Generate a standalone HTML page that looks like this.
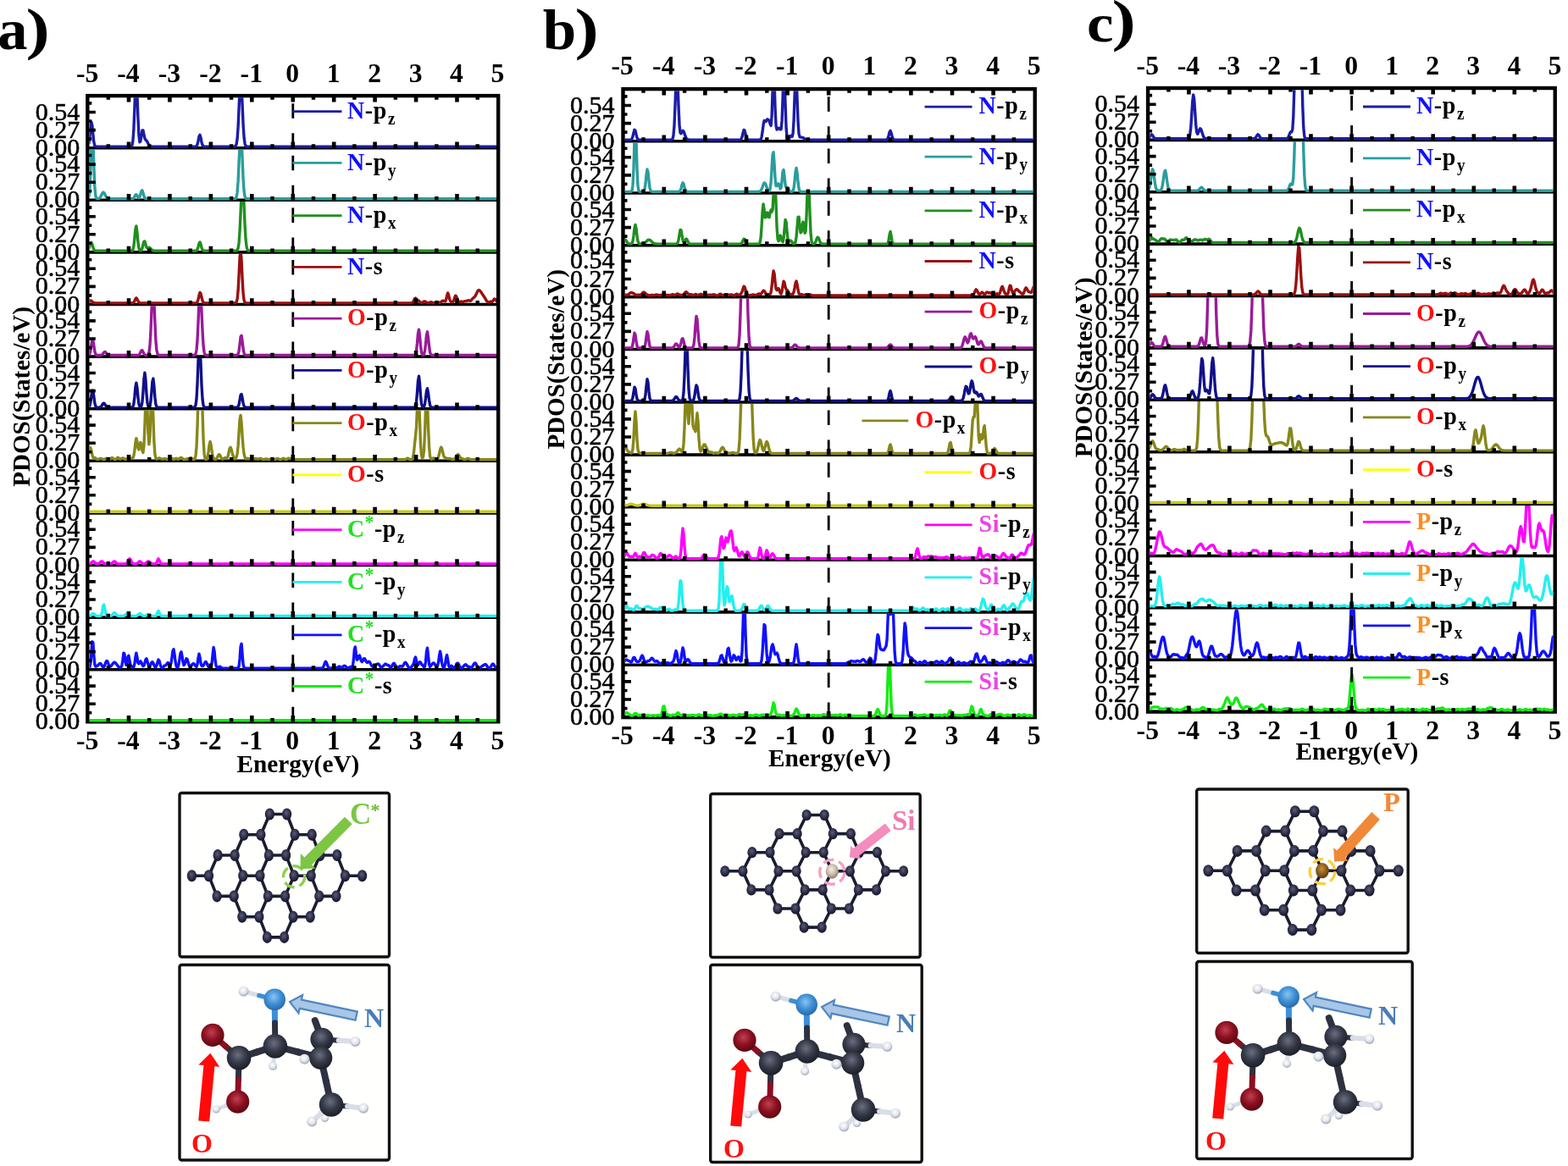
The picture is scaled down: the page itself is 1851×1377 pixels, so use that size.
<!DOCTYPE html><html><head><meta charset="utf-8"><style>html,body{margin:0;padding:0;background:#fff;}svg{display:block}</style></head><body>
<svg width="1851" height="1377" viewBox="0 0 1851 1377" font-family='"Liberation Serif", "Times New Roman", serif' font-weight="bold">
<rect width="1851" height="1377" fill="#fff"/>
<defs>
<clipPath id="cla0"><rect x="105.5" y="115.3" width="480.5" height="61.4"/></clipPath>
<clipPath id="cla1"><rect x="105.5" y="176.5" width="480.5" height="61.8"/></clipPath>
<clipPath id="cla2"><rect x="105.5" y="238.1" width="480.5" height="61.8"/></clipPath>
<clipPath id="cla3"><rect x="105.5" y="299.7" width="480.5" height="61.8"/></clipPath>
<clipPath id="cla4"><rect x="105.5" y="361.3" width="480.5" height="61.8"/></clipPath>
<clipPath id="cla5"><rect x="105.5" y="422.9" width="480.5" height="61.8"/></clipPath>
<clipPath id="cla6"><rect x="105.5" y="484.5" width="480.5" height="61.8"/></clipPath>
<clipPath id="cla7"><rect x="105.5" y="546.1" width="480.5" height="61.8"/></clipPath>
<clipPath id="cla8"><rect x="105.5" y="607.7" width="480.5" height="61.8"/></clipPath>
<clipPath id="cla9"><rect x="105.5" y="669.3" width="480.5" height="61.8"/></clipPath>
<clipPath id="cla10"><rect x="105.5" y="730.9" width="480.5" height="61.8"/></clipPath>
<clipPath id="cla11"><rect x="105.5" y="792.5" width="480.5" height="61.8"/></clipPath>
<clipPath id="clb0"><rect x="737.7" y="107.3" width="481.8" height="61.4"/></clipPath>
<clipPath id="clb1"><rect x="737.7" y="168.5" width="481.8" height="61.5"/></clipPath>
<clipPath id="clb2"><rect x="737.7" y="229.8" width="481.8" height="61.9"/></clipPath>
<clipPath id="clb3"><rect x="737.7" y="291.5" width="481.8" height="61.1"/></clipPath>
<clipPath id="clb4"><rect x="737.7" y="352.4" width="481.8" height="62.1"/></clipPath>
<clipPath id="clb5"><rect x="737.7" y="414.3" width="481.8" height="62.7"/></clipPath>
<clipPath id="clb6"><rect x="737.7" y="476.8" width="481.8" height="62.3"/></clipPath>
<clipPath id="clb7"><rect x="737.7" y="538.9" width="481.8" height="61.9"/></clipPath>
<clipPath id="clb8"><rect x="737.7" y="600.6" width="481.8" height="62.7"/></clipPath>
<clipPath id="clb9"><rect x="737.7" y="663.1" width="481.8" height="61.8"/></clipPath>
<clipPath id="clb10"><rect x="737.7" y="724.7" width="481.8" height="62.5"/></clipPath>
<clipPath id="clb11"><rect x="737.7" y="787.0" width="481.8" height="62.1"/></clipPath>
<clipPath id="clc0"><rect x="1357.3" y="106.2" width="476.2" height="61.2"/></clipPath>
<clipPath id="clc1"><rect x="1357.3" y="167.2" width="476.2" height="61.6"/></clipPath>
<clipPath id="clc2"><rect x="1357.3" y="228.6" width="476.2" height="61.6"/></clipPath>
<clipPath id="clc3"><rect x="1357.3" y="289.9" width="476.2" height="61.6"/></clipPath>
<clipPath id="clc4"><rect x="1357.3" y="351.3" width="476.2" height="61.6"/></clipPath>
<clipPath id="clc5"><rect x="1357.3" y="412.7" width="476.2" height="61.6"/></clipPath>
<clipPath id="clc6"><rect x="1357.3" y="474.1" width="476.2" height="61.6"/></clipPath>
<clipPath id="clc7"><rect x="1357.3" y="535.5" width="476.2" height="61.6"/></clipPath>
<clipPath id="clc8"><rect x="1357.3" y="596.9" width="476.2" height="61.6"/></clipPath>
<clipPath id="clc9"><rect x="1357.3" y="658.2" width="476.2" height="61.6"/></clipPath>
<clipPath id="clc10"><rect x="1357.3" y="719.6" width="476.2" height="61.6"/></clipPath>
<clipPath id="clc11"><rect x="1357.3" y="781.0" width="476.2" height="61.6"/></clipPath>
</defs>
<path d="M103.3,174.7H588.2 M103.3,236.3H588.2 M103.3,297.9H588.2 M103.3,359.5H588.2 M103.3,421.1H588.2 M103.3,482.7H588.2 M103.3,544.3H588.2 M103.3,605.9H588.2 M103.3,667.5H588.2 M103.3,729.1H588.2 M103.3,790.7H588.2" stroke="#000" stroke-width="3.6" fill="none"/>
<rect x="103.3" y="113.1" width="484.9" height="739.2" fill="none" stroke="#000" stroke-width="4.4"/>
<path d="M104.8,169.8L105.8,162.8L106.8,151.7L107.8,144.3L108.8,147.9L109.8,158.7L110.8,167.7L111.8,171.8L112.8,172.9L113.8,173.1L153.9,173.1L154.9,172.9L155.9,171.6L156.9,166.5L157.9,152.5L158.9,127.4L159.9,101.4L160.9,93.7L161.9,110.9L162.9,138.7L163.9,159.3L164.9,167.7L165.9,166.7L166.9,160.2L167.9,154.0L168.9,153.9L169.9,158.9L170.9,163.4L171.9,165.2L172.9,166.0L173.9,167.5L174.9,169.5L175.9,171.2L176.9,172.3L177.9,172.8L178.9,173.0L179.9,173.1L230.0,173.1L231.0,173.0L232.0,172.5L233.0,170.7L234.0,166.4L235.0,161.1L236.0,159.2L237.0,162.5L238.0,167.9L239.1,171.4L240.1,172.7L241.1,173.1L276.1,173.1L277.1,173.0L278.1,172.5L279.1,170.3L280.1,164.0L281.1,149.8L282.1,127.4L283.1,104.2L284.1,93.1L285.1,101.8L286.1,124.2L287.1,147.3L288.1,162.6L289.1,169.8L290.1,172.3L291.1,173.0L292.1,173.1L586.7,173.1" fill="none" stroke="#1c1ca6" stroke-width="3.4" stroke-linejoin="round" clip-path="url(#cla0)"/>
<path d="M104.8,232.9L105.8,225.7L106.8,206.1L107.8,175.7L108.8,155.3L109.8,165.1L110.8,195.0L111.8,219.9L112.8,231.1L113.8,234.1L114.8,234.6L115.8,234.6L116.8,234.3L117.8,233.6L118.8,232.2L119.8,230.2L120.8,228.2L121.8,227.1L122.8,227.7L123.8,229.5L124.8,231.6L125.8,233.2L126.8,234.1L127.8,234.5L128.8,234.7L155.9,234.7L156.9,234.5L157.9,233.8L158.9,232.2L159.9,230.3L160.9,229.7L161.9,231.0L162.9,232.8L163.9,233.6L164.9,232.4L165.9,229.2L166.9,225.6L167.9,224.9L168.9,227.8L169.9,231.5L170.9,233.8L171.9,234.5L172.9,234.7L276.1,234.7L277.1,234.6L278.1,234.3L279.1,232.7L280.1,227.2L281.1,213.9L282.1,191.3L283.1,166.7L284.1,154.7L285.1,164.1L286.1,188.0L287.1,211.5L288.1,226.0L289.1,232.3L290.1,234.2L291.1,234.6L292.1,234.7L586.7,234.7" fill="none" stroke="#2a9d9d" stroke-width="3.4" stroke-linejoin="round" clip-path="url(#cla1)"/>
<path d="M104.8,293.7L105.8,290.6L106.8,287.3L107.8,286.4L108.8,288.5L109.8,292.0L110.8,294.6L111.8,295.8L112.8,296.2L113.8,296.3L154.9,296.3L155.9,296.1L156.9,294.9L157.9,290.7L158.9,281.4L159.9,270.4L160.9,266.9L161.9,274.5L162.9,285.8L163.9,293.0L164.9,295.6L165.9,296.1L166.9,295.4L167.9,293.2L168.9,289.0L169.9,285.1L170.9,285.0L171.9,288.5L172.9,291.9L173.9,293.0L174.9,292.6L175.9,292.3L176.9,292.7L177.9,293.7L178.9,294.8L179.9,295.6L180.9,296.0L181.9,296.2L182.9,296.3L230.0,296.3L231.0,296.2L232.0,295.9L233.0,294.5L234.0,291.4L235.0,287.5L236.0,286.0L237.0,288.5L238.0,292.5L239.1,295.1L240.1,296.0L241.1,296.3L278.1,296.3L279.1,296.1L280.1,295.5L281.1,293.1L282.1,286.4L283.1,272.3L284.1,250.7L285.1,228.3L286.1,216.5L287.1,222.8L288.1,243.1L289.1,266.0L290.1,282.8L291.1,291.5L292.1,295.0L293.2,296.0L294.2,296.3L586.7,296.3" fill="none" stroke="#1f8f1f" stroke-width="3.4" stroke-linejoin="round" clip-path="url(#cla2)"/>
<path d="M104.8,356.6L105.8,355.6L106.8,354.9L107.8,355.2L108.8,356.2L109.8,357.1L110.8,357.7L111.8,357.8L112.8,357.9L155.9,357.9L156.9,357.7L157.9,357.0L158.9,355.3L159.9,353.0L160.9,351.9L161.9,353.1L162.9,355.4L163.9,357.0L164.9,357.7L165.9,357.9L231.0,357.9L232.0,357.6L233.0,356.6L234.0,353.6L235.0,348.8L236.0,345.4L237.0,346.6L238.0,351.3L239.1,355.4L240.1,357.3L241.1,357.8L242.1,357.9L277.1,357.9L278.1,357.7L279.1,356.9L280.1,353.3L281.1,343.0L282.1,324.0L283.1,303.5L284.1,296.1L285.1,308.3L286.1,329.8L287.1,346.6L288.1,354.7L289.1,357.3L290.1,357.8L291.1,357.9L484.5,357.9L485.5,357.8L486.5,357.6L487.5,356.7L488.5,354.8L489.5,352.7L490.5,352.1L491.5,353.4L492.5,354.8L493.5,354.9L494.5,355.2L495.5,356.6L496.5,357.5L497.5,357.6L498.5,357.2L499.5,356.6L500.5,356.0L501.5,355.9L502.5,356.4L503.5,357.0L504.5,357.5L505.5,357.8L506.6,357.6L507.6,357.1L508.6,356.7L509.6,356.9L510.6,357.5L511.6,357.8L512.6,357.8L513.6,357.6L514.6,357.2L515.6,356.9L516.6,356.8L517.6,357.0L518.6,357.3L519.6,357.2L520.6,356.7L521.6,355.9L522.6,355.2L523.6,355.2L524.6,355.7L525.6,355.9L526.6,353.9L527.6,349.3L528.6,346.0L529.6,348.3L530.6,352.9L531.6,355.5L532.6,356.3L533.6,356.7L534.6,356.5L535.6,354.8L536.6,351.7L537.6,349.2L538.6,349.7L539.6,352.6L540.6,355.5L541.6,356.8L542.6,356.7L543.6,356.1L544.6,356.0L545.6,356.4L546.6,356.5L547.6,356.1L548.6,355.6L549.6,355.6L550.6,355.6L551.6,355.2L552.6,354.6L553.6,354.8L554.6,355.4L555.6,355.2L556.6,354.2L557.6,353.0L558.6,352.0L559.6,351.2L560.7,350.1L561.7,348.5L562.7,346.3L563.7,344.1L564.7,342.8L565.7,342.7L566.7,343.5L567.7,344.8L568.7,346.2L569.7,347.8L570.7,349.2L571.7,350.7L572.7,352.4L573.7,354.3L574.7,355.7L575.7,356.5L576.7,356.9L577.7,356.8L578.7,356.3L579.7,356.3L580.7,356.4L581.7,355.7L582.7,354.1L583.7,353.0L584.7,353.3L585.7,354.9L586.7,356.5" fill="none" stroke="#9a1010" stroke-width="3.4" stroke-linejoin="round" clip-path="url(#cla3)"/>
<path d="M104.8,419.3L105.8,418.1L106.8,414.6L107.8,408.0L108.8,401.9L109.8,402.0L110.8,408.1L111.8,414.7L112.8,418.2L113.8,419.3L114.8,419.5L117.8,419.5L118.8,419.4L119.8,419.2L120.8,418.6L121.8,417.5L122.8,416.1L123.8,415.5L124.8,416.2L125.8,417.6L126.8,418.7L127.8,419.3L128.8,419.5L161.9,419.5L162.9,419.4L163.9,419.1L164.9,418.1L165.9,416.0L166.9,413.9L167.9,413.7L168.9,415.6L169.9,417.8L170.9,419.0L171.9,419.4L172.9,419.5L173.9,419.4L174.9,418.8L175.9,416.4L176.9,409.0L177.9,392.7L178.9,368.2L179.9,345.8L180.9,340.2L181.9,355.4L182.9,380.6L183.9,401.8L184.9,413.5L186.0,417.9L187.0,419.2L188.0,419.5L229.0,419.5L230.0,419.2L231.0,418.0L232.0,413.5L233.0,402.0L234.0,380.9L235.0,355.7L236.0,340.2L237.0,345.6L238.0,367.8L239.1,392.4L240.1,408.8L241.1,416.3L242.1,418.8L243.1,419.4L244.1,419.5L279.1,419.5L280.1,419.3L281.1,418.2L282.1,414.3L283.1,406.4L284.1,397.8L285.1,396.3L286.1,403.3L287.1,412.1L288.1,417.3L289.1,419.1L290.1,419.4L291.1,419.5L488.5,419.5L489.5,419.3L490.5,418.3L491.5,414.3L492.5,405.2L493.5,393.7L494.5,389.2L495.5,396.4L496.5,408.0L497.5,415.8L498.5,418.7L499.5,419.2L500.5,418.3L501.5,414.6L502.5,406.2L503.5,395.7L504.5,391.8L505.5,398.5L506.6,409.1L507.6,416.2L508.6,418.8L509.6,419.4L510.6,419.5L586.7,419.5" fill="none" stroke="#9a1a9a" stroke-width="3.4" stroke-linejoin="round" clip-path="url(#cla4)"/>
<path d="M104.8,480.8L105.8,479.6L106.8,475.6L107.8,468.1L108.8,461.2L109.8,461.2L110.8,468.2L111.8,475.7L112.8,479.6L113.8,480.8L114.8,481.1L116.8,481.1L117.8,481.0L118.8,480.6L119.8,479.6L120.8,478.0L121.8,476.5L122.8,476.2L123.8,477.4L124.8,479.2L125.8,480.4L126.8,480.9L127.8,481.1L154.9,481.1L155.9,481.0L156.9,480.2L157.9,476.9L158.9,468.7L159.9,457.6L160.9,452.1L161.9,457.7L162.9,468.8L163.9,476.9L164.9,480.1L165.9,480.8L166.9,479.7L167.9,475.0L168.9,463.4L169.9,447.7L170.9,440.1L171.9,448.3L172.9,464.1L173.9,475.3L174.9,479.8L175.9,480.6L176.9,479.4L177.9,474.4L178.9,463.4L179.9,450.7L180.9,447.1L181.9,456.4L182.9,469.4L183.9,477.5L184.9,480.4L186.0,481.0L187.0,481.1L228.0,481.1L229.0,481.0L230.0,480.6L231.0,478.6L232.0,471.0L233.0,453.0L234.0,425.7L235.0,403.9L236.0,405.1L237.0,428.2L238.0,455.1L239.1,472.1L240.1,478.9L241.1,480.7L242.1,481.1L279.1,481.1L280.1,480.9L281.1,480.2L282.1,477.6L283.1,472.3L284.1,466.5L285.1,465.5L286.1,470.2L287.1,476.1L288.1,479.6L289.1,480.8L290.1,481.1L488.5,481.1L489.5,480.9L490.5,479.6L491.5,474.8L492.5,463.7L493.5,449.7L494.5,444.2L495.5,452.9L496.5,467.1L497.5,476.6L498.5,480.1L499.5,480.8L500.5,480.2L501.5,477.2L502.5,470.3L503.5,461.9L504.5,458.7L505.5,464.1L506.6,472.7L507.6,478.4L508.6,480.5L509.6,481.0L510.6,481.1L586.7,481.1" fill="none" stroke="#10108a" stroke-width="3.4" stroke-linejoin="round" clip-path="url(#cla5)"/>
<path d="M104.8,535.0L105.8,530.3L106.8,528.7L107.8,531.8L108.8,536.7L109.8,540.2L110.8,541.0L111.8,540.7L112.8,541.0L113.8,541.9L114.8,542.4L115.8,542.4L116.8,542.1L117.8,541.7L118.8,541.5L119.8,541.7L120.8,542.1L121.8,542.4L122.8,542.5L123.8,542.2L124.8,541.6L125.8,541.3L126.8,541.8L127.8,542.4L128.8,542.6L129.8,542.3L130.8,541.6L131.9,540.6L132.9,540.6L133.9,541.6L134.9,542.3L135.9,542.6L136.9,542.3L137.9,541.3L138.9,540.3L139.9,540.7L140.9,541.8L141.9,542.1L142.9,541.7L143.9,541.1L144.9,541.0L145.9,541.3L146.9,541.9L147.9,542.3L148.9,542.3L149.9,541.9L150.9,541.2L151.9,540.7L152.9,540.8L153.9,541.4L154.9,541.6L155.9,541.2L156.9,540.5L157.9,538.3L158.9,532.1L159.9,522.9L160.9,517.6L161.9,521.4L162.9,529.0L163.9,531.1L164.9,526.3L165.9,522.4L166.9,525.4L167.9,532.0L168.9,534.6L169.9,526.6L170.9,503.6L171.9,474.1L172.9,462.7L173.9,481.3L174.9,510.4L175.9,524.8L176.9,516.3L177.9,489.8L178.9,465.2L179.9,466.8L180.9,493.6L181.9,521.5L182.9,536.4L183.9,541.2L184.9,542.1L186.0,541.8L187.0,541.3L188.0,541.0L189.0,541.3L190.0,541.8L191.0,542.1L192.0,542.1L193.0,541.8L194.0,541.6L195.0,541.7L196.0,542.0L197.0,542.3L198.0,542.5L199.0,542.6L200.0,542.2L201.0,541.3L202.0,540.7L203.0,541.2L204.0,542.1L205.0,542.5L206.0,542.2L207.0,541.6L208.0,541.3L209.0,541.6L210.0,542.2L211.0,542.2L212.0,541.5L213.0,540.6L214.0,540.4L215.0,541.1L216.0,542.0L217.0,542.5L218.0,542.6L219.0,542.4L220.0,542.0L221.0,541.9L222.0,542.2L223.0,542.1L224.0,541.3L225.0,540.5L226.0,540.9L227.0,542.0L228.0,542.5L229.0,542.4L230.0,541.5L231.0,538.3L232.0,528.0L233.0,504.2L234.0,469.9L235.0,442.1L236.0,431.3L237.0,434.8L238.0,454.5L239.1,488.4L240.1,519.6L241.1,536.2L242.1,541.5L243.1,542.5L244.1,542.0L245.1,539.6L246.1,533.5L247.1,525.4L248.1,521.4L249.1,525.2L250.1,532.9L251.1,538.7L252.1,541.1L253.1,541.9L254.1,542.3L255.1,542.1L256.1,541.1L257.1,539.0L258.1,537.0L259.1,536.8L260.1,538.5L261.1,540.6L262.1,541.8L263.1,542.0L264.1,541.5L265.1,540.8L266.1,540.8L267.1,541.2L268.1,540.9L269.1,538.7L270.1,534.2L271.1,529.7L272.1,528.2L273.1,530.7L274.1,534.7L275.1,538.2L276.1,540.7L277.1,541.9L278.1,541.4L279.1,539.7L280.1,535.8L281.1,526.4L282.1,510.6L283.1,495.1L284.1,490.4L285.1,499.7L286.1,515.4L287.1,528.4L288.1,536.2L289.1,540.2L290.1,541.8L291.1,541.7L292.1,541.3L293.2,541.6L294.2,541.9L295.2,541.7L296.2,541.2L297.2,540.9L298.2,541.0L299.2,541.4L300.2,541.7L301.2,541.7L302.2,541.7L303.2,541.9L304.2,542.1L305.2,542.0L306.2,541.7L307.2,541.5L308.2,541.7L309.2,542.1L310.2,542.4L311.2,542.6L312.2,542.5L313.2,542.2L314.2,541.9L315.2,542.1L316.2,542.4L317.2,542.6L318.2,542.4L319.2,542.2L320.2,542.2L321.2,542.3L322.2,542.5L323.2,542.6L324.2,542.6L325.2,542.4L326.2,541.9L327.2,541.5L328.2,541.6L329.2,542.0L330.2,542.5L331.2,542.6L332.2,542.4L333.2,541.8L334.2,541.3L335.2,541.5L336.2,542.2L337.2,542.6L338.2,542.4L339.2,541.9L340.2,541.3L341.2,541.3L342.2,541.6L343.2,541.6L344.2,541.4L345.2,541.5L346.3,541.8L347.3,542.2L348.3,542.5L349.3,542.6L350.3,542.7L477.5,542.7L478.5,542.6L479.5,542.1L480.5,541.3L481.5,541.1L482.5,541.8L483.5,542.5L484.5,542.7L485.5,542.7L486.5,542.3L487.5,540.4L488.5,534.4L489.5,524.3L490.5,515.2L491.5,504.7L492.5,483.2L493.5,462.5L494.5,467.6L495.5,496.6L496.5,524.2L497.5,537.6L498.5,541.0L499.5,539.7L500.5,532.2L501.5,512.3L502.5,482.2L503.5,462.9L504.5,473.9L505.5,503.7L506.6,527.9L507.6,538.7L508.6,541.8L509.6,542.2L510.6,541.6L511.6,540.9L512.6,541.3L513.6,542.2L514.6,542.5L515.6,542.4L516.6,541.5L517.6,539.4L518.6,535.7L519.6,531.0L520.6,528.2L521.6,529.4L522.6,533.7L523.6,537.9L524.6,539.9L525.6,540.6L526.6,540.9L527.6,541.4L528.6,541.7L529.6,541.7L530.6,541.5L531.6,541.6L532.6,542.0L533.6,542.3L534.6,542.5L535.6,542.4L536.6,541.9L537.6,540.7L538.6,539.0L539.6,537.3L540.6,536.5L541.6,537.4L542.6,539.3L543.6,540.8L544.6,541.2L545.6,541.5L546.6,542.0L547.6,542.4L548.6,542.6L549.6,542.4L550.6,542.0L551.6,541.5L552.6,541.4L553.6,541.8L554.6,542.3L555.6,542.6L556.6,542.7L586.7,542.7" fill="none" stroke="#87871a" stroke-width="3.4" stroke-linejoin="round" clip-path="url(#cla6)"/>
<path d="M104.8,604.3L586.7,604.3" fill="none" stroke="#c8c818" stroke-width="3.4" stroke-linejoin="round" clip-path="url(#cla7)"/>
<path d="M104.8,665.9L105.8,665.8L106.8,665.4L107.8,664.6L108.8,663.6L109.8,662.9L110.8,663.2L111.8,664.2L112.8,665.1L113.8,665.7L114.8,665.8L115.8,665.7L116.8,665.4L117.8,664.6L118.8,663.5L119.8,662.9L120.8,663.2L121.8,664.2L122.8,665.2L123.8,665.7L124.8,665.8L125.8,665.9L129.8,665.9L130.8,665.7L131.9,665.4L132.9,664.5L133.9,663.5L134.9,662.9L135.9,663.3L136.9,664.3L137.9,665.2L138.9,665.7L139.9,665.9L146.9,665.9L147.9,665.8L148.9,665.6L149.9,664.8L150.9,663.1L151.9,661.1L152.9,659.9L153.9,660.7L154.9,662.7L155.9,664.5L156.9,665.5L157.9,665.8L158.9,665.9L159.9,665.9L160.9,665.7L161.9,665.3L162.9,664.5L163.9,663.5L164.9,662.9L165.9,663.3L166.9,664.3L167.9,665.2L168.9,665.7L169.9,665.8L170.9,665.7L171.9,665.3L172.9,664.5L173.9,663.4L174.9,662.9L175.9,663.3L176.9,664.3L177.9,665.2L178.9,665.7L179.9,665.9L182.9,665.9L183.9,665.6L184.9,664.3L186.0,661.6L187.0,659.9L188.0,661.4L189.0,664.1L190.0,665.5L191.0,665.9L586.7,665.9" fill="none" stroke="#ff00ff" stroke-width="3.4" stroke-linejoin="round" clip-path="url(#cla8)"/>
<path d="M104.8,727.5L105.8,727.4L106.8,727.0L107.8,726.2L108.8,725.2L109.8,724.5L110.8,724.8L111.8,725.8L112.8,726.7L113.8,727.3L114.8,727.4L115.8,727.5L117.8,727.5L118.8,727.3L119.8,725.9L120.8,721.6L121.8,715.3L122.8,714.0L123.8,719.4L124.8,724.9L125.8,727.0L126.8,727.5L129.8,727.5L130.8,727.3L131.9,726.8L132.9,725.7L133.9,724.3L134.9,723.5L135.9,724.0L136.9,725.3L137.9,726.5L138.9,727.2L139.9,727.4L140.9,727.5L144.9,727.5L145.9,727.3L146.9,726.9L147.9,726.1L148.9,725.1L149.9,724.5L150.9,724.9L151.9,725.9L152.9,726.8L153.9,727.3L154.9,727.5L159.9,727.5L160.9,727.3L161.9,726.9L162.9,726.1L163.9,725.1L164.9,724.5L165.9,724.9L166.9,725.9L167.9,726.8L168.9,727.3L169.9,727.4L170.9,727.4L171.9,727.1L172.9,726.5L173.9,725.9L174.9,725.5L175.9,725.8L176.9,726.5L177.9,727.1L178.9,727.4L179.9,727.5L182.9,727.5L183.9,727.2L184.9,725.9L186.0,723.2L187.0,721.5L188.0,723.0L189.0,725.7L190.0,727.1L191.0,727.5L586.7,727.5" fill="none" stroke="#22f0f0" stroke-width="3.4" stroke-linejoin="round" clip-path="url(#cla9)"/>
<path d="M104.8,788.8L105.8,787.9L106.8,783.9L107.8,772.3L108.8,757.8L109.8,758.6L110.8,773.8L111.8,784.5L112.8,787.0L113.8,786.8L114.8,786.4L115.8,785.7L116.8,784.5L117.8,783.5L118.8,783.6L119.8,785.0L120.8,786.8L121.8,788.0L122.8,787.4L123.8,785.2L124.8,782.4L125.8,780.6L126.8,780.9L127.8,783.5L128.8,786.2L129.8,787.3L130.8,786.8L131.9,785.6L132.9,784.1L133.9,782.9L134.9,782.2L135.9,782.5L136.9,783.6L137.9,784.9L138.9,786.2L139.9,787.3L140.9,788.0L141.9,788.1L142.9,787.8L143.9,786.0L144.9,779.5L145.9,771.1L146.9,772.0L147.9,780.7L148.9,785.3L149.9,782.5L150.9,775.9L151.9,774.2L152.9,779.8L153.9,784.8L154.9,786.5L155.9,787.5L156.9,788.1L157.9,787.6L158.9,784.0L159.9,776.2L160.9,771.2L161.9,776.1L162.9,782.7L163.9,783.8L164.9,781.8L165.9,780.9L166.9,782.3L167.9,784.9L168.9,786.6L169.9,786.0L170.9,782.9L171.9,779.1L172.9,777.8L173.9,780.6L174.9,784.7L175.9,786.9L176.9,786.6L177.9,784.7L178.9,782.4L179.9,781.7L180.9,783.1L181.9,785.6L182.9,787.5L183.9,787.8L184.9,785.8L186.0,781.9L187.0,779.1L188.0,780.3L189.0,784.2L190.0,787.2L191.0,788.6L192.0,788.5L193.0,787.4L194.0,786.1L195.0,785.9L196.0,785.4L197.0,783.8L198.0,782.7L199.0,783.1L200.0,784.6L201.0,785.3L202.0,782.9L203.0,776.2L204.0,768.5L205.0,766.8L206.0,772.7L207.0,780.9L208.0,786.3L209.0,788.3L210.0,787.8L211.0,784.6L212.0,778.3L213.0,771.6L214.0,769.9L215.0,775.0L216.0,781.9L217.0,785.5L218.0,784.5L219.0,780.9L220.0,777.8L221.0,778.5L222.0,782.0L223.0,785.3L224.0,786.8L225.0,786.9L226.0,786.0L227.0,784.6L228.0,783.7L229.0,784.0L230.0,785.3L231.0,786.8L232.0,787.4L233.0,784.5L234.0,777.0L235.0,772.1L236.0,776.4L237.0,783.1L238.0,786.1L239.1,786.6L240.1,785.9L241.1,784.1L242.1,782.1L243.1,781.6L244.1,783.2L245.1,785.7L246.1,787.5L247.1,788.0L248.1,787.6L249.1,786.8L250.1,783.1L251.1,773.1L252.1,764.5L253.1,769.4L254.1,780.4L255.1,786.3L256.1,788.2L257.1,788.6L258.1,788.0L259.1,787.1L260.1,787.4L261.1,788.4L262.1,789.0L263.1,789.1L280.1,789.1L281.1,788.8L282.1,786.7L283.1,777.9L284.1,763.4L285.1,760.3L286.1,773.2L287.1,784.8L288.1,788.5L289.1,789.1L379.3,789.1L380.3,788.9L381.3,788.2L382.3,786.2L383.3,783.2L384.3,781.2L385.3,782.2L386.3,785.2L387.3,787.6L388.3,788.8L389.3,789.0L390.3,789.1L391.3,789.0L392.3,788.7L393.3,788.2L394.3,787.9L395.3,787.9L396.3,788.3L397.3,788.6L398.3,788.4L399.4,787.6L400.4,787.0L401.4,787.4L402.4,788.1L403.4,788.3L404.4,787.7L405.4,786.8L406.4,786.3L407.4,786.5L408.4,787.3L409.4,788.2L410.4,788.7L411.4,788.8L412.4,788.4L413.4,787.7L414.4,787.4L415.4,787.8L416.4,786.5L417.4,779.1L418.4,766.9L419.4,763.9L420.4,772.8L421.4,779.3L422.4,778.3L423.4,774.9L424.4,774.1L425.4,777.0L426.4,780.6L427.4,781.6L428.4,780.0L429.4,777.9L430.4,777.7L431.4,779.4L432.4,781.5L433.4,782.4L434.4,781.9L435.4,781.3L436.4,781.9L437.4,783.7L438.4,785.7L439.4,786.9L440.4,787.3L441.4,787.1L442.4,786.5L443.4,785.6L444.4,784.7L445.4,784.1L446.4,784.0L447.4,784.7L448.4,786.3L449.4,787.7L450.4,787.9L451.4,787.3L452.4,786.5L453.5,785.4L454.5,784.3L455.5,784.2L456.5,785.0L457.5,785.5L458.5,785.5L459.5,786.4L460.5,787.7L461.5,788.0L462.5,786.9L463.5,784.9L464.5,783.4L465.5,783.5L466.5,785.3L467.5,787.2L468.5,788.2L469.5,788.3L470.5,787.8L471.5,787.1L472.5,786.7L473.5,786.9L474.5,787.2L475.5,786.7L476.5,785.1L477.5,783.1L478.5,782.2L479.5,783.0L480.5,784.9L481.5,786.8L482.5,788.2L483.5,788.7L484.5,788.6L485.5,787.8L486.5,786.5L487.5,785.4L488.5,783.0L489.5,778.2L490.5,776.0L491.5,780.0L492.5,784.7L493.5,785.3L494.5,783.1L495.5,781.7L496.5,782.3L497.5,784.1L498.5,785.4L499.5,786.4L500.5,787.5L501.5,787.1L502.5,781.2L503.5,769.8L504.5,765.2L505.5,774.3L506.6,784.4L507.6,787.4L508.6,786.4L509.6,784.8L510.6,783.7L511.6,782.9L512.6,783.3L513.6,785.0L514.6,786.5L515.6,786.8L516.6,785.8L517.6,782.2L518.6,774.3L519.6,769.2L520.6,774.4L521.6,782.6L522.6,787.0L523.6,788.3L524.6,787.6L525.6,783.9L526.6,776.9L527.6,773.6L528.6,779.1L529.6,785.8L530.6,788.1L531.6,787.5L532.6,786.3L533.6,786.7L534.6,788.1L535.6,788.7L536.6,788.4L537.6,787.2L538.6,785.2L539.6,783.4L540.6,783.1L541.6,784.8L542.6,787.1L543.6,788.4L544.6,788.8L545.6,788.5L546.6,787.6L547.6,786.4L548.6,785.2L549.6,784.7L550.6,785.4L551.6,786.7L552.6,787.4L553.6,787.3L554.6,787.6L555.6,788.3L556.6,788.4L557.6,787.4L558.6,785.6L559.6,783.8L560.7,782.9L561.7,783.7L562.7,785.5L563.7,787.3L564.7,788.5L565.7,788.9L566.7,788.7L567.7,787.9L568.7,786.9L569.7,786.3L570.7,785.8L571.7,785.0L572.7,784.5L573.7,784.9L574.7,786.2L575.7,787.7L576.7,788.6L577.7,788.8L578.7,788.3L579.7,786.9L580.7,785.1L581.7,784.0L582.7,784.5L583.7,786.2L584.7,787.8L585.7,788.7L586.7,789.0" fill="none" stroke="#1010ff" stroke-width="3.4" stroke-linejoin="round" clip-path="url(#cla10)"/>
<path d="M104.8,850.7L586.7,850.7" fill="none" stroke="#10ee10" stroke-width="3.4" stroke-linejoin="round" clip-path="url(#cla11)"/>
<line x1="345.8" y1="174.7" x2="345.8" y2="113.1" stroke="#000" stroke-width="2.8" stroke-dasharray="17.5 17.5"/>
<line x1="345.8" y1="236.3" x2="345.8" y2="174.7" stroke="#000" stroke-width="2.8" stroke-dasharray="17.5 17.5"/>
<line x1="345.8" y1="297.9" x2="345.8" y2="236.3" stroke="#000" stroke-width="2.8" stroke-dasharray="17.5 17.5"/>
<line x1="345.8" y1="359.5" x2="345.8" y2="297.9" stroke="#000" stroke-width="2.8" stroke-dasharray="17.5 17.5"/>
<line x1="345.8" y1="421.1" x2="345.8" y2="359.5" stroke="#000" stroke-width="2.8" stroke-dasharray="17.5 17.5"/>
<line x1="345.8" y1="482.7" x2="345.8" y2="421.1" stroke="#000" stroke-width="2.8" stroke-dasharray="17.5 17.5"/>
<line x1="345.8" y1="544.3" x2="345.8" y2="482.7" stroke="#000" stroke-width="2.8" stroke-dasharray="17.5 17.5"/>
<line x1="345.8" y1="605.9" x2="345.8" y2="544.3" stroke="#000" stroke-width="2.8" stroke-dasharray="17.5 17.5"/>
<line x1="345.8" y1="667.5" x2="345.8" y2="605.9" stroke="#000" stroke-width="2.8" stroke-dasharray="17.5 17.5"/>
<line x1="345.8" y1="729.1" x2="345.8" y2="667.5" stroke="#000" stroke-width="2.8" stroke-dasharray="17.5 17.5"/>
<line x1="345.8" y1="790.7" x2="345.8" y2="729.1" stroke="#000" stroke-width="2.8" stroke-dasharray="17.5 17.5"/>
<line x1="345.8" y1="852.3" x2="345.8" y2="790.7" stroke="#000" stroke-width="2.8" stroke-dasharray="17.5 17.5"/>
<path d="M152.0,174.7v-7.2 M200.4,174.7v-7.2 M248.9,174.7v-7.2 M297.3,174.7v-7.2 M345.8,174.7v-7.2 M394.2,174.7v-7.2 M442.6,174.7v-7.2 M491.1,174.7v-7.2 M539.5,174.7v-7.2 M152.0,236.3v-7.2 M200.4,236.3v-7.2 M248.9,236.3v-7.2 M297.3,236.3v-7.2 M345.8,236.3v-7.2 M394.2,236.3v-7.2 M442.6,236.3v-7.2 M491.1,236.3v-7.2 M539.5,236.3v-7.2 M152.0,297.9v-7.2 M200.4,297.9v-7.2 M248.9,297.9v-7.2 M297.3,297.9v-7.2 M345.8,297.9v-7.2 M394.2,297.9v-7.2 M442.6,297.9v-7.2 M491.1,297.9v-7.2 M539.5,297.9v-7.2 M152.0,359.5v-7.2 M200.4,359.5v-7.2 M248.9,359.5v-7.2 M297.3,359.5v-7.2 M345.8,359.5v-7.2 M394.2,359.5v-7.2 M442.6,359.5v-7.2 M491.1,359.5v-7.2 M539.5,359.5v-7.2 M152.0,421.1v-7.2 M200.4,421.1v-7.2 M248.9,421.1v-7.2 M297.3,421.1v-7.2 M345.8,421.1v-7.2 M394.2,421.1v-7.2 M442.6,421.1v-7.2 M491.1,421.1v-7.2 M539.5,421.1v-7.2 M152.0,482.7v-7.2 M200.4,482.7v-7.2 M248.9,482.7v-7.2 M297.3,482.7v-7.2 M345.8,482.7v-7.2 M394.2,482.7v-7.2 M442.6,482.7v-7.2 M491.1,482.7v-7.2 M539.5,482.7v-7.2 M152.0,544.3v-7.2 M200.4,544.3v-7.2 M248.9,544.3v-7.2 M297.3,544.3v-7.2 M345.8,544.3v-7.2 M394.2,544.3v-7.2 M442.6,544.3v-7.2 M491.1,544.3v-7.2 M539.5,544.3v-7.2 M152.0,605.9v-7.2 M200.4,605.9v-7.2 M248.9,605.9v-7.2 M297.3,605.9v-7.2 M345.8,605.9v-7.2 M394.2,605.9v-7.2 M442.6,605.9v-7.2 M491.1,605.9v-7.2 M539.5,605.9v-7.2 M152.0,667.5v-7.2 M200.4,667.5v-7.2 M248.9,667.5v-7.2 M297.3,667.5v-7.2 M345.8,667.5v-7.2 M394.2,667.5v-7.2 M442.6,667.5v-7.2 M491.1,667.5v-7.2 M539.5,667.5v-7.2 M152.0,729.1v-7.2 M200.4,729.1v-7.2 M248.9,729.1v-7.2 M297.3,729.1v-7.2 M345.8,729.1v-7.2 M394.2,729.1v-7.2 M442.6,729.1v-7.2 M491.1,729.1v-7.2 M539.5,729.1v-7.2 M152.0,790.7v-7.2 M200.4,790.7v-7.2 M248.9,790.7v-7.2 M297.3,790.7v-7.2 M345.8,790.7v-7.2 M394.2,790.7v-7.2 M442.6,790.7v-7.2 M491.1,790.7v-7.2 M539.5,790.7v-7.2 M152.0,852.3v-7.2 M200.4,852.3v-7.2 M248.9,852.3v-7.2 M297.3,852.3v-7.2 M345.8,852.3v-7.2 M394.2,852.3v-7.2 M442.6,852.3v-7.2 M491.1,852.3v-7.2 M539.5,852.3v-7.2 M152.0,113.1v7.5 M200.4,113.1v7.5 M248.9,113.1v7.5 M297.3,113.1v7.5 M345.8,113.1v7.5 M394.2,113.1v7.5 M442.6,113.1v7.5 M491.1,113.1v7.5 M539.5,113.1v7.5" stroke="#000" stroke-width="4.6" fill="none"/>
<path d="M127.8,174.7v-4.4 M176.2,174.7v-4.4 M224.7,174.7v-4.4 M273.1,174.7v-4.4 M321.5,174.7v-4.4 M370.0,174.7v-4.4 M418.4,174.7v-4.4 M466.9,174.7v-4.4 M515.3,174.7v-4.4 M563.7,174.7v-4.4 M127.8,236.3v-4.4 M176.2,236.3v-4.4 M224.7,236.3v-4.4 M273.1,236.3v-4.4 M321.5,236.3v-4.4 M370.0,236.3v-4.4 M418.4,236.3v-4.4 M466.9,236.3v-4.4 M515.3,236.3v-4.4 M563.7,236.3v-4.4 M127.8,297.9v-4.4 M176.2,297.9v-4.4 M224.7,297.9v-4.4 M273.1,297.9v-4.4 M321.5,297.9v-4.4 M370.0,297.9v-4.4 M418.4,297.9v-4.4 M466.9,297.9v-4.4 M515.3,297.9v-4.4 M563.7,297.9v-4.4 M127.8,359.5v-4.4 M176.2,359.5v-4.4 M224.7,359.5v-4.4 M273.1,359.5v-4.4 M321.5,359.5v-4.4 M370.0,359.5v-4.4 M418.4,359.5v-4.4 M466.9,359.5v-4.4 M515.3,359.5v-4.4 M563.7,359.5v-4.4 M127.8,421.1v-4.4 M176.2,421.1v-4.4 M224.7,421.1v-4.4 M273.1,421.1v-4.4 M321.5,421.1v-4.4 M370.0,421.1v-4.4 M418.4,421.1v-4.4 M466.9,421.1v-4.4 M515.3,421.1v-4.4 M563.7,421.1v-4.4 M127.8,482.7v-4.4 M176.2,482.7v-4.4 M224.7,482.7v-4.4 M273.1,482.7v-4.4 M321.5,482.7v-4.4 M370.0,482.7v-4.4 M418.4,482.7v-4.4 M466.9,482.7v-4.4 M515.3,482.7v-4.4 M563.7,482.7v-4.4 M127.8,544.3v-4.4 M176.2,544.3v-4.4 M224.7,544.3v-4.4 M273.1,544.3v-4.4 M321.5,544.3v-4.4 M370.0,544.3v-4.4 M418.4,544.3v-4.4 M466.9,544.3v-4.4 M515.3,544.3v-4.4 M563.7,544.3v-4.4 M127.8,605.9v-4.4 M176.2,605.9v-4.4 M224.7,605.9v-4.4 M273.1,605.9v-4.4 M321.5,605.9v-4.4 M370.0,605.9v-4.4 M418.4,605.9v-4.4 M466.9,605.9v-4.4 M515.3,605.9v-4.4 M563.7,605.9v-4.4 M127.8,667.5v-4.4 M176.2,667.5v-4.4 M224.7,667.5v-4.4 M273.1,667.5v-4.4 M321.5,667.5v-4.4 M370.0,667.5v-4.4 M418.4,667.5v-4.4 M466.9,667.5v-4.4 M515.3,667.5v-4.4 M563.7,667.5v-4.4 M127.8,729.1v-4.4 M176.2,729.1v-4.4 M224.7,729.1v-4.4 M273.1,729.1v-4.4 M321.5,729.1v-4.4 M370.0,729.1v-4.4 M418.4,729.1v-4.4 M466.9,729.1v-4.4 M515.3,729.1v-4.4 M563.7,729.1v-4.4 M127.8,790.7v-4.4 M176.2,790.7v-4.4 M224.7,790.7v-4.4 M273.1,790.7v-4.4 M321.5,790.7v-4.4 M370.0,790.7v-4.4 M418.4,790.7v-4.4 M466.9,790.7v-4.4 M515.3,790.7v-4.4 M563.7,790.7v-4.4 M127.8,852.3v-4.4 M176.2,852.3v-4.4 M224.7,852.3v-4.4 M273.1,852.3v-4.4 M321.5,852.3v-4.4 M370.0,852.3v-4.4 M418.4,852.3v-4.4 M466.9,852.3v-4.4 M515.3,852.3v-4.4 M563.7,852.3v-4.4 M127.8,113.1v4.6 M176.2,113.1v4.6 M224.7,113.1v4.6 M273.1,113.1v4.6 M321.5,113.1v4.6 M370.0,113.1v4.6 M418.4,113.1v4.6 M466.9,113.1v4.6 M515.3,113.1v4.6 M563.7,113.1v4.6" stroke="#000" stroke-width="4.4" fill="none"/>
<path d="M103.3,164.1h5.0 M103.3,153.6h9.5 M103.3,143.0h5.0 M103.3,132.5h9.5 M103.3,121.9h5.0 M103.3,225.7h5.0 M103.3,215.2h9.5 M103.3,204.6h5.0 M103.3,194.1h9.5 M103.3,183.5h5.0 M103.3,287.3h5.0 M103.3,276.8h9.5 M103.3,266.2h5.0 M103.3,255.7h9.5 M103.3,245.1h5.0 M103.3,348.9h5.0 M103.3,338.4h9.5 M103.3,327.9h5.0 M103.3,317.3h9.5 M103.3,306.8h5.0 M103.3,410.6h5.0 M103.3,400.0h9.5 M103.3,389.5h5.0 M103.3,378.9h9.5 M103.3,368.4h5.0 M103.3,472.1h5.0 M103.3,461.6h9.5 M103.3,451.0h5.0 M103.3,440.5h9.5 M103.3,429.9h5.0 M103.3,533.8h5.0 M103.3,523.2h9.5 M103.3,512.6h5.0 M103.3,502.1h9.5 M103.3,491.5h5.0 M103.3,595.4h5.0 M103.3,584.8h9.5 M103.3,574.2h5.0 M103.3,563.7h9.5 M103.3,553.1h5.0 M103.3,657.0h5.0 M103.3,646.4h9.5 M103.3,635.9h5.0 M103.3,625.3h9.5 M103.3,614.8h5.0 M103.3,718.6h5.0 M103.3,708.0h9.5 M103.3,697.5h5.0 M103.3,686.9h9.5 M103.3,676.4h5.0 M103.3,780.1h5.0 M103.3,769.6h9.5 M103.3,759.0h5.0 M103.3,748.5h9.5 M103.3,737.9h5.0 M103.3,841.8h5.0 M103.3,831.2h9.5 M103.3,820.6h5.0 M103.3,810.1h9.5 M103.3,799.5h5.0" stroke="#000" stroke-width="3.6" fill="none"/>
<line x1="345.5" y1="131.7" x2="403.5" y2="131.7" stroke="#1c1ca6" stroke-width="2.8"/>
<text font-size="28" letter-spacing="0.6" transform="translate(410.0 140.0) scale(1 1.08)"><tspan fill="#1010ff">N</tspan><tspan fill="#000">-p</tspan><tspan font-size="19" dy="6.5" dx="1" fill="#000">z</tspan></text>
<line x1="345.5" y1="192.4" x2="403.5" y2="192.4" stroke="#2a9d9d" stroke-width="2.8"/>
<text font-size="28" letter-spacing="0.6" transform="translate(410.0 200.7) scale(1 1.08)"><tspan fill="#1010ff">N</tspan><tspan fill="#000">-p</tspan><tspan font-size="19" dy="6.5" dx="1" fill="#000">y</tspan></text>
<line x1="345.5" y1="254.7" x2="403.5" y2="254.7" stroke="#1f8f1f" stroke-width="2.8"/>
<text font-size="28" letter-spacing="0.6" transform="translate(410.0 263.0) scale(1 1.08)"><tspan fill="#1010ff">N</tspan><tspan fill="#000">-p</tspan><tspan font-size="19" dy="6.5" dx="1" fill="#000">x</tspan></text>
<line x1="345.5" y1="315.4" x2="403.5" y2="315.4" stroke="#9a1010" stroke-width="2.8"/>
<text font-size="28" letter-spacing="0.6" transform="translate(410.0 323.7) scale(1 1.08)"><tspan fill="#1010ff">N</tspan><tspan fill="#000">-s</tspan></text>
<line x1="345.5" y1="376.1" x2="403.5" y2="376.1" stroke="#9a1a9a" stroke-width="2.8"/>
<text font-size="28" letter-spacing="0.6" transform="translate(410.0 384.4) scale(1 1.08)"><tspan fill="#ff1010">O</tspan><tspan fill="#000">-p</tspan><tspan font-size="19" dy="6.5" dx="1" fill="#000">z</tspan></text>
<line x1="345.5" y1="437.3" x2="403.5" y2="437.3" stroke="#10108a" stroke-width="2.8"/>
<text font-size="28" letter-spacing="0.6" transform="translate(410.0 445.6) scale(1 1.08)"><tspan fill="#ff1010">O</tspan><tspan fill="#000">-p</tspan><tspan font-size="19" dy="6.5" dx="1" fill="#000">y</tspan></text>
<line x1="345.5" y1="499.7" x2="403.5" y2="499.7" stroke="#87871a" stroke-width="2.8"/>
<text font-size="28" letter-spacing="0.6" transform="translate(410.0 508.0) scale(1 1.08)"><tspan fill="#ff1010">O</tspan><tspan fill="#000">-p</tspan><tspan font-size="19" dy="6.5" dx="1" fill="#000">x</tspan></text>
<line x1="345.5" y1="560.9" x2="403.5" y2="560.9" stroke="#ffff00" stroke-width="2.8"/>
<text font-size="28" letter-spacing="0.6" transform="translate(410.0 569.2) scale(1 1.08)"><tspan fill="#ff1010">O</tspan><tspan fill="#000">-s</tspan></text>
<line x1="345.5" y1="625.6" x2="403.5" y2="625.6" stroke="#ff00ff" stroke-width="2.8"/>
<text font-size="28" letter-spacing="0.6" transform="translate(410.0 633.9) scale(1 1.08)"><tspan fill="#22e022">C</tspan><tspan fill="#22e022" font-size="21" dy="-9">*</tspan><tspan dy="9" fill="#000">-p</tspan><tspan font-size="19" dy="6.5" dx="1" fill="#000">z</tspan></text>
<line x1="345.5" y1="687.4" x2="403.5" y2="687.4" stroke="#22f0f0" stroke-width="2.8"/>
<text font-size="28" letter-spacing="0.6" transform="translate(410.0 695.7) scale(1 1.08)"><tspan fill="#22e022">C</tspan><tspan fill="#22e022" font-size="21" dy="-9">*</tspan><tspan dy="9" fill="#000">-p</tspan><tspan font-size="19" dy="6.5" dx="1" fill="#000">y</tspan></text>
<line x1="345.5" y1="749.8" x2="403.5" y2="749.8" stroke="#1010ff" stroke-width="2.8"/>
<text font-size="28" letter-spacing="0.6" transform="translate(410.0 758.1) scale(1 1.08)"><tspan fill="#22e022">C</tspan><tspan fill="#22e022" font-size="21" dy="-9">*</tspan><tspan dy="9" fill="#000">-p</tspan><tspan font-size="19" dy="6.5" dx="1" fill="#000">x</tspan></text>
<line x1="345.5" y1="810.5" x2="403.5" y2="810.5" stroke="#10ee10" stroke-width="2.8"/>
<text font-size="28" letter-spacing="0.6" transform="translate(410.0 818.8) scale(1 1.08)"><tspan fill="#22e022">C</tspan><tspan fill="#22e022" font-size="21" dy="-9">*</tspan><tspan dy="9" fill="#000">-s</tspan></text>
<text font-size="32" text-anchor="middle" transform="translate(103.1 97.4) scale(0.99 1)">-5</text>
<text font-size="32" text-anchor="middle" transform="translate(103.1 884.6) scale(0.99 1)">-5</text>
<text font-size="32" text-anchor="middle" transform="translate(151.5 97.4) scale(0.99 1)">-4</text>
<text font-size="32" text-anchor="middle" transform="translate(151.5 884.6) scale(0.99 1)">-4</text>
<text font-size="32" text-anchor="middle" transform="translate(199.9 97.4) scale(0.99 1)">-3</text>
<text font-size="32" text-anchor="middle" transform="translate(199.9 884.6) scale(0.99 1)">-3</text>
<text font-size="32" text-anchor="middle" transform="translate(248.4 97.4) scale(0.99 1)">-2</text>
<text font-size="32" text-anchor="middle" transform="translate(248.4 884.6) scale(0.99 1)">-2</text>
<text font-size="32" text-anchor="middle" transform="translate(296.8 97.4) scale(0.99 1)">-1</text>
<text font-size="32" text-anchor="middle" transform="translate(296.8 884.6) scale(0.99 1)">-1</text>
<text font-size="32" text-anchor="middle" transform="translate(345.2 97.4) scale(0.99 1)">0</text>
<text font-size="32" text-anchor="middle" transform="translate(345.2 884.6) scale(0.99 1)">0</text>
<text font-size="32" text-anchor="middle" transform="translate(393.7 97.4) scale(0.99 1)">1</text>
<text font-size="32" text-anchor="middle" transform="translate(393.7 884.6) scale(0.99 1)">1</text>
<text font-size="32" text-anchor="middle" transform="translate(442.1 97.4) scale(0.99 1)">2</text>
<text font-size="32" text-anchor="middle" transform="translate(442.1 884.6) scale(0.99 1)">2</text>
<text font-size="32" text-anchor="middle" transform="translate(490.6 97.4) scale(0.99 1)">3</text>
<text font-size="32" text-anchor="middle" transform="translate(490.6 884.6) scale(0.99 1)">3</text>
<text font-size="32" text-anchor="middle" transform="translate(539.0 97.4) scale(0.99 1)">4</text>
<text font-size="32" text-anchor="middle" transform="translate(539.0 884.6) scale(0.99 1)">4</text>
<text font-size="32" text-anchor="middle" transform="translate(587.5 97.4) scale(0.99 1)">5</text>
<text font-size="32" text-anchor="middle" transform="translate(587.5 884.6) scale(0.99 1)">5</text>
<text x="94.3" y="183.7" font-size="30" font-weight="normal" stroke="#000" stroke-width="0.55" text-anchor="end">0.00</text>
<text x="94.3" y="162.6" font-size="30" font-weight="normal" stroke="#000" stroke-width="0.55" text-anchor="end">0.27</text>
<text x="94.3" y="141.5" font-size="30" font-weight="normal" stroke="#000" stroke-width="0.55" text-anchor="end">0.54</text>
<text x="94.3" y="245.3" font-size="30" font-weight="normal" stroke="#000" stroke-width="0.55" text-anchor="end">0.00</text>
<text x="94.3" y="224.2" font-size="30" font-weight="normal" stroke="#000" stroke-width="0.55" text-anchor="end">0.27</text>
<text x="94.3" y="203.1" font-size="30" font-weight="normal" stroke="#000" stroke-width="0.55" text-anchor="end">0.54</text>
<text x="94.3" y="306.9" font-size="30" font-weight="normal" stroke="#000" stroke-width="0.55" text-anchor="end">0.00</text>
<text x="94.3" y="285.8" font-size="30" font-weight="normal" stroke="#000" stroke-width="0.55" text-anchor="end">0.27</text>
<text x="94.3" y="264.7" font-size="30" font-weight="normal" stroke="#000" stroke-width="0.55" text-anchor="end">0.54</text>
<text x="94.3" y="368.5" font-size="30" font-weight="normal" stroke="#000" stroke-width="0.55" text-anchor="end">0.00</text>
<text x="94.3" y="347.4" font-size="30" font-weight="normal" stroke="#000" stroke-width="0.55" text-anchor="end">0.27</text>
<text x="94.3" y="326.3" font-size="30" font-weight="normal" stroke="#000" stroke-width="0.55" text-anchor="end">0.54</text>
<text x="94.3" y="430.1" font-size="30" font-weight="normal" stroke="#000" stroke-width="0.55" text-anchor="end">0.00</text>
<text x="94.3" y="409.0" font-size="30" font-weight="normal" stroke="#000" stroke-width="0.55" text-anchor="end">0.27</text>
<text x="94.3" y="387.9" font-size="30" font-weight="normal" stroke="#000" stroke-width="0.55" text-anchor="end">0.54</text>
<text x="94.3" y="491.7" font-size="30" font-weight="normal" stroke="#000" stroke-width="0.55" text-anchor="end">0.00</text>
<text x="94.3" y="470.6" font-size="30" font-weight="normal" stroke="#000" stroke-width="0.55" text-anchor="end">0.27</text>
<text x="94.3" y="449.5" font-size="30" font-weight="normal" stroke="#000" stroke-width="0.55" text-anchor="end">0.54</text>
<text x="94.3" y="553.3" font-size="30" font-weight="normal" stroke="#000" stroke-width="0.55" text-anchor="end">0.00</text>
<text x="94.3" y="532.2" font-size="30" font-weight="normal" stroke="#000" stroke-width="0.55" text-anchor="end">0.27</text>
<text x="94.3" y="511.1" font-size="30" font-weight="normal" stroke="#000" stroke-width="0.55" text-anchor="end">0.54</text>
<text x="94.3" y="614.9" font-size="30" font-weight="normal" stroke="#000" stroke-width="0.55" text-anchor="end">0.00</text>
<text x="94.3" y="593.8" font-size="30" font-weight="normal" stroke="#000" stroke-width="0.55" text-anchor="end">0.27</text>
<text x="94.3" y="572.7" font-size="30" font-weight="normal" stroke="#000" stroke-width="0.55" text-anchor="end">0.54</text>
<text x="94.3" y="676.5" font-size="30" font-weight="normal" stroke="#000" stroke-width="0.55" text-anchor="end">0.00</text>
<text x="94.3" y="655.4" font-size="30" font-weight="normal" stroke="#000" stroke-width="0.55" text-anchor="end">0.27</text>
<text x="94.3" y="634.3" font-size="30" font-weight="normal" stroke="#000" stroke-width="0.55" text-anchor="end">0.54</text>
<text x="94.3" y="738.1" font-size="30" font-weight="normal" stroke="#000" stroke-width="0.55" text-anchor="end">0.00</text>
<text x="94.3" y="717.0" font-size="30" font-weight="normal" stroke="#000" stroke-width="0.55" text-anchor="end">0.27</text>
<text x="94.3" y="695.9" font-size="30" font-weight="normal" stroke="#000" stroke-width="0.55" text-anchor="end">0.54</text>
<text x="94.3" y="799.7" font-size="30" font-weight="normal" stroke="#000" stroke-width="0.55" text-anchor="end">0.00</text>
<text x="94.3" y="778.6" font-size="30" font-weight="normal" stroke="#000" stroke-width="0.55" text-anchor="end">0.27</text>
<text x="94.3" y="757.5" font-size="30" font-weight="normal" stroke="#000" stroke-width="0.55" text-anchor="end">0.54</text>
<text x="94.3" y="861.3" font-size="30" font-weight="normal" stroke="#000" stroke-width="0.55" text-anchor="end">0.00</text>
<text x="94.3" y="840.2" font-size="30" font-weight="normal" stroke="#000" stroke-width="0.55" text-anchor="end">0.27</text>
<text x="94.3" y="819.1" font-size="30" font-weight="normal" stroke="#000" stroke-width="0.55" text-anchor="end">0.54</text>
<text x="351.9" y="912.1" font-size="29.3" text-anchor="middle">Energy(eV)</text>
<path d="M735.5,166.7H1221.7 M735.5,228.0H1221.7 M735.5,289.7H1221.7 M735.5,350.6H1221.7 M735.5,412.5H1221.7 M735.5,475.0H1221.7 M735.5,537.1H1221.7 M735.5,598.8H1221.7 M735.5,661.3H1221.7 M735.5,722.9H1221.7 M735.5,785.2H1221.7" stroke="#000" stroke-width="3.6" fill="none"/>
<rect x="735.5" y="105.1" width="486.2" height="742.0" fill="none" stroke="#000" stroke-width="4.4"/>
<path d="M737.0,165.1L744.0,165.1L745.0,164.9L746.0,163.9L747.0,161.2L748.0,156.7L749.0,153.3L750.0,154.3L751.0,158.7L752.0,162.6L753.0,164.5L754.0,165.0L755.0,165.1L792.0,165.1L793.0,164.9L794.0,164.0L795.0,159.9L796.0,147.8L797.0,124.4L798.0,97.2L799.0,85.1L800.0,98.3L801.0,125.2L802.0,147.2L803.0,156.8L804.0,157.7L805.0,155.8L806.0,154.4L807.0,155.2L808.0,157.7L809.0,160.7L810.0,163.0L811.0,164.3L812.0,164.9L813.0,165.0L814.0,165.1L873.1,165.1L874.1,164.9L875.1,164.0L876.1,161.4L877.1,156.9L878.1,153.4L879.1,154.2L880.1,158.4L881.1,162.5L882.1,164.4L883.1,165.0L884.1,165.1L896.1,165.1L897.1,165.0L898.1,164.3L899.1,161.8L900.1,155.6L901.1,147.4L902.1,142.5L903.1,143.0L904.1,143.5L905.1,141.6L906.1,140.7L907.1,141.6L908.1,142.8L909.1,146.2L910.1,148.4L911.1,136.8L912.1,106.4L913.1,83.6L914.1,96.9L915.1,128.9L916.1,148.7L917.1,153.1L918.1,152.1L919.1,151.1L920.1,151.5L921.1,152.9L922.1,152.6L923.1,142.4L924.1,114.9L925.1,86.7L926.1,90.9L927.1,123.8L928.1,151.7L929.1,162.5L930.1,164.7L931.1,164.4L932.1,162.6L933.1,160.5L934.1,160.3L935.1,161.3L936.1,157.7L937.1,142.0L938.1,112.9L939.1,87.8L940.1,90.3L941.1,117.5L942.1,144.6L943.1,158.1L944.1,161.8L945.1,162.1L946.1,162.1L947.1,162.3L948.1,162.7L949.1,163.3L950.1,163.9L951.1,164.4L952.1,164.7L953.1,164.9L954.1,165.0L955.1,165.1L1045.1,165.1L1046.1,165.0L1047.1,164.7L1048.1,163.3L1049.1,160.0L1050.1,156.0L1051.1,154.4L1052.1,157.0L1053.1,161.0L1054.1,163.8L1055.1,164.8L1056.1,165.1L1220.2,165.1" fill="none" stroke="#1c1ca6" stroke-width="3.4" stroke-linejoin="round" clip-path="url(#clb0)"/>
<path d="M737.0,226.4L744.0,226.4L745.0,226.3L746.0,225.3L747.0,219.3L748.0,199.1L749.0,165.2L750.0,146.4L751.0,165.5L752.0,199.4L753.0,219.5L754.0,225.4L755.0,226.3L756.0,226.4L758.0,226.4L759.0,226.3L760.0,225.8L761.0,223.4L762.0,216.8L763.0,206.7L764.0,199.9L765.0,203.2L766.0,213.2L767.0,221.5L768.0,225.2L769.0,226.2L770.0,226.4L801.0,226.4L802.0,226.1L803.0,225.2L804.0,222.5L805.0,218.4L806.0,215.8L807.0,217.2L808.0,221.2L809.0,224.5L810.0,225.9L811.0,226.3L812.0,226.4L895.1,226.4L896.1,226.3L897.1,226.0L898.1,225.2L899.1,223.5L900.1,220.8L901.1,217.9L902.1,215.9L903.1,216.1L904.1,218.3L905.1,221.2L906.1,223.8L907.1,225.3L908.1,225.6L909.1,223.4L910.1,215.4L911.1,199.1L912.1,182.3L913.1,179.8L914.1,194.2L915.1,211.3L916.1,219.6L917.1,219.5L918.1,216.9L919.1,216.9L920.1,220.0L921.1,222.9L922.1,221.5L923.1,213.2L924.1,202.3L925.1,200.6L926.1,209.8L927.1,218.7L928.1,221.4L929.1,221.3L930.1,222.2L931.1,224.0L932.1,225.6L933.1,226.2L934.1,226.4L935.1,226.2L936.1,225.3L937.1,221.9L938.1,213.6L939.1,203.0L940.1,198.4L941.1,204.6L942.1,215.3L943.1,222.7L944.1,225.6L945.1,226.3L946.1,226.4L1220.2,226.4" fill="none" stroke="#2a9d9d" stroke-width="3.4" stroke-linejoin="round" clip-path="url(#clb1)"/>
<path d="M737.0,283.9L738.0,283.1L739.0,283.9L740.0,285.6L741.0,287.0L742.0,287.8L743.0,288.0L744.0,288.1L745.0,288.0L746.0,287.4L747.0,284.8L748.0,278.4L749.0,269.7L750.0,265.4L751.0,269.8L752.0,278.5L753.0,284.8L754.0,287.4L755.0,288.0L756.0,288.1L757.0,288.0L758.0,288.0L759.0,287.8L760.0,287.5L761.0,286.9L762.0,286.1L763.0,285.2L764.0,284.2L765.0,283.4L766.0,283.1L767.0,283.3L768.0,284.0L769.0,285.0L770.0,286.0L771.0,286.8L772.0,287.4L773.0,287.7L774.0,287.9L775.0,288.0L776.0,288.1L798.0,288.1L799.0,287.9L800.0,286.8L801.0,283.4L802.0,277.2L803.0,271.5L804.0,271.7L805.0,277.5L806.0,283.5L807.0,286.2L808.0,285.7L809.0,283.6L810.0,282.1L811.0,282.9L812.0,285.2L813.0,287.0L814.0,287.8L815.0,288.1L873.1,288.1L874.1,288.0L875.1,287.5L876.1,286.2L877.1,284.0L878.1,282.2L879.1,282.6L880.1,284.8L881.1,286.8L882.1,287.8L883.1,288.0L884.1,288.1L895.1,288.1L896.1,287.8L897.1,286.4L898.1,280.8L899.1,267.4L900.1,249.7L901.1,240.9L902.1,247.4L903.1,256.7L904.1,256.6L905.1,251.3L906.1,251.3L907.1,256.0L908.1,256.7L909.1,251.3L910.1,248.0L911.1,250.3L912.1,247.3L913.1,228.9L914.1,209.0L915.1,213.1L916.1,240.9L917.1,268.6L918.1,282.4L919.1,284.7L920.1,281.2L921.1,278.1L922.1,280.2L923.1,284.5L924.1,285.8L925.1,281.2L926.1,269.8L927.1,259.5L928.1,262.1L929.1,274.3L930.1,283.4L931.1,285.9L932.1,285.1L933.1,284.1L934.1,284.6L935.1,286.1L936.1,287.3L937.1,287.9L938.1,287.6L939.1,285.7L940.1,279.5L941.1,267.6L942.1,256.5L943.1,256.2L944.1,266.3L945.1,274.9L946.1,273.7L947.1,265.9L948.1,262.1L949.1,267.5L950.1,275.3L951.1,273.2L952.1,253.6L953.1,223.7L954.1,208.1L955.1,223.2L956.1,253.8L957.1,276.3L958.1,285.4L959.1,287.7L960.1,288.0L961.1,287.8L962.1,286.9L963.1,284.9L964.1,282.1L965.1,280.2L966.1,280.7L967.1,283.2L968.1,285.8L969.1,287.3L970.1,287.9L971.1,288.1L1046.1,288.1L1047.1,288.0L1048.1,287.3L1049.1,283.8L1050.1,276.9L1051.1,273.5L1052.1,278.7L1053.1,285.1L1054.1,287.6L1055.1,288.1L1220.2,288.1" fill="none" stroke="#1f8f1f" stroke-width="3.4" stroke-linejoin="round" clip-path="url(#clb2)"/>
<path d="M737.0,347.8L738.0,348.0L739.0,348.5L740.0,348.5L741.0,348.1L742.0,347.5L743.0,346.8L744.0,345.9L745.0,345.5L746.0,345.7L747.0,346.1L748.0,346.5L749.0,347.1L750.0,347.9L751.0,348.5L752.0,348.5L753.0,348.2L754.0,348.2L755.0,348.5L756.0,348.5L757.0,347.9L758.0,346.6L759.0,345.4L760.0,345.0L761.0,345.6L762.0,346.5L763.0,347.3L764.0,348.0L765.0,348.5L766.0,348.8L767.0,348.9L768.0,348.8L769.0,348.5L770.0,348.4L771.0,348.6L772.0,348.7L773.0,348.5L774.0,348.2L775.0,348.0L776.0,348.1L777.0,348.4L778.0,348.6L779.0,348.7L780.0,348.5L781.0,348.3L782.0,348.3L783.0,348.6L784.0,348.8L785.0,348.9L786.0,348.7L787.0,348.5L788.0,348.4L789.0,348.5L790.0,348.7L791.0,348.7L792.0,348.4L793.0,347.9L794.0,347.7L795.0,348.0L796.0,348.5L797.0,348.4L798.0,347.8L799.0,347.1L800.0,347.0L801.0,347.6L802.0,348.1L803.0,348.3L804.0,348.4L805.0,348.5L806.0,348.5L807.0,347.8L808.0,346.5L809.0,345.2L810.0,344.8L811.0,345.4L812.0,346.7L813.0,347.8L814.0,348.0L815.0,347.7L816.0,347.7L817.0,348.2L818.0,348.6L819.0,348.6L820.0,348.0L821.0,347.4L822.0,347.6L823.0,348.3L824.0,348.5L825.0,348.3L826.0,347.8L827.0,347.5L828.0,347.5L829.0,347.9L830.0,348.4L831.0,348.6L832.0,348.6L833.0,348.5L834.0,348.4L835.0,348.4L836.0,348.5L837.0,348.4L838.0,348.2L839.0,348.3L840.0,348.3L841.0,348.1L842.0,347.8L843.0,347.9L844.0,348.2L845.0,348.6L846.0,348.9L847.0,348.9L848.0,348.5L849.0,347.8L850.0,347.1L851.0,347.4L852.0,348.2L853.0,348.7L854.0,348.8L855.0,348.6L856.0,348.2L857.0,347.9L858.1,347.7L859.1,347.9L860.1,348.2L861.1,348.2L862.1,348.1L863.1,348.0L864.1,348.2L865.1,348.5L866.1,348.8L867.1,348.7L868.1,348.1L869.1,347.3L870.1,347.3L871.1,348.1L872.1,348.5L873.1,348.1L874.1,347.3L875.1,346.2L876.1,344.2L877.1,340.9L878.1,338.2L879.1,338.9L880.1,342.4L881.1,345.7L882.1,347.5L883.1,348.4L884.1,348.8L885.1,348.9L886.1,348.8L887.1,348.5L888.1,348.1L889.1,348.0L890.1,348.2L891.1,348.5L892.1,348.6L893.1,348.4L894.1,347.8L895.1,347.2L896.1,347.0L897.1,347.2L898.1,347.2L899.1,346.2L900.1,344.5L901.1,343.2L902.1,343.4L903.1,345.0L904.1,346.9L905.1,348.0L906.1,348.2L907.1,347.6L908.1,347.5L909.1,347.5L910.1,345.3L911.1,338.3L912.1,327.3L913.1,320.0L914.1,323.3L915.1,333.6L916.1,341.3L917.1,342.6L918.1,340.8L919.1,340.6L920.1,343.2L921.1,346.1L922.1,347.0L923.1,344.0L924.1,337.3L925.1,332.1L926.1,333.8L927.1,339.0L928.1,341.8L929.1,342.4L930.1,343.7L931.1,345.7L932.1,347.1L933.1,347.5L934.1,347.8L935.1,347.8L936.1,347.1L937.1,344.8L938.1,339.9L939.1,334.1L940.1,332.0L941.1,336.1L942.1,342.4L943.1,346.6L944.1,347.9L945.1,347.8L946.1,347.6L947.1,347.9L948.1,348.4L949.1,348.5L950.1,348.2L951.1,347.8L952.1,347.7L953.1,348.1L954.1,348.3L955.1,348.1L956.1,347.9L957.1,348.2L958.1,348.6L959.1,348.9L960.1,349.0L1147.2,349.0L1148.2,348.7L1149.2,347.9L1150.2,346.0L1151.2,343.5L1152.2,341.9L1153.2,342.6L1154.2,344.8L1155.2,346.8L1156.2,347.6L1157.2,347.0L1158.2,345.8L1159.2,345.1L1160.2,345.7L1161.2,347.0L1162.2,347.8L1163.2,347.1L1164.2,345.6L1165.2,344.9L1166.2,345.5L1167.2,346.0L1168.2,345.7L1169.2,345.7L1170.2,346.4L1171.2,347.5L1172.2,348.4L1173.2,348.8L1174.2,348.7L1175.2,348.0L1176.2,346.9L1177.2,346.8L1178.2,347.6L1179.2,347.8L1180.2,346.3L1181.2,343.2L1182.2,339.7L1183.2,338.3L1184.2,340.4L1185.2,343.8L1186.2,346.0L1187.2,347.1L1188.2,347.7L1189.2,347.7L1190.2,345.8L1191.2,341.2L1192.2,337.2L1193.2,337.7L1194.2,341.9L1195.2,345.3L1196.2,346.1L1197.2,345.0L1198.2,343.5L1199.2,342.2L1200.2,341.6L1201.2,342.0L1202.2,343.2L1203.2,344.2L1204.2,345.0L1205.2,345.8L1206.2,346.9L1207.2,347.4L1208.2,346.5L1209.2,344.1L1210.2,341.2L1211.2,339.8L1212.2,340.9L1213.2,343.1L1214.2,344.5L1215.2,344.8L1216.2,345.0L1217.2,345.3L1218.2,344.5L1219.2,341.6L1220.2,338.1" fill="none" stroke="#9a1010" stroke-width="3.4" stroke-linejoin="round" clip-path="url(#clb3)"/>
<path d="M737.0,410.9L744.0,410.9L745.0,410.8L746.0,409.9L747.0,406.6L748.0,399.5L749.0,393.3L750.0,395.2L751.0,402.7L752.0,408.4L753.0,410.5L754.0,410.9L759.0,410.9L760.0,410.7L761.0,409.7L762.0,405.6L763.0,397.6L764.0,391.6L765.0,394.6L766.0,402.9L767.0,408.6L768.0,410.5L769.0,410.9L793.0,410.9L794.0,410.7L795.0,410.0L796.0,408.7L797.0,407.0L798.0,405.9L799.0,406.5L800.0,408.1L801.0,409.5L802.0,409.9L803.0,408.3L804.0,404.6L805.0,400.5L806.0,399.7L807.0,403.0L808.0,407.3L809.0,409.8L810.0,410.7L811.0,410.9L816.0,410.9L817.0,410.8L818.0,410.1L819.0,407.0L820.0,398.2L821.0,383.9L822.0,373.5L823.0,377.0L824.0,390.9L825.0,403.2L826.0,409.0L827.0,410.6L828.0,410.9L869.1,410.9L870.1,410.8L871.1,410.2L872.1,406.9L873.1,394.7L874.1,367.9L875.1,333.4L876.1,309.3L877.1,300.1L878.1,296.2L879.1,294.9L880.1,298.2L881.1,311.0L882.1,339.8L883.1,374.8L884.1,398.5L885.1,408.1L886.1,410.5L887.1,410.9L933.1,410.9L934.1,410.8L935.1,410.4L936.1,409.6L937.1,408.2L938.1,407.1L939.1,407.1L940.1,408.2L941.1,409.5L942.1,410.4L943.1,410.8L944.1,410.9L1045.1,410.9L1046.1,410.8L1047.1,410.6L1048.1,409.9L1049.1,408.7L1050.1,407.4L1051.1,406.9L1052.1,407.7L1053.1,409.1L1054.1,410.2L1055.1,410.7L1056.1,410.9L1132.2,410.9L1133.2,410.8L1134.2,410.6L1135.2,409.6L1136.2,407.4L1137.2,403.7L1138.2,399.7L1139.2,397.9L1140.2,399.4L1141.2,402.7L1142.2,404.9L1143.2,403.7L1144.2,399.4L1145.2,395.0L1146.2,393.7L1147.2,396.1L1148.2,399.3L1149.2,400.0L1150.2,398.5L1151.2,397.6L1152.2,399.4L1153.2,403.1L1154.2,406.1L1155.2,406.8L1156.2,405.3L1157.2,403.4L1158.2,403.0L1159.2,404.6L1160.2,407.1L1161.2,409.2L1162.2,410.3L1163.2,410.8L1164.2,410.9L1220.2,410.9" fill="none" stroke="#9a1a9a" stroke-width="3.4" stroke-linejoin="round" clip-path="url(#clb4)"/>
<path d="M737.0,473.4L744.0,473.4L745.0,473.3L746.0,472.5L747.0,469.4L748.0,462.9L749.0,457.2L750.0,458.9L751.0,465.8L752.0,471.1L753.0,473.0L754.0,473.4L759.0,473.4L760.0,473.2L761.0,471.7L762.0,466.3L763.0,455.7L764.0,447.6L765.0,451.6L766.0,462.7L767.0,470.3L768.0,472.9L769.0,473.4L793.0,473.4L794.0,473.2L795.0,472.5L796.0,471.2L797.0,469.5L798.0,468.4L799.0,469.0L800.0,470.6L801.0,472.1L802.0,473.0L803.0,473.3L804.0,473.4L805.0,473.1L806.0,471.5L807.0,464.1L808.0,444.2L809.0,413.7L810.0,393.9L811.0,404.4L812.0,434.3L813.0,459.0L814.0,469.9L815.0,472.9L816.0,473.3L817.0,473.3L818.0,473.0L819.0,471.5L820.0,467.2L821.0,460.1L822.0,455.0L823.0,456.7L824.0,463.6L825.0,469.6L826.0,472.5L827.0,473.2L828.0,473.4L871.1,473.4L872.1,473.1L873.1,471.0L874.1,462.3L875.1,440.6L876.1,409.6L877.1,391.0L878.1,396.6L879.1,405.3L880.1,397.6L881.1,390.6L882.1,407.3L883.1,438.2L884.1,461.1L885.1,470.6L886.1,473.0L887.1,473.4L935.1,473.4L936.1,473.2L937.1,472.7L938.1,471.8L939.1,470.8L940.1,470.4L941.1,471.0L942.1,472.0L943.1,472.8L944.1,473.2L945.1,473.4L1046.1,473.4L1047.1,473.3L1048.1,472.4L1049.1,469.3L1050.1,463.9L1051.1,461.5L1052.1,465.3L1053.1,470.4L1054.1,472.8L1055.1,473.3L1056.1,473.4L1117.2,473.4L1118.2,473.3L1119.2,473.1L1120.2,472.4L1121.2,471.0L1122.2,469.3L1123.2,468.4L1124.2,469.1L1125.2,470.8L1126.2,472.3L1127.2,473.1L1128.2,473.3L1129.2,473.4L1133.2,473.4L1134.2,473.3L1135.2,473.1L1136.2,472.2L1137.2,469.9L1138.2,465.4L1139.2,459.9L1140.2,456.3L1141.2,456.9L1142.2,461.1L1143.2,464.8L1144.2,464.5L1145.2,459.6L1146.2,453.0L1147.2,449.8L1148.2,452.5L1149.2,458.6L1150.2,463.1L1151.2,463.9L1152.2,463.0L1153.2,463.6L1154.2,466.1L1155.2,468.0L1156.2,467.5L1157.2,465.8L1158.2,465.5L1159.2,467.4L1160.2,470.1L1161.2,472.1L1162.2,473.1L1163.2,473.3L1164.2,473.4L1220.2,473.4" fill="none" stroke="#10108a" stroke-width="3.4" stroke-linejoin="round" clip-path="url(#clb5)"/>
<path d="M737.0,527.3L738.0,526.7L739.0,528.4L740.0,531.0L741.0,532.7L742.0,533.4L743.0,533.9L744.0,534.6L745.0,535.0L746.0,534.4L747.0,530.5L748.0,518.0L749.0,497.3L750.0,485.9L751.0,497.8L752.0,518.8L753.0,530.9L754.0,534.2L755.0,534.7L756.0,535.1L757.0,535.4L758.0,535.5L787.0,535.5L788.0,535.4L789.0,535.1L790.0,534.8L791.0,534.4L792.0,534.4L793.0,534.6L794.0,535.0L795.0,535.2L796.0,535.2L797.0,534.9L798.0,534.3L799.0,533.5L800.0,532.2L801.0,530.8L802.0,530.1L803.0,530.9L804.0,532.4L805.0,533.3L806.0,531.9L807.0,524.7L808.0,505.4L809.0,475.4L810.0,455.5L811.0,464.9L812.0,490.2L813.0,500.4L814.0,483.7L815.0,459.4L816.0,457.3L817.0,480.8L818.0,502.6L819.0,506.0L820.0,507.3L821.0,509.7L822.0,498.5L823.0,487.8L824.0,497.5L825.0,517.4L826.0,529.8L827.0,533.1L828.0,532.2L829.0,529.7L830.0,526.9L831.0,525.0L832.0,525.0L833.0,526.6L834.0,529.0L835.0,531.1L836.0,532.7L837.0,533.9L838.0,534.2L839.0,533.9L840.0,534.0L841.0,534.7L842.0,535.2L843.0,535.1L844.0,534.8L845.0,534.7L846.0,535.0L847.0,535.2L848.0,535.1L849.0,534.4L850.0,533.2L851.0,531.1L852.0,529.0L853.0,528.2L854.0,529.3L855.0,531.4L856.0,532.9L857.0,533.7L858.1,534.2L859.1,534.7L860.1,535.1L861.1,535.3L862.1,535.2L863.1,534.9L864.1,534.6L865.1,534.5L866.1,534.7L867.1,535.0L868.1,535.3L869.1,535.4L870.1,535.4L871.1,534.8L872.1,531.5L873.1,519.4L874.1,493.3L875.1,461.5L876.1,444.0L877.1,442.7L878.1,442.0L879.1,444.4L880.1,458.3L881.1,467.0L882.1,457.2L883.1,446.8L884.1,449.8L885.1,451.8L886.1,447.9L887.1,458.4L888.1,487.7L889.1,515.8L890.1,530.2L891.1,534.5L892.1,535.0L893.1,534.1L894.1,531.6L895.1,527.2L896.1,522.2L897.1,519.5L898.1,521.1L899.1,525.7L900.1,530.2L901.1,532.4L902.1,531.5L903.1,528.1L904.1,523.8L905.1,521.5L906.1,522.9L907.1,527.0L908.1,531.2L909.1,533.9L910.1,535.0L911.1,535.4L912.1,535.5L1046.1,535.5L1047.1,535.4L1048.1,534.7L1049.1,531.9L1050.1,527.0L1051.1,524.9L1052.1,528.3L1053.1,532.9L1054.1,535.0L1055.1,535.4L1056.1,535.5L1117.2,535.5L1118.2,535.1L1119.2,533.5L1120.2,529.0L1121.2,523.5L1122.2,522.6L1123.2,527.4L1124.2,532.5L1125.2,534.9L1126.2,535.4L1127.2,535.5L1143.2,535.5L1144.2,535.3L1145.2,533.8L1146.2,527.4L1147.2,512.3L1148.2,496.2L1149.2,492.4L1150.2,492.3L1151.2,477.1L1152.2,457.3L1153.2,460.8L1154.2,488.2L1155.2,514.5L1156.2,522.6L1157.2,516.2L1158.2,513.2L1159.2,518.6L1160.2,517.0L1161.2,506.0L1162.2,502.7L1163.2,514.0L1164.2,527.3L1165.2,533.7L1166.2,535.3L1167.2,535.5L1168.2,535.5L1169.2,535.4L1170.2,535.0L1171.2,534.0L1172.2,532.1L1173.2,530.2L1174.2,529.5L1175.2,530.8L1176.2,532.9L1177.2,534.5L1178.2,535.2L1179.2,535.4L1180.2,535.5L1220.2,535.5" fill="none" stroke="#87871a" stroke-width="3.4" stroke-linejoin="round" clip-path="url(#clb6)"/>
<path d="M737.0,597.1L738.0,597.1L739.0,596.9L740.0,596.7L741.0,596.4L742.0,596.0L743.0,595.6L744.0,595.3L745.0,595.2L746.0,595.3L747.0,595.6L748.0,596.0L749.0,596.4L750.0,596.7L751.0,596.9L752.0,597.0L753.0,597.0L754.0,596.9L755.0,596.7L756.0,596.4L757.0,596.0L758.0,595.6L759.0,595.3L760.0,595.2L761.0,595.3L762.0,595.6L763.0,596.0L764.0,596.4L765.0,596.7L766.0,596.9L767.0,597.1L768.0,597.1L769.0,597.2L1220.2,597.2" fill="none" stroke="#c8c818" stroke-width="3.4" stroke-linejoin="round" clip-path="url(#clb7)"/>
<path d="M737.0,657.3L738.0,654.9L739.0,652.9L740.0,652.9L741.0,654.6L742.0,656.5L743.0,657.3L744.0,657.2L745.0,657.1L746.0,657.5L747.0,657.8L748.0,656.8L749.0,654.6L750.0,653.2L751.0,654.6L752.0,657.1L753.0,658.4L754.0,657.9L755.0,657.0L756.0,657.4L757.0,657.9L758.0,656.7L759.0,654.3L760.0,652.4L761.0,652.6L762.0,654.8L763.0,656.8L764.0,657.6L765.0,657.8L766.0,658.0L767.0,658.0L768.0,657.3L769.0,656.1L770.0,655.3L771.0,655.5L772.0,656.3L773.0,657.3L774.0,658.3L775.0,659.0L776.0,659.1L777.0,658.4L778.0,656.7L779.0,654.5L780.0,653.4L781.0,654.3L782.0,656.5L783.0,658.3L784.0,659.0L785.0,658.5L786.0,657.8L787.0,657.7L788.0,657.2L789.0,656.2L790.0,655.6L791.0,655.9L792.0,656.6L793.0,657.6L794.0,658.7L795.0,659.2L796.0,658.5L797.0,657.3L798.0,656.9L799.0,658.0L800.0,659.2L801.0,659.6L802.0,659.4L803.0,657.3L804.0,649.6L805.0,634.9L806.0,624.0L807.0,629.8L808.0,645.1L809.0,655.6L810.0,659.0L811.0,659.6L812.0,659.7L826.0,659.7L827.0,659.6L828.0,659.1L829.0,658.1L830.0,656.4L831.0,655.0L832.0,654.9L833.0,656.2L834.0,657.9L835.0,659.1L836.0,659.5L837.0,659.7L846.0,659.7L847.0,659.4L848.0,658.2L849.0,653.8L850.0,644.8L851.0,635.3L852.0,633.6L853.0,640.7L854.0,647.7L855.0,646.6L856.0,639.3L857.0,634.9L858.1,637.3L859.1,639.9L860.1,636.8L861.1,631.2L862.1,627.7L863.1,626.9L864.1,631.2L865.1,640.6L866.1,648.7L867.1,650.6L868.1,648.1L869.1,646.6L870.1,648.9L871.1,653.3L872.1,656.4L873.1,656.8L874.1,654.8L875.1,652.4L876.1,651.8L877.1,653.6L878.1,656.1L879.1,657.3L880.1,656.3L881.1,653.8L882.1,651.8L883.1,652.3L884.1,654.7L885.1,657.4L886.1,658.9L887.1,659.5L888.1,659.7L893.1,659.7L894.1,659.3L895.1,657.1L896.1,651.4L897.1,646.8L898.1,649.7L899.1,655.9L900.1,659.0L901.1,659.6L902.1,659.4L903.1,657.7L904.1,653.3L905.1,649.8L906.1,652.0L907.1,656.7L908.1,658.7L909.1,658.1L910.1,656.3L911.1,654.4L912.1,653.7L913.1,655.0L914.1,657.0L915.1,658.6L916.1,659.4L917.1,659.6L918.1,659.7L1078.1,659.7L1079.1,659.5L1080.1,658.4L1081.1,655.0L1082.1,649.9L1083.1,647.8L1084.1,651.3L1085.1,656.2L1086.1,658.9L1087.1,659.6L1088.1,659.5L1089.1,658.8L1090.1,657.7L1091.1,657.4L1092.1,658.2L1093.1,658.7L1094.1,657.9L1095.1,656.9L1096.1,656.9L1097.1,657.3L1098.1,657.2L1099.1,656.8L1100.2,656.9L1101.2,657.5L1102.2,657.8L1103.2,657.6L1104.2,657.4L1105.2,657.6L1106.2,658.2L1107.2,658.6L1108.2,658.6L1109.2,658.6L1110.2,658.8L1111.2,658.8L1112.2,658.6L1113.2,658.4L1114.2,658.4L1115.2,658.5L1116.2,658.1L1117.2,657.7L1118.2,657.9L1119.2,658.6L1120.2,659.3L1121.2,659.4L1122.2,659.0L1123.2,658.2L1124.2,657.5L1125.2,657.4L1126.2,658.1L1127.2,658.9L1128.2,659.3L1129.2,659.1L1130.2,658.4L1131.2,657.7L1132.2,657.4L1133.2,657.7L1134.2,658.5L1135.2,659.1L1136.2,659.4L1137.2,659.4L1138.2,659.0L1139.2,658.6L1140.2,658.8L1141.2,659.1L1142.2,659.1L1143.2,658.7L1144.2,658.6L1145.2,658.8L1146.2,659.2L1147.2,659.4L1148.2,659.0L1149.2,658.5L1150.2,658.5L1151.2,658.9L1152.2,659.4L1153.2,659.3L1154.2,657.5L1155.2,652.7L1156.2,647.3L1157.2,647.5L1158.2,652.8L1159.2,657.2L1160.2,658.4L1161.2,657.6L1162.2,656.4L1163.2,656.0L1164.2,655.5L1165.2,654.9L1166.2,654.7L1167.2,655.3L1168.2,656.7L1169.2,658.1L1170.2,658.8L1171.2,658.6L1172.2,657.9L1173.2,657.0L1174.2,656.3L1175.2,656.1L1176.2,656.7L1177.2,657.5L1178.2,658.2L1179.2,658.6L1180.2,658.7L1181.2,658.2L1182.2,656.7L1183.2,654.8L1184.2,653.5L1185.2,653.8L1186.2,655.2L1187.2,656.7L1188.2,657.8L1189.2,658.4L1190.2,658.9L1191.2,659.1L1192.2,658.6L1193.2,657.1L1194.2,655.3L1195.2,655.1L1196.2,656.5L1197.2,658.2L1198.2,659.1L1199.2,659.2L1200.2,658.6L1201.2,657.5L1202.2,656.6L1203.2,655.6L1204.2,654.3L1205.2,653.2L1206.2,653.2L1207.2,654.1L1208.2,655.0L1209.2,655.0L1210.2,653.7L1211.2,651.4L1212.2,648.3L1213.2,645.5L1214.2,643.7L1215.2,643.5L1216.2,643.9L1217.2,643.2L1218.2,640.4L1219.2,635.5L1220.2,629.9" fill="none" stroke="#ff00ff" stroke-width="3.4" stroke-linejoin="round" clip-path="url(#clb8)"/>
<path d="M737.0,719.6L738.0,717.6L739.0,715.9L740.0,716.0L741.0,717.4L742.0,718.7L743.0,719.2L744.0,718.9L745.0,718.8L746.0,719.2L747.0,719.9L748.0,720.3L749.0,719.6L750.0,717.5L751.0,715.5L752.0,715.5L753.0,717.0L754.0,718.2L755.0,718.4L756.0,718.4L757.0,718.9L758.0,719.6L759.0,719.7L760.0,719.0L761.0,717.9L762.0,717.0L763.0,716.5L764.0,716.2L765.0,716.2L766.0,716.6L767.0,717.0L768.0,717.3L769.0,718.0L770.0,719.1L771.0,719.6L772.0,719.4L773.0,719.1L774.0,719.1L775.0,719.6L776.0,720.0L777.0,719.7L778.0,718.7L779.0,717.6L780.0,717.3L781.0,717.8L782.0,718.4L783.0,718.6L784.0,718.9L785.0,719.7L786.0,720.6L787.0,720.8L788.0,720.1L789.0,719.2L790.0,719.2L791.0,720.3L792.0,721.0L793.0,721.2L794.0,721.1L795.0,720.7L796.0,720.2L797.0,719.9L798.0,720.1L799.0,720.3L800.0,719.0L801.0,712.6L802.0,699.0L803.0,685.8L804.0,686.3L805.0,699.9L806.0,713.2L807.0,719.4L808.0,721.0L809.0,721.3L846.0,721.3L847.0,721.1L848.0,719.1L849.0,709.4L850.0,683.1L851.0,650.0L852.0,643.9L853.0,672.3L854.0,702.8L855.0,714.8L856.0,711.8L857.0,701.3L858.1,692.6L859.1,694.3L860.1,703.8L861.1,710.7L862.1,709.5L863.1,704.6L864.1,703.7L865.1,709.1L866.1,715.8L867.1,719.7L868.1,721.0L869.1,721.3L872.1,721.3L873.1,721.2L874.1,721.0L875.1,720.1L876.1,718.2L877.1,715.4L878.1,713.5L879.1,713.9L880.1,716.3L881.1,718.9L882.1,720.5L883.1,721.1L884.1,721.3L893.1,721.3L894.1,721.1L895.1,720.5L896.1,719.1L897.1,717.1L898.1,715.5L899.1,715.6L900.1,717.4L901.1,719.3L902.1,720.4L903.1,720.4L904.1,719.1L905.1,717.1L906.1,715.5L907.1,715.6L908.1,717.4L909.1,719.4L910.1,720.6L911.1,721.1L912.1,721.3L1072.1,721.3L1073.1,721.2L1074.1,720.9L1075.1,720.0L1076.1,718.7L1077.1,717.5L1078.1,717.4L1079.1,718.5L1080.1,719.5L1081.1,719.6L1082.1,718.9L1083.1,719.1L1084.1,720.1L1085.1,720.8L1086.1,720.8L1087.1,720.1L1088.1,719.0L1089.1,718.1L1090.1,718.0L1091.1,718.9L1092.1,719.9L1093.1,720.4L1094.1,720.1L1095.1,719.7L1096.1,720.3L1097.1,721.0L1098.1,721.1L1099.1,720.8L1100.2,720.1L1101.2,720.1L1102.2,720.6L1103.2,720.3L1104.2,719.2L1105.2,718.8L1106.2,719.7L1107.2,720.8L1108.2,721.2L1109.2,721.1L1110.2,720.7L1111.2,719.9L1112.2,719.0L1113.2,718.8L1114.2,719.4L1115.2,720.2L1116.2,720.5L1117.2,719.9L1118.2,719.0L1119.2,718.8L1120.2,719.6L1121.2,720.5L1122.2,720.7L1123.2,720.1L1124.2,719.2L1125.2,718.8L1126.2,719.4L1127.2,720.3L1128.2,720.9L1129.2,720.9L1130.2,720.2L1131.2,719.2L1132.2,718.2L1133.2,718.1L1134.2,719.0L1135.2,720.1L1136.2,720.8L1137.2,721.1L1138.2,720.9L1139.2,720.4L1140.2,720.0L1141.2,720.1L1142.2,720.6L1143.2,720.9L1144.2,720.5L1145.2,719.5L1146.2,718.6L1147.2,719.0L1148.2,720.1L1149.2,720.5L1150.2,719.7L1151.2,718.9L1152.2,719.5L1153.2,720.6L1154.2,721.2L1155.2,721.2L1156.2,720.7L1157.2,719.0L1158.2,715.2L1159.2,710.4L1160.2,707.3L1161.2,708.0L1162.2,711.7L1163.2,715.4L1164.2,717.9L1165.2,719.4L1166.2,720.2L1167.2,719.9L1168.2,718.1L1169.2,715.5L1170.2,714.0L1171.2,715.2L1172.2,718.0L1173.2,720.1L1174.2,721.0L1175.2,721.1L1176.2,720.6L1177.2,719.7L1178.2,719.1L1179.2,719.5L1180.2,720.3L1181.2,720.4L1182.2,719.2L1183.2,717.2L1184.2,715.2L1185.2,714.7L1186.2,716.1L1187.2,718.4L1188.2,720.1L1189.2,720.5L1190.2,719.5L1191.2,717.9L1192.2,716.8L1193.2,716.0L1194.2,714.4L1195.2,713.0L1196.2,713.2L1197.2,714.7L1198.2,716.3L1199.2,717.7L1200.2,719.0L1201.2,719.8L1202.2,719.3L1203.2,717.2L1204.2,714.1L1205.2,711.4L1206.2,710.2L1207.2,710.3L1208.2,709.6L1209.2,706.9L1210.2,703.3L1211.2,700.6L1212.2,700.1L1213.2,701.8L1214.2,705.0L1215.2,708.0L1216.2,709.0L1217.2,706.6L1218.2,700.1L1219.2,690.9L1220.2,682.9" fill="none" stroke="#22f0f0" stroke-width="3.4" stroke-linejoin="round" clip-path="url(#clb9)"/>
<path d="M737.0,781.1L738.0,779.9L739.0,779.2L740.0,779.3L741.0,779.9L742.0,780.3L743.0,780.6L744.0,781.5L745.0,782.1L746.0,781.0L747.0,778.6L748.0,776.5L749.0,776.4L750.0,778.4L751.0,780.5L752.0,781.4L753.0,781.4L754.0,781.1L755.0,780.4L756.0,778.4L757.0,775.6L758.0,774.1L759.0,775.5L760.0,778.7L761.0,781.3L762.0,782.4L763.0,781.9L764.0,781.0L765.0,780.5L766.0,780.5L767.0,780.0L768.0,778.7L769.0,777.4L770.0,777.3L771.0,778.5L772.0,780.1L773.0,781.1L774.0,781.0L775.0,780.5L776.0,780.8L777.0,782.0L778.0,783.0L779.0,783.4L780.0,783.4L781.0,783.0L782.0,782.5L783.0,782.3L784.0,782.6L785.0,783.0L786.0,783.2L787.0,782.9L788.0,782.7L789.0,782.9L790.0,783.4L791.0,783.5L792.0,783.2L793.0,782.7L794.0,781.9L795.0,780.7L796.0,777.8L797.0,772.4L798.0,768.6L799.0,771.2L800.0,777.6L801.0,781.9L802.0,783.2L803.0,782.3L804.0,778.4L805.0,770.7L806.0,765.0L807.0,768.0L808.0,775.7L809.0,780.4L810.0,780.7L811.0,779.3L812.0,778.6L813.0,779.4L814.0,781.2L815.0,782.6L816.0,783.3L817.0,783.5L818.0,783.6L846.0,783.6L847.0,783.5L848.0,783.0L849.0,781.4L850.0,778.0L851.0,774.5L852.0,773.9L853.0,776.8L854.0,780.5L855.0,782.5L856.0,782.3L857.0,779.4L858.1,773.1L859.1,766.5L860.1,765.4L861.1,770.9L862.1,777.7L863.1,781.0L864.1,780.2L865.1,776.8L866.1,773.8L867.1,774.4L868.1,777.6L869.1,779.6L870.1,778.5L871.1,776.2L872.1,775.8L873.1,778.2L874.1,780.9L875.1,780.3L876.1,768.7L877.1,737.6L878.1,706.4L879.1,713.6L880.1,749.3L881.1,774.5L882.1,782.3L883.1,783.5L884.1,783.6L896.1,783.6L897.1,783.5L898.1,782.9L899.1,779.7L900.1,770.0L901.1,752.6L902.1,737.5L903.1,738.8L904.1,755.2L905.1,771.9L906.1,780.3L907.1,782.2L908.1,780.7L909.1,776.4L910.1,769.5L911.1,763.0L912.1,760.9L913.1,764.3L914.1,769.8L915.1,772.7L916.1,772.1L917.1,771.1L918.1,773.0L919.1,777.1L920.1,780.7L921.1,782.7L922.1,783.4L923.1,783.6L935.1,783.6L936.1,783.4L937.1,781.9L938.1,776.3L939.1,766.1L940.1,760.9L941.1,767.8L942.1,777.6L943.1,782.4L944.1,783.5L945.1,783.6L997.1,783.6L998.1,783.5L999.1,783.3L1000.1,782.9L1001.1,782.4L1002.1,782.0L1003.1,781.5L1004.1,780.8L1005.1,780.5L1006.1,780.9L1007.1,781.2L1008.1,781.0L1009.1,781.2L1010.1,781.4L1011.1,780.8L1012.1,780.4L1013.1,780.6L1014.1,781.1L1015.1,781.3L1016.1,781.0L1017.1,780.1L1018.1,779.0L1019.1,778.6L1020.1,779.3L1021.1,780.7L1022.1,782.0L1023.1,782.5L1024.1,782.2L1025.1,780.7L1026.1,778.6L1027.1,777.1L1028.1,777.8L1029.1,780.3L1030.1,782.4L1031.1,783.1L1032.1,782.5L1033.1,779.1L1034.1,770.5L1035.1,757.8L1036.1,749.4L1037.1,751.7L1038.1,759.9L1039.1,765.6L1040.1,767.1L1041.1,767.2L1042.1,767.6L1043.1,767.8L1044.1,766.7L1045.1,764.8L1046.1,762.9L1047.1,755.0L1048.1,731.7L1049.1,704.9L1050.1,705.5L1051.1,725.5L1052.1,724.8L1053.1,705.5L1054.1,709.2L1055.1,741.2L1056.1,769.5L1057.1,780.9L1058.1,783.3L1059.1,783.6L1063.1,783.6L1064.1,783.1L1065.1,780.4L1066.1,770.5L1067.1,751.2L1068.1,735.9L1069.1,740.4L1070.1,756.6L1071.1,768.2L1072.1,773.0L1073.1,775.1L1074.1,776.1L1075.1,776.6L1076.1,777.1L1077.1,778.2L1078.1,779.6L1079.1,780.4L1080.1,780.8L1081.1,781.8L1082.1,783.0L1083.1,783.4L1084.1,783.2L1085.1,782.3L1086.1,781.8L1087.1,782.5L1088.1,783.1L1089.1,782.9L1090.1,781.8L1091.1,780.8L1092.1,780.9L1093.1,782.1L1094.1,783.1L1095.1,783.4L1096.1,783.3L1097.1,782.9L1098.1,782.6L1099.1,782.5L1100.2,782.8L1101.2,783.1L1102.2,783.1L1103.2,782.5L1104.2,781.6L1105.2,780.9L1106.2,781.0L1107.2,781.8L1108.2,782.7L1109.2,783.0L1110.2,782.2L1111.2,781.0L1112.2,780.9L1113.2,782.2L1114.2,783.2L1115.2,783.4L1116.2,783.1L1117.2,782.5L1118.2,781.9L1119.2,781.0L1120.2,779.4L1121.2,777.6L1122.2,777.1L1123.2,778.3L1124.2,780.4L1125.2,782.2L1126.2,783.1L1127.2,783.5L1128.2,783.5L1129.2,783.3L1130.2,782.5L1131.2,781.6L1132.2,781.9L1133.2,782.9L1134.2,783.5L1135.2,783.5L1136.2,783.2L1137.2,782.7L1138.2,782.5L1139.2,782.9L1140.2,783.4L1141.2,783.6L1142.2,783.5L1143.2,783.2L1144.2,782.4L1145.2,781.4L1146.2,781.1L1147.2,781.6L1148.2,782.1L1149.2,781.6L1150.2,779.5L1151.2,775.7L1152.2,772.3L1153.2,772.0L1154.2,775.1L1155.2,779.0L1156.2,781.4L1157.2,781.8L1158.2,781.0L1159.2,780.1L1160.2,778.6L1161.2,776.1L1162.2,775.1L1163.2,776.9L1164.2,779.7L1165.2,781.9L1166.2,782.9L1167.2,783.0L1168.2,782.7L1169.2,782.8L1170.2,783.3L1171.2,783.5L1172.2,783.5L1173.2,783.3L1174.2,782.6L1175.2,781.8L1176.2,781.4L1177.2,781.9L1178.2,782.8L1179.2,783.3L1180.2,783.5L1181.2,783.4L1182.2,782.9L1183.2,782.4L1184.2,782.3L1185.2,782.7L1186.2,783.0L1187.2,782.6L1188.2,781.4L1189.2,780.1L1190.2,779.6L1191.2,780.4L1192.2,781.7L1193.2,782.6L1194.2,782.6L1195.2,781.9L1196.2,781.2L1197.2,781.1L1198.2,781.7L1199.2,782.6L1200.2,783.1L1201.2,783.0L1202.2,782.1L1203.2,780.7L1204.2,779.2L1205.2,778.9L1206.2,779.9L1207.2,781.0L1208.2,781.4L1209.2,781.2L1210.2,781.1L1211.2,781.7L1212.2,782.4L1213.2,782.6L1214.2,781.3L1215.2,777.9L1216.2,774.3L1217.2,773.9L1218.2,777.2L1219.2,780.9L1220.2,782.9" fill="none" stroke="#1010ff" stroke-width="3.4" stroke-linejoin="round" clip-path="url(#clb10)"/>
<path d="M737.0,844.4L738.0,842.9L739.0,841.7L740.0,841.6L741.0,842.2L742.0,843.1L743.0,843.8L744.0,844.5L745.0,844.9L746.0,845.1L747.0,844.9L748.0,844.0L749.0,842.9L750.0,842.3L751.0,842.7L752.0,843.8L753.0,844.7L754.0,844.8L755.0,844.4L756.0,844.3L757.0,844.7L758.0,844.9L759.0,844.2L760.0,843.6L761.0,844.1L762.0,844.9L763.0,845.1L764.0,844.9L765.0,844.8L766.0,845.0L767.0,845.3L768.0,845.4L769.0,845.2L770.0,844.9L771.0,844.8L772.0,845.0L773.0,845.2L774.0,845.2L775.0,844.9L776.0,844.6L777.0,844.6L778.0,844.9L779.0,845.2L780.0,844.9L781.0,843.2L782.0,838.8L783.0,834.1L784.0,833.9L785.0,838.4L786.0,842.6L787.0,844.0L788.0,843.8L789.0,843.9L790.0,844.7L791.0,845.2L792.0,845.2L793.0,844.7L794.0,844.3L795.0,844.2L796.0,844.6L797.0,844.7L798.0,844.1L799.0,842.7L800.0,841.7L801.0,842.0L802.0,843.5L803.0,844.6L804.0,844.9L805.0,844.6L806.0,844.1L807.0,844.0L808.0,844.3L809.0,844.8L810.0,845.2L811.0,845.2L812.0,844.8L813.0,844.6L814.0,844.8L815.0,845.0L816.0,844.7L817.0,844.4L818.0,844.4L819.0,844.7L820.0,845.0L821.0,845.3L822.0,845.2L823.0,844.8L824.0,844.2L825.0,843.9L826.0,844.1L827.0,844.6L828.0,845.0L829.0,845.2L830.0,845.0L831.0,844.6L832.0,844.1L833.0,843.9L834.0,844.1L835.0,844.5L836.0,844.7L837.0,844.7L838.0,844.7L839.0,844.8L840.0,845.2L841.0,845.4L842.0,845.4L843.0,845.2L844.0,845.0L845.0,844.8L846.0,844.8L847.0,844.7L848.0,844.3L849.0,843.7L850.0,843.2L851.0,843.1L852.0,843.6L853.0,844.5L854.0,845.2L855.0,845.4L856.0,845.4L857.0,845.2L858.1,844.8L859.1,844.5L860.1,844.5L861.1,844.8L862.1,845.0L863.1,844.9L864.1,844.6L865.1,844.3L866.1,844.3L867.1,844.6L868.1,845.0L869.1,845.2L870.1,845.0L871.1,844.4L872.1,843.7L873.1,843.5L874.1,843.9L875.1,844.4L876.1,844.4L877.1,844.0L878.1,843.7L879.1,843.9L880.1,844.6L881.1,845.2L882.1,845.4L883.1,845.4L884.1,845.3L885.1,844.9L886.1,844.7L887.1,845.0L888.1,845.3L889.1,845.2L890.1,844.8L891.1,844.4L892.1,844.1L893.1,844.2L894.1,844.6L895.1,845.0L896.1,845.2L897.1,845.1L898.1,844.7L899.1,844.3L900.1,844.1L901.1,844.2L902.1,844.5L903.1,844.5L904.1,844.1L905.1,843.8L906.1,843.9L907.1,844.4L908.1,844.5L909.1,844.0L910.1,842.9L911.1,840.2L912.1,834.4L913.1,829.9L914.1,832.1L915.1,838.3L916.1,842.7L917.1,844.5L918.1,844.7L919.1,844.3L920.1,844.1L921.1,844.6L922.1,845.0L923.1,845.1L924.1,844.9L925.1,844.8L926.1,844.9L927.1,845.0L928.1,844.9L929.1,844.7L930.1,844.8L931.1,845.2L932.1,845.4L933.1,845.5L934.1,845.4L935.1,845.1L936.1,844.5L937.1,843.5L938.1,841.4L939.1,838.6L940.1,837.0L941.1,838.2L942.1,840.9L943.1,843.3L944.1,844.7L945.1,845.2L946.1,845.3L947.1,845.0L948.1,844.8L949.1,844.8L950.1,845.0L951.1,845.2L952.1,845.0L953.1,844.6L954.1,844.5L955.1,844.8L956.1,845.2L957.1,845.4L958.1,845.2L959.1,844.7L960.1,844.4L961.1,844.7L962.1,845.1L963.1,845.3L964.1,845.2L965.1,844.7L966.1,844.6L967.1,845.0L968.1,845.3L969.1,845.2L970.1,844.7L971.1,844.1L972.1,843.7L973.1,843.8L974.1,844.2L975.1,844.5L976.1,844.4L977.1,844.1L978.1,844.0L979.1,844.3L980.1,844.5L981.1,844.6L982.1,844.6L983.1,844.6L984.1,844.6L985.1,844.5L986.1,844.4L987.1,844.5L988.1,844.8L989.1,845.0L990.1,844.6L991.1,844.0L992.1,843.8L993.1,844.4L994.1,845.1L995.1,845.3L996.1,845.0L997.1,844.5L998.1,844.2L999.1,844.4L1000.1,844.9L1001.1,845.3L1002.1,845.5L1031.1,845.5L1032.1,845.3L1033.1,844.4L1034.1,842.3L1035.1,839.3L1036.1,837.5L1037.1,838.8L1038.1,841.9L1039.1,844.2L1040.1,845.2L1041.1,845.5L1044.1,845.5L1045.1,845.1L1046.1,842.4L1047.1,830.2L1048.1,800.9L1049.1,770.2L1050.1,771.3L1051.1,803.0L1052.1,831.3L1053.1,842.7L1054.1,845.2L1055.1,845.5L1076.1,845.5L1077.1,845.3L1078.1,844.9L1079.1,844.3L1080.1,844.0L1081.1,844.4L1082.1,845.0L1083.1,845.2L1084.1,845.2L1085.1,844.9L1086.1,844.8L1087.1,844.8L1088.1,844.9L1089.1,844.7L1090.1,844.2L1091.1,843.9L1092.1,844.1L1093.1,844.7L1094.1,845.2L1095.1,845.4L1096.1,845.2L1097.1,844.6L1098.1,843.9L1099.1,844.2L1100.2,845.0L1101.2,845.3L1102.2,845.3L1103.2,845.0L1104.2,844.6L1105.2,844.5L1106.2,844.7L1107.2,844.8L1108.2,844.6L1109.2,844.3L1110.2,844.5L1111.2,845.0L1112.2,845.2L1113.2,844.8L1114.2,844.0L1115.2,843.8L1116.2,844.4L1117.2,845.0L1118.2,844.8L1119.2,843.6L1120.2,841.2L1121.2,839.1L1122.2,839.1L1123.2,841.2L1124.2,843.5L1125.2,844.6L1126.2,844.7L1127.2,844.4L1128.2,844.4L1129.2,844.7L1130.2,844.9L1131.2,844.8L1132.2,844.6L1133.2,844.7L1134.2,845.0L1135.2,845.2L1136.2,845.0L1137.2,844.5L1138.2,844.3L1139.2,844.5L1140.2,844.5L1141.2,843.9L1142.2,843.7L1143.2,844.1L1144.2,844.1L1145.2,841.9L1146.2,837.2L1147.2,834.0L1148.2,835.8L1149.2,840.5L1150.2,843.8L1151.2,845.0L1152.2,845.2L1153.2,845.0L1154.2,844.7L1155.2,843.9L1156.2,841.6L1157.2,838.4L1158.2,837.6L1159.2,840.2L1160.2,843.1L1161.2,844.4L1162.2,844.6L1163.2,844.8L1164.2,845.1L1165.2,845.4L1166.2,845.4L1167.2,845.3L1168.2,844.6L1169.2,843.7L1170.2,843.8L1171.2,844.8L1172.2,845.4L1173.2,845.5L1174.2,845.3L1175.2,845.0L1176.2,844.6L1177.2,844.3L1178.2,843.9L1179.2,843.6L1180.2,843.4L1181.2,843.4L1182.2,843.7L1183.2,844.4L1184.2,845.1L1185.2,845.4L1186.2,845.3L1187.2,845.0L1188.2,844.5L1189.2,844.2L1190.2,844.2L1191.2,844.6L1192.2,844.9L1193.2,845.0L1194.2,844.9L1195.2,844.7L1196.2,844.7L1197.2,844.9L1198.2,845.1L1199.2,845.3L1200.2,845.2L1201.2,844.7L1202.2,844.0L1203.2,843.8L1204.2,844.4L1205.2,845.0L1206.2,845.1L1207.2,844.6L1208.2,844.0L1209.2,843.8L1210.2,844.1L1211.2,844.7L1212.2,845.2L1213.2,845.3L1214.2,845.0L1215.2,844.6L1216.2,844.6L1217.2,845.0L1218.2,845.3L1219.2,845.5L1220.2,845.5" fill="none" stroke="#10ee10" stroke-width="3.4" stroke-linejoin="round" clip-path="url(#clb11)"/>
<line x1="978.2" y1="166.7" x2="978.2" y2="105.1" stroke="#000" stroke-width="2.8" stroke-dasharray="17.5 17.5"/>
<line x1="978.2" y1="228.0" x2="978.2" y2="166.7" stroke="#000" stroke-width="2.8" stroke-dasharray="17.5 17.5"/>
<line x1="978.2" y1="289.7" x2="978.2" y2="228.0" stroke="#000" stroke-width="2.8" stroke-dasharray="17.5 17.5"/>
<line x1="978.2" y1="350.6" x2="978.2" y2="289.7" stroke="#000" stroke-width="2.8" stroke-dasharray="17.5 17.5"/>
<line x1="978.2" y1="412.5" x2="978.2" y2="350.6" stroke="#000" stroke-width="2.8" stroke-dasharray="17.5 17.5"/>
<line x1="978.2" y1="475.0" x2="978.2" y2="412.5" stroke="#000" stroke-width="2.8" stroke-dasharray="17.5 17.5"/>
<line x1="978.2" y1="537.1" x2="978.2" y2="475.0" stroke="#000" stroke-width="2.8" stroke-dasharray="17.5 17.5"/>
<line x1="978.2" y1="598.8" x2="978.2" y2="537.1" stroke="#000" stroke-width="2.8" stroke-dasharray="17.5 17.5"/>
<line x1="978.2" y1="661.3" x2="978.2" y2="598.8" stroke="#000" stroke-width="2.8" stroke-dasharray="17.5 17.5"/>
<line x1="978.2" y1="722.9" x2="978.2" y2="661.3" stroke="#000" stroke-width="2.8" stroke-dasharray="17.5 17.5"/>
<line x1="978.2" y1="785.2" x2="978.2" y2="722.9" stroke="#000" stroke-width="2.8" stroke-dasharray="17.5 17.5"/>
<line x1="978.2" y1="847.1" x2="978.2" y2="785.2" stroke="#000" stroke-width="2.8" stroke-dasharray="17.5 17.5"/>
<path d="M783.8,166.7v-7.2 M832.4,166.7v-7.2 M881.0,166.7v-7.2 M929.6,166.7v-7.2 M978.2,166.7v-7.2 M1026.8,166.7v-7.2 M1075.4,166.7v-7.2 M1124.0,166.7v-7.2 M1172.6,166.7v-7.2 M783.8,228.0v-7.2 M832.4,228.0v-7.2 M881.0,228.0v-7.2 M929.6,228.0v-7.2 M978.2,228.0v-7.2 M1026.8,228.0v-7.2 M1075.4,228.0v-7.2 M1124.0,228.0v-7.2 M1172.6,228.0v-7.2 M783.8,289.7v-7.2 M832.4,289.7v-7.2 M881.0,289.7v-7.2 M929.6,289.7v-7.2 M978.2,289.7v-7.2 M1026.8,289.7v-7.2 M1075.4,289.7v-7.2 M1124.0,289.7v-7.2 M1172.6,289.7v-7.2 M783.8,350.6v-7.2 M832.4,350.6v-7.2 M881.0,350.6v-7.2 M929.6,350.6v-7.2 M978.2,350.6v-7.2 M1026.8,350.6v-7.2 M1075.4,350.6v-7.2 M1124.0,350.6v-7.2 M1172.6,350.6v-7.2 M783.8,412.5v-7.2 M832.4,412.5v-7.2 M881.0,412.5v-7.2 M929.6,412.5v-7.2 M978.2,412.5v-7.2 M1026.8,412.5v-7.2 M1075.4,412.5v-7.2 M1124.0,412.5v-7.2 M1172.6,412.5v-7.2 M783.8,475.0v-7.2 M832.4,475.0v-7.2 M881.0,475.0v-7.2 M929.6,475.0v-7.2 M978.2,475.0v-7.2 M1026.8,475.0v-7.2 M1075.4,475.0v-7.2 M1124.0,475.0v-7.2 M1172.6,475.0v-7.2 M783.8,537.1v-7.2 M832.4,537.1v-7.2 M881.0,537.1v-7.2 M929.6,537.1v-7.2 M978.2,537.1v-7.2 M1026.8,537.1v-7.2 M1075.4,537.1v-7.2 M1124.0,537.1v-7.2 M1172.6,537.1v-7.2 M783.8,598.8v-7.2 M832.4,598.8v-7.2 M881.0,598.8v-7.2 M929.6,598.8v-7.2 M978.2,598.8v-7.2 M1026.8,598.8v-7.2 M1075.4,598.8v-7.2 M1124.0,598.8v-7.2 M1172.6,598.8v-7.2 M783.8,661.3v-7.2 M832.4,661.3v-7.2 M881.0,661.3v-7.2 M929.6,661.3v-7.2 M978.2,661.3v-7.2 M1026.8,661.3v-7.2 M1075.4,661.3v-7.2 M1124.0,661.3v-7.2 M1172.6,661.3v-7.2 M783.8,722.9v-7.2 M832.4,722.9v-7.2 M881.0,722.9v-7.2 M929.6,722.9v-7.2 M978.2,722.9v-7.2 M1026.8,722.9v-7.2 M1075.4,722.9v-7.2 M1124.0,722.9v-7.2 M1172.6,722.9v-7.2 M783.8,785.2v-7.2 M832.4,785.2v-7.2 M881.0,785.2v-7.2 M929.6,785.2v-7.2 M978.2,785.2v-7.2 M1026.8,785.2v-7.2 M1075.4,785.2v-7.2 M1124.0,785.2v-7.2 M1172.6,785.2v-7.2 M783.8,847.1v-7.2 M832.4,847.1v-7.2 M881.0,847.1v-7.2 M929.6,847.1v-7.2 M978.2,847.1v-7.2 M1026.8,847.1v-7.2 M1075.4,847.1v-7.2 M1124.0,847.1v-7.2 M1172.6,847.1v-7.2 M783.8,105.1v7.5 M832.4,105.1v7.5 M881.0,105.1v7.5 M929.6,105.1v7.5 M978.2,105.1v7.5 M1026.8,105.1v7.5 M1075.4,105.1v7.5 M1124.0,105.1v7.5 M1172.6,105.1v7.5" stroke="#000" stroke-width="4.6" fill="none"/>
<path d="M759.5,166.7v-4.4 M808.1,166.7v-4.4 M856.7,166.7v-4.4 M905.3,166.7v-4.4 M953.9,166.7v-4.4 M1002.5,166.7v-4.4 M1051.1,166.7v-4.4 M1099.7,166.7v-4.4 M1148.3,166.7v-4.4 M1196.9,166.7v-4.4 M759.5,228.0v-4.4 M808.1,228.0v-4.4 M856.7,228.0v-4.4 M905.3,228.0v-4.4 M953.9,228.0v-4.4 M1002.5,228.0v-4.4 M1051.1,228.0v-4.4 M1099.7,228.0v-4.4 M1148.3,228.0v-4.4 M1196.9,228.0v-4.4 M759.5,289.7v-4.4 M808.1,289.7v-4.4 M856.7,289.7v-4.4 M905.3,289.7v-4.4 M953.9,289.7v-4.4 M1002.5,289.7v-4.4 M1051.1,289.7v-4.4 M1099.7,289.7v-4.4 M1148.3,289.7v-4.4 M1196.9,289.7v-4.4 M759.5,350.6v-4.4 M808.1,350.6v-4.4 M856.7,350.6v-4.4 M905.3,350.6v-4.4 M953.9,350.6v-4.4 M1002.5,350.6v-4.4 M1051.1,350.6v-4.4 M1099.7,350.6v-4.4 M1148.3,350.6v-4.4 M1196.9,350.6v-4.4 M759.5,412.5v-4.4 M808.1,412.5v-4.4 M856.7,412.5v-4.4 M905.3,412.5v-4.4 M953.9,412.5v-4.4 M1002.5,412.5v-4.4 M1051.1,412.5v-4.4 M1099.7,412.5v-4.4 M1148.3,412.5v-4.4 M1196.9,412.5v-4.4 M759.5,475.0v-4.4 M808.1,475.0v-4.4 M856.7,475.0v-4.4 M905.3,475.0v-4.4 M953.9,475.0v-4.4 M1002.5,475.0v-4.4 M1051.1,475.0v-4.4 M1099.7,475.0v-4.4 M1148.3,475.0v-4.4 M1196.9,475.0v-4.4 M759.5,537.1v-4.4 M808.1,537.1v-4.4 M856.7,537.1v-4.4 M905.3,537.1v-4.4 M953.9,537.1v-4.4 M1002.5,537.1v-4.4 M1051.1,537.1v-4.4 M1099.7,537.1v-4.4 M1148.3,537.1v-4.4 M1196.9,537.1v-4.4 M759.5,598.8v-4.4 M808.1,598.8v-4.4 M856.7,598.8v-4.4 M905.3,598.8v-4.4 M953.9,598.8v-4.4 M1002.5,598.8v-4.4 M1051.1,598.8v-4.4 M1099.7,598.8v-4.4 M1148.3,598.8v-4.4 M1196.9,598.8v-4.4 M759.5,661.3v-4.4 M808.1,661.3v-4.4 M856.7,661.3v-4.4 M905.3,661.3v-4.4 M953.9,661.3v-4.4 M1002.5,661.3v-4.4 M1051.1,661.3v-4.4 M1099.7,661.3v-4.4 M1148.3,661.3v-4.4 M1196.9,661.3v-4.4 M759.5,722.9v-4.4 M808.1,722.9v-4.4 M856.7,722.9v-4.4 M905.3,722.9v-4.4 M953.9,722.9v-4.4 M1002.5,722.9v-4.4 M1051.1,722.9v-4.4 M1099.7,722.9v-4.4 M1148.3,722.9v-4.4 M1196.9,722.9v-4.4 M759.5,785.2v-4.4 M808.1,785.2v-4.4 M856.7,785.2v-4.4 M905.3,785.2v-4.4 M953.9,785.2v-4.4 M1002.5,785.2v-4.4 M1051.1,785.2v-4.4 M1099.7,785.2v-4.4 M1148.3,785.2v-4.4 M1196.9,785.2v-4.4 M759.5,847.1v-4.4 M808.1,847.1v-4.4 M856.7,847.1v-4.4 M905.3,847.1v-4.4 M953.9,847.1v-4.4 M1002.5,847.1v-4.4 M1051.1,847.1v-4.4 M1099.7,847.1v-4.4 M1148.3,847.1v-4.4 M1196.9,847.1v-4.4 M759.5,105.1v4.6 M808.1,105.1v4.6 M856.7,105.1v4.6 M905.3,105.1v4.6 M953.9,105.1v4.6 M1002.5,105.1v4.6 M1051.1,105.1v4.6 M1099.7,105.1v4.6 M1148.3,105.1v4.6 M1196.9,105.1v4.6" stroke="#000" stroke-width="4.4" fill="none"/>
<path d="M735.5,156.1h5.0 M735.5,145.6h9.5 M735.5,135.0h5.0 M735.5,124.5h9.5 M735.5,113.9h5.0 M735.5,217.4h5.0 M735.5,206.9h9.5 M735.5,196.3h5.0 M735.5,185.8h9.5 M735.5,175.2h5.0 M735.5,279.1h5.0 M735.5,268.6h9.5 M735.5,258.1h5.0 M735.5,247.5h9.5 M735.5,236.9h5.0 M735.5,340.1h5.0 M735.5,329.5h9.5 M735.5,319.0h5.0 M735.5,308.4h9.5 M735.5,297.9h5.0 M735.5,401.9h5.0 M735.5,391.4h9.5 M735.5,380.9h5.0 M735.5,370.3h9.5 M735.5,359.8h5.0 M735.5,464.4h5.0 M735.5,453.9h9.5 M735.5,443.4h5.0 M735.5,432.8h9.5 M735.5,422.2h5.0 M735.5,526.6h5.0 M735.5,516.0h9.5 M735.5,505.5h5.0 M735.5,494.9h9.5 M735.5,484.4h5.0 M735.5,588.2h5.0 M735.5,577.7h9.5 M735.5,567.1h5.0 M735.5,556.6h9.5 M735.5,546.0h5.0 M735.5,650.8h5.0 M735.5,640.2h9.5 M735.5,629.6h5.0 M735.5,619.1h9.5 M735.5,608.5h5.0 M735.5,712.4h5.0 M735.5,701.8h9.5 M735.5,691.2h5.0 M735.5,680.7h9.5 M735.5,670.1h5.0 M735.5,774.7h5.0 M735.5,764.1h9.5 M735.5,753.6h5.0 M735.5,743.0h9.5 M735.5,732.5h5.0 M735.5,836.6h5.0 M735.5,826.0h9.5 M735.5,815.5h5.0 M735.5,804.9h9.5 M735.5,794.4h5.0" stroke="#000" stroke-width="3.6" fill="none"/>
<line x1="1091.6" y1="126.1" x2="1147.6" y2="126.1" stroke="#1c1ca6" stroke-width="2.8"/>
<text font-size="28" letter-spacing="0.6" transform="translate(1155.5 134.4) scale(1 1.08)"><tspan fill="#1010ff">N</tspan><tspan fill="#000">-p</tspan><tspan font-size="19" dy="6.5" dx="1" fill="#000">z</tspan></text>
<line x1="1091.6" y1="185.2" x2="1147.6" y2="185.2" stroke="#2a9d9d" stroke-width="2.8"/>
<text font-size="28" letter-spacing="0.6" transform="translate(1155.5 193.5) scale(1 1.08)"><tspan fill="#1010ff">N</tspan><tspan fill="#000">-p</tspan><tspan font-size="19" dy="6.5" dx="1" fill="#000">y</tspan></text>
<line x1="1091.6" y1="248.9" x2="1147.6" y2="248.9" stroke="#1f8f1f" stroke-width="2.8"/>
<text font-size="28" letter-spacing="0.6" transform="translate(1155.5 257.2) scale(1 1.08)"><tspan fill="#1010ff">N</tspan><tspan fill="#000">-p</tspan><tspan font-size="19" dy="6.5" dx="1" fill="#000">x</tspan></text>
<line x1="1091.6" y1="308.5" x2="1147.6" y2="308.5" stroke="#9a1010" stroke-width="2.8"/>
<text font-size="28" letter-spacing="0.6" transform="translate(1155.5 316.8) scale(1 1.08)"><tspan fill="#1010ff">N</tspan><tspan fill="#000">-s</tspan></text>
<line x1="1091.6" y1="368.1" x2="1147.6" y2="368.1" stroke="#9a1a9a" stroke-width="2.8"/>
<text font-size="28" letter-spacing="0.6" transform="translate(1155.5 376.4) scale(1 1.08)"><tspan fill="#ff1010">O</tspan><tspan fill="#000">-p</tspan><tspan font-size="19" dy="6.5" dx="1" fill="#000">z</tspan></text>
<line x1="1091.6" y1="433.0" x2="1147.6" y2="433.0" stroke="#10108a" stroke-width="2.8"/>
<text font-size="28" letter-spacing="0.6" transform="translate(1155.5 441.3) scale(1 1.08)"><tspan fill="#ff1010">O</tspan><tspan fill="#000">-p</tspan><tspan font-size="19" dy="6.5" dx="1" fill="#000">y</tspan></text>
<line x1="1017.5" y1="496.8" x2="1072.3" y2="496.8" stroke="#87871a" stroke-width="2.8"/>
<text font-size="28" letter-spacing="0.6" transform="translate(1080.4 505.1) scale(1 1.08)"><tspan fill="#ff1010">O</tspan><tspan fill="#000">-p</tspan><tspan font-size="19" dy="6.5" dx="1" fill="#000">x</tspan></text>
<line x1="1091.6" y1="557.7" x2="1147.6" y2="557.7" stroke="#ffff00" stroke-width="2.8"/>
<text font-size="28" letter-spacing="0.6" transform="translate(1155.5 566.0) scale(1 1.08)"><tspan fill="#ff1010">O</tspan><tspan fill="#000">-s</tspan></text>
<line x1="1091.6" y1="619.8" x2="1147.6" y2="619.8" stroke="#ff00ff" stroke-width="2.8"/>
<text font-size="28" letter-spacing="0.6" transform="translate(1155.5 628.1) scale(1 1.08)"><tspan fill="#f040e8">Si</tspan><tspan fill="#000">-p</tspan><tspan font-size="19" dy="6.5" dx="1" fill="#000">z</tspan></text>
<line x1="1091.6" y1="681.9" x2="1147.6" y2="681.9" stroke="#22f0f0" stroke-width="2.8"/>
<text font-size="28" letter-spacing="0.6" transform="translate(1155.5 690.2) scale(1 1.08)"><tspan fill="#f040e8">Si</tspan><tspan fill="#000">-p</tspan><tspan font-size="19" dy="6.5" dx="1" fill="#000">y</tspan></text>
<line x1="1091.6" y1="741.7" x2="1147.6" y2="741.7" stroke="#1010ff" stroke-width="2.8"/>
<text font-size="28" letter-spacing="0.6" transform="translate(1155.5 750.0) scale(1 1.08)"><tspan fill="#f040e8">Si</tspan><tspan fill="#000">-p</tspan><tspan font-size="19" dy="6.5" dx="1" fill="#000">x</tspan></text>
<line x1="1091.6" y1="805.2" x2="1147.6" y2="805.2" stroke="#10ee10" stroke-width="2.8"/>
<text font-size="28" letter-spacing="0.6" transform="translate(1155.5 813.5) scale(1 1.08)"><tspan fill="#f040e8">Si</tspan><tspan fill="#000">-s</tspan></text>
<text font-size="32" text-anchor="middle" transform="translate(734.7 87.9) scale(0.99 1)">-5</text>
<text font-size="32" text-anchor="middle" transform="translate(734.7 879.4) scale(0.99 1)">-5</text>
<text font-size="32" text-anchor="middle" transform="translate(783.3 87.9) scale(0.99 1)">-4</text>
<text font-size="32" text-anchor="middle" transform="translate(783.3 879.4) scale(0.99 1)">-4</text>
<text font-size="32" text-anchor="middle" transform="translate(831.9 87.9) scale(0.99 1)">-3</text>
<text font-size="32" text-anchor="middle" transform="translate(831.9 879.4) scale(0.99 1)">-3</text>
<text font-size="32" text-anchor="middle" transform="translate(880.5 87.9) scale(0.99 1)">-2</text>
<text font-size="32" text-anchor="middle" transform="translate(880.5 879.4) scale(0.99 1)">-2</text>
<text font-size="32" text-anchor="middle" transform="translate(929.1 87.9) scale(0.99 1)">-1</text>
<text font-size="32" text-anchor="middle" transform="translate(929.1 879.4) scale(0.99 1)">-1</text>
<text font-size="32" text-anchor="middle" transform="translate(977.7 87.9) scale(0.99 1)">0</text>
<text font-size="32" text-anchor="middle" transform="translate(977.7 879.4) scale(0.99 1)">0</text>
<text font-size="32" text-anchor="middle" transform="translate(1026.3 87.9) scale(0.99 1)">1</text>
<text font-size="32" text-anchor="middle" transform="translate(1026.3 879.4) scale(0.99 1)">1</text>
<text font-size="32" text-anchor="middle" transform="translate(1074.9 87.9) scale(0.99 1)">2</text>
<text font-size="32" text-anchor="middle" transform="translate(1074.9 879.4) scale(0.99 1)">2</text>
<text font-size="32" text-anchor="middle" transform="translate(1123.5 87.9) scale(0.99 1)">3</text>
<text font-size="32" text-anchor="middle" transform="translate(1123.5 879.4) scale(0.99 1)">3</text>
<text font-size="32" text-anchor="middle" transform="translate(1172.1 87.9) scale(0.99 1)">4</text>
<text font-size="32" text-anchor="middle" transform="translate(1172.1 879.4) scale(0.99 1)">4</text>
<text font-size="32" text-anchor="middle" transform="translate(1220.7 87.9) scale(0.99 1)">5</text>
<text font-size="32" text-anchor="middle" transform="translate(1220.7 879.4) scale(0.99 1)">5</text>
<text x="725.5" y="175.7" font-size="30" font-weight="normal" stroke="#000" stroke-width="0.55" text-anchor="end">0.00</text>
<text x="725.5" y="154.6" font-size="30" font-weight="normal" stroke="#000" stroke-width="0.55" text-anchor="end">0.27</text>
<text x="725.5" y="133.5" font-size="30" font-weight="normal" stroke="#000" stroke-width="0.55" text-anchor="end">0.54</text>
<text x="725.5" y="237.0" font-size="30" font-weight="normal" stroke="#000" stroke-width="0.55" text-anchor="end">0.00</text>
<text x="725.5" y="215.9" font-size="30" font-weight="normal" stroke="#000" stroke-width="0.55" text-anchor="end">0.27</text>
<text x="725.5" y="194.8" font-size="30" font-weight="normal" stroke="#000" stroke-width="0.55" text-anchor="end">0.54</text>
<text x="725.5" y="298.7" font-size="30" font-weight="normal" stroke="#000" stroke-width="0.55" text-anchor="end">0.00</text>
<text x="725.5" y="277.6" font-size="30" font-weight="normal" stroke="#000" stroke-width="0.55" text-anchor="end">0.27</text>
<text x="725.5" y="256.5" font-size="30" font-weight="normal" stroke="#000" stroke-width="0.55" text-anchor="end">0.54</text>
<text x="725.5" y="359.6" font-size="30" font-weight="normal" stroke="#000" stroke-width="0.55" text-anchor="end">0.00</text>
<text x="725.5" y="338.5" font-size="30" font-weight="normal" stroke="#000" stroke-width="0.55" text-anchor="end">0.27</text>
<text x="725.5" y="317.4" font-size="30" font-weight="normal" stroke="#000" stroke-width="0.55" text-anchor="end">0.54</text>
<text x="725.5" y="421.5" font-size="30" font-weight="normal" stroke="#000" stroke-width="0.55" text-anchor="end">0.00</text>
<text x="725.5" y="400.4" font-size="30" font-weight="normal" stroke="#000" stroke-width="0.55" text-anchor="end">0.27</text>
<text x="725.5" y="379.3" font-size="30" font-weight="normal" stroke="#000" stroke-width="0.55" text-anchor="end">0.54</text>
<text x="725.5" y="484.0" font-size="30" font-weight="normal" stroke="#000" stroke-width="0.55" text-anchor="end">0.00</text>
<text x="725.5" y="462.9" font-size="30" font-weight="normal" stroke="#000" stroke-width="0.55" text-anchor="end">0.27</text>
<text x="725.5" y="441.8" font-size="30" font-weight="normal" stroke="#000" stroke-width="0.55" text-anchor="end">0.54</text>
<text x="725.5" y="546.1" font-size="30" font-weight="normal" stroke="#000" stroke-width="0.55" text-anchor="end">0.00</text>
<text x="725.5" y="525.0" font-size="30" font-weight="normal" stroke="#000" stroke-width="0.55" text-anchor="end">0.27</text>
<text x="725.5" y="503.9" font-size="30" font-weight="normal" stroke="#000" stroke-width="0.55" text-anchor="end">0.54</text>
<text x="725.5" y="607.8" font-size="30" font-weight="normal" stroke="#000" stroke-width="0.55" text-anchor="end">0.00</text>
<text x="725.5" y="586.7" font-size="30" font-weight="normal" stroke="#000" stroke-width="0.55" text-anchor="end">0.27</text>
<text x="725.5" y="565.6" font-size="30" font-weight="normal" stroke="#000" stroke-width="0.55" text-anchor="end">0.54</text>
<text x="725.5" y="670.3" font-size="30" font-weight="normal" stroke="#000" stroke-width="0.55" text-anchor="end">0.00</text>
<text x="725.5" y="649.2" font-size="30" font-weight="normal" stroke="#000" stroke-width="0.55" text-anchor="end">0.27</text>
<text x="725.5" y="628.1" font-size="30" font-weight="normal" stroke="#000" stroke-width="0.55" text-anchor="end">0.54</text>
<text x="725.5" y="731.9" font-size="30" font-weight="normal" stroke="#000" stroke-width="0.55" text-anchor="end">0.00</text>
<text x="725.5" y="710.8" font-size="30" font-weight="normal" stroke="#000" stroke-width="0.55" text-anchor="end">0.27</text>
<text x="725.5" y="689.7" font-size="30" font-weight="normal" stroke="#000" stroke-width="0.55" text-anchor="end">0.54</text>
<text x="725.5" y="794.2" font-size="30" font-weight="normal" stroke="#000" stroke-width="0.55" text-anchor="end">0.00</text>
<text x="725.5" y="773.1" font-size="30" font-weight="normal" stroke="#000" stroke-width="0.55" text-anchor="end">0.27</text>
<text x="725.5" y="752.0" font-size="30" font-weight="normal" stroke="#000" stroke-width="0.55" text-anchor="end">0.54</text>
<text x="725.5" y="856.1" font-size="30" font-weight="normal" stroke="#000" stroke-width="0.55" text-anchor="end">0.00</text>
<text x="725.5" y="835.0" font-size="30" font-weight="normal" stroke="#000" stroke-width="0.55" text-anchor="end">0.27</text>
<text x="725.5" y="813.9" font-size="30" font-weight="normal" stroke="#000" stroke-width="0.55" text-anchor="end">0.54</text>
<text x="979.4" y="905.1" font-size="29.3" text-anchor="middle">Energy(eV)</text>
<path d="M1355.1,165.4H1835.7 M1355.1,226.8H1835.7 M1355.1,288.1H1835.7 M1355.1,349.5H1835.7 M1355.1,410.9H1835.7 M1355.1,472.3H1835.7 M1355.1,533.7H1835.7 M1355.1,595.1H1835.7 M1355.1,656.5H1835.7 M1355.1,717.8H1835.7 M1355.1,779.2H1835.7" stroke="#000" stroke-width="3.6" fill="none"/>
<rect x="1355.1" y="104.0" width="480.6" height="736.6" fill="none" stroke="#000" stroke-width="4.4"/>
<path d="M1356.6,162.5L1357.6,160.9L1358.6,159.3L1359.6,158.8L1360.6,159.9L1361.6,161.6L1362.6,162.9L1363.6,163.5L1364.6,163.7L1401.7,163.7L1402.7,163.5L1403.7,162.6L1404.7,159.3L1405.7,151.1L1406.7,136.7L1407.7,120.5L1408.7,111.9L1409.7,117.0L1410.7,132.0L1411.7,147.2L1412.7,156.0L1413.7,158.3L1414.7,156.5L1415.7,153.6L1416.7,151.8L1417.7,152.6L1418.7,155.3L1419.7,158.7L1420.7,161.3L1421.7,162.8L1422.7,163.5L1423.7,163.7L1424.7,163.8L1479.8,163.7L1480.8,163.6L1481.8,163.0L1482.8,161.7L1483.8,160.0L1484.8,158.8L1485.8,159.3L1486.8,160.9L1487.8,162.5L1488.8,163.4L1489.8,163.7L1490.8,163.8L1517.8,163.8L1518.8,163.7L1519.8,163.3L1520.8,162.1L1521.8,159.8L1522.8,157.0L1523.8,155.6L1524.8,155.8L1525.8,152.8L1526.8,137.7L1527.8,105.7L1528.8,68.5L1529.8,43.1L1530.8,31.7L1531.8,27.2L1532.8,25.4L1533.8,26.1L1534.8,32.6L1535.8,51.9L1536.8,87.1L1537.8,125.5L1538.8,150.7L1539.8,160.8L1540.8,163.3L1541.8,163.7L1834.2,163.8" fill="none" stroke="#1c1ca6" stroke-width="3.4" stroke-linejoin="round" clip-path="url(#clc0)"/>
<path d="M1356.6,222.9L1357.6,218.7L1358.6,211.6L1359.6,203.8L1360.6,199.8L1361.6,202.6L1362.6,210.1L1363.6,217.6L1364.6,222.3L1365.6,224.4L1366.6,225.0L1367.6,225.1L1368.6,225.1L1369.6,225.0L1370.6,224.3L1371.6,222.1L1372.6,217.2L1373.6,209.9L1374.6,203.2L1375.6,201.3L1376.6,205.8L1377.6,213.4L1378.6,219.8L1379.6,223.3L1380.6,224.7L1381.6,225.1L1382.6,225.2L1412.7,225.1L1413.7,225.1L1414.7,224.7L1415.7,223.8L1416.7,222.5L1417.7,221.4L1418.7,221.3L1419.7,222.4L1420.7,223.8L1421.7,224.7L1422.7,225.0L1423.7,225.1L1517.8,225.2L1518.8,225.1L1519.8,224.7L1520.8,223.5L1521.8,221.1L1522.8,218.4L1523.8,217.1L1524.8,218.0L1525.8,218.0L1526.8,209.8L1527.8,185.9L1528.8,150.4L1529.8,121.1L1530.8,107.5L1531.8,103.2L1532.8,102.5L1533.8,102.6L1534.8,102.8L1535.8,105.8L1536.8,116.2L1537.8,141.6L1538.8,177.7L1539.8,206.6L1540.8,220.4L1541.8,224.3L1542.8,225.1L1543.8,225.2L1834.2,225.2" fill="none" stroke="#2a9d9d" stroke-width="3.4" stroke-linejoin="round" clip-path="url(#clc1)"/>
<path d="M1356.6,284.8L1357.6,283.4L1358.6,281.4L1359.6,280.6L1360.6,281.5L1361.6,282.4L1362.6,282.6L1363.6,283.0L1364.6,283.9L1365.6,284.9L1366.6,285.2L1367.6,285.0L1368.6,284.3L1369.6,283.2L1370.6,282.0L1371.6,281.7L1372.6,282.0L1373.6,282.2L1374.6,282.0L1375.6,282.8L1376.6,284.3L1377.6,285.4L1378.6,285.3L1379.6,284.6L1380.6,283.6L1381.6,283.1L1382.6,283.2L1383.6,283.4L1384.6,283.4L1385.6,283.5L1386.6,283.5L1387.6,283.1L1388.6,283.0L1389.6,283.9L1390.6,285.2L1391.6,286.0L1392.6,286.0L1393.6,285.3L1394.6,284.1L1395.6,283.2L1396.7,283.1L1397.7,283.2L1398.7,282.5L1399.7,280.9L1400.7,280.8L1401.7,282.4L1402.7,283.8L1403.7,284.3L1404.7,284.4L1405.7,284.7L1406.7,284.9L1407.7,284.7L1408.7,284.0L1409.7,283.1L1410.7,282.8L1411.7,283.1L1412.7,283.4L1413.7,283.8L1414.7,283.9L1415.7,283.6L1416.7,283.1L1417.7,283.1L1418.7,283.6L1419.7,283.9L1420.7,283.3L1421.7,282.6L1422.7,282.4L1423.7,282.8L1424.7,283.2L1425.7,283.0L1426.7,282.3L1427.7,282.5L1428.7,283.8L1429.7,285.2L1430.7,286.0L1431.7,286.4L1432.7,286.5L1433.7,286.5L1525.8,286.5L1526.8,286.5L1527.8,286.3L1528.8,285.7L1529.8,284.0L1530.8,280.9L1531.8,276.3L1532.8,271.6L1533.8,269.2L1534.8,270.4L1535.8,274.5L1536.8,279.4L1537.8,283.1L1538.8,285.2L1539.8,286.1L1540.8,286.5L1541.8,286.5L1834.2,286.5" fill="none" stroke="#1f8f1f" stroke-width="3.4" stroke-linejoin="round" clip-path="url(#clc2)"/>
<path d="M1356.6,347.9L1479.8,347.9L1480.8,347.8L1481.8,347.3L1482.8,346.3L1483.8,344.9L1484.8,344.0L1485.8,344.3L1486.8,345.6L1487.8,346.9L1488.8,347.6L1489.8,347.9L1490.8,347.9L1525.8,347.9L1526.8,347.8L1527.8,347.0L1528.8,344.2L1529.8,336.6L1530.8,322.1L1531.8,303.8L1532.8,291.1L1533.8,293.1L1534.8,308.2L1535.8,326.3L1536.8,339.1L1537.8,345.2L1538.8,347.3L1539.8,347.8L1540.8,347.9L1696.0,347.9L1697.0,347.8L1698.0,347.4L1699.0,346.9L1700.0,346.4L1701.0,346.3L1702.0,346.7L1703.0,347.0L1704.0,347.0L1705.0,346.6L1706.0,346.3L1707.0,346.4L1708.0,347.0L1709.0,347.5L1710.0,347.7L1711.0,347.3L1712.0,346.3L1713.0,345.8L1714.0,346.5L1715.1,346.8L1716.1,346.3L1717.1,345.9L1718.1,346.0L1719.1,346.7L1720.1,347.3L1721.1,347.7L1722.1,347.8L1723.1,347.6L1724.1,347.1L1725.1,346.7L1726.1,347.0L1727.1,347.3L1728.1,347.1L1729.1,346.6L1730.1,346.5L1731.1,347.0L1732.1,347.5L1733.1,347.8L1734.1,347.7L1735.1,347.3L1736.1,346.8L1737.1,346.4L1738.1,346.7L1739.1,347.3L1740.1,347.6L1741.1,347.6L1742.1,347.2L1743.1,346.7L1744.1,346.3L1745.1,346.2L1746.1,346.6L1747.1,347.2L1748.1,347.5L1749.1,347.6L1750.1,347.4L1751.1,347.2L1752.1,347.2L1753.1,347.3L1754.1,347.4L1755.1,347.4L1756.1,347.1L1757.1,346.8L1758.1,346.8L1759.1,347.1L1760.1,347.4L1761.1,347.2L1762.1,346.4L1763.1,345.8L1764.1,346.2L1765.1,346.8L1766.1,346.6L1767.1,346.0L1768.1,345.8L1769.1,346.0L1770.1,346.3L1771.1,345.8L1772.1,344.1L1773.1,341.3L1774.1,338.5L1775.1,337.2L1776.1,338.2L1777.1,340.8L1778.1,343.1L1779.1,344.5L1780.1,345.6L1781.1,346.9L1782.1,347.6L1783.1,347.7L1784.1,347.4L1785.1,346.5L1786.1,344.9L1787.1,343.0L1788.1,341.6L1789.1,341.9L1790.1,343.6L1791.1,345.3L1792.1,346.3L1793.1,346.6L1794.1,346.8L1795.2,346.7L1796.2,346.1L1797.2,344.9L1798.2,343.4L1799.2,342.2L1800.2,342.2L1801.2,343.7L1802.2,345.6L1803.2,346.8L1804.2,346.6L1805.2,345.2L1806.2,343.3L1807.2,340.3L1808.2,335.8L1809.2,331.5L1810.2,330.1L1811.2,332.5L1812.2,337.0L1813.2,341.3L1814.2,344.0L1815.2,345.5L1816.2,346.2L1817.2,346.5L1818.2,345.7L1819.2,343.8L1820.2,342.1L1821.2,342.3L1822.2,344.0L1823.2,345.9L1824.2,346.7L1825.2,346.5L1826.2,346.0L1827.2,345.8L1828.2,345.7L1829.2,345.1L1830.2,343.8L1831.2,342.9L1832.2,343.3L1833.2,344.6L1834.2,345.9" fill="none" stroke="#9a1010" stroke-width="3.4" stroke-linejoin="round" clip-path="url(#clc3)"/>
<path d="M1356.6,408.0L1357.6,406.5L1358.6,404.8L1359.6,404.4L1360.6,405.4L1361.6,407.2L1362.6,408.5L1363.6,409.1L1364.6,409.3L1369.6,409.3L1370.6,409.1L1371.6,408.3L1372.6,406.2L1373.6,402.4L1374.6,398.5L1375.6,397.4L1376.6,400.1L1377.6,404.2L1378.6,407.3L1379.6,408.8L1380.6,409.2L1381.6,409.3L1411.7,409.3L1412.7,409.3L1413.7,409.0L1414.7,408.1L1415.7,405.8L1416.7,402.2L1417.7,399.1L1418.7,399.0L1419.7,402.0L1420.7,405.6L1421.7,407.8L1422.7,407.7L1423.7,403.0L1424.7,387.5L1425.7,353.3L1426.7,301.2L1427.7,246.1L1428.7,206.4L1429.7,187.5L1430.7,183.8L1431.7,192.5L1432.7,219.2L1433.7,266.4L1434.7,322.7L1435.7,369.0L1436.7,395.3L1437.7,405.8L1438.7,408.7L1439.7,409.2L1440.7,409.3L1472.7,409.3L1473.7,409.1L1474.7,408.2L1475.7,403.8L1476.8,390.9L1477.8,364.2L1478.8,327.2L1479.8,292.3L1480.8,268.9L1481.8,256.5L1482.8,252.6L1483.8,256.2L1484.8,263.6L1485.8,269.7L1486.8,273.7L1487.8,280.1L1488.8,295.6L1489.8,324.2L1490.8,359.3L1491.8,387.4L1492.8,402.4L1493.8,407.8L1494.8,409.1L1495.8,409.3L1527.8,409.3L1528.8,409.2L1529.8,408.9L1530.8,408.2L1531.8,407.2L1532.8,406.4L1533.8,406.5L1534.8,407.4L1535.8,408.4L1536.8,409.0L1537.8,409.2L1538.8,409.3L1730.1,409.3L1731.1,409.2L1732.1,409.2L1733.1,409.0L1734.1,408.7L1735.1,408.3L1736.1,407.6L1737.1,406.7L1738.1,405.3L1739.1,403.6L1740.1,401.6L1741.1,399.3L1742.1,396.9L1743.1,394.8L1744.1,393.1L1745.1,392.1L1746.1,392.0L1747.1,392.6L1748.1,394.0L1749.1,396.0L1750.1,398.3L1751.1,400.6L1752.1,402.8L1753.1,404.6L1754.1,406.1L1755.1,407.3L1756.1,408.1L1757.1,408.6L1758.1,408.9L1759.1,409.1L1760.1,409.2L1761.1,409.3L1762.1,409.3L1834.2,409.3" fill="none" stroke="#9a1a9a" stroke-width="3.4" stroke-linejoin="round" clip-path="url(#clc4)"/>
<path d="M1356.6,470.4L1357.6,469.8L1358.6,468.4L1359.6,466.6L1360.6,465.7L1361.6,466.4L1362.6,468.0L1363.6,469.5L1364.6,470.3L1365.6,470.6L1366.6,470.7L1369.6,470.7L1370.6,470.4L1371.6,469.4L1372.6,466.5L1373.6,461.4L1374.6,456.3L1375.6,454.8L1376.6,458.4L1377.6,463.9L1378.6,468.1L1379.6,470.0L1380.6,470.6L1381.6,470.7L1401.7,470.7L1402.7,470.5L1403.7,470.0L1404.7,468.5L1405.7,465.7L1406.7,462.7L1407.7,461.7L1408.7,463.6L1409.7,466.7L1410.7,469.1L1411.7,470.3L1412.7,470.6L1413.7,470.3L1414.7,468.8L1415.7,463.6L1416.7,451.9L1417.7,435.2L1418.7,423.5L1419.7,426.3L1420.7,440.8L1421.7,455.2L1422.7,461.8L1423.7,461.9L1424.7,460.6L1425.7,461.6L1426.7,464.2L1427.7,464.7L1428.7,458.8L1429.7,444.9L1430.7,429.0L1431.7,422.8L1432.7,431.7L1433.7,448.3L1434.7,461.6L1435.7,468.1L1436.7,470.2L1437.7,470.6L1438.7,470.7L1473.7,470.7L1474.7,470.6L1475.7,470.0L1476.8,467.1L1477.8,457.1L1478.8,433.7L1479.8,395.9L1480.8,354.4L1481.8,323.3L1482.8,307.3L1483.8,300.9L1484.8,297.1L1485.8,292.2L1486.8,290.1L1487.8,302.6L1488.8,337.9L1489.8,387.2L1490.8,430.7L1491.8,456.5L1492.8,467.0L1493.8,470.0L1494.8,470.6L1495.8,470.7L1527.8,470.7L1528.8,470.6L1529.8,470.3L1530.8,469.6L1531.8,468.5L1532.8,467.8L1533.8,467.9L1534.8,468.8L1535.8,469.8L1536.8,470.4L1537.8,470.6L1538.8,470.7L1729.1,470.7L1730.1,470.6L1731.1,470.5L1732.1,470.4L1733.1,470.1L1734.1,469.5L1735.1,468.7L1736.1,467.3L1737.1,465.4L1738.1,462.8L1739.1,459.7L1740.1,456.1L1741.1,452.5L1742.1,449.2L1743.1,446.7L1744.1,445.4L1745.1,445.5L1746.1,447.1L1747.1,449.7L1748.1,453.1L1749.1,456.7L1750.1,460.2L1751.1,463.3L1752.1,465.8L1753.1,467.6L1754.1,468.8L1755.1,469.6L1756.1,470.1L1757.1,470.4L1758.1,470.6L1759.1,470.6L1760.1,470.7L1834.2,470.7" fill="none" stroke="#10108a" stroke-width="3.4" stroke-linejoin="round" clip-path="url(#clc5)"/>
<path d="M1356.6,529.9L1357.6,527.3L1358.6,524.1L1359.6,521.5L1360.6,520.8L1361.6,522.3L1362.6,525.1L1363.6,528.0L1364.6,529.8L1365.6,530.4L1366.6,530.5L1367.6,530.9L1368.6,531.6L1369.6,531.9L1370.6,531.8L1371.6,531.5L1372.6,530.8L1373.6,529.9L1374.6,528.8L1375.6,527.7L1376.6,527.2L1377.6,527.8L1378.6,529.1L1379.6,530.4L1380.6,531.3L1381.6,531.8L1382.6,531.9L1383.6,531.7L1384.6,531.2L1385.6,530.7L1386.6,530.6L1387.6,530.9L1388.6,531.4L1389.6,531.7L1390.6,531.7L1391.6,531.5L1392.6,531.4L1393.6,531.5L1394.6,531.6L1395.6,531.5L1396.7,530.8L1397.7,530.3L1398.7,530.6L1399.7,531.3L1400.7,531.9L1401.7,532.0L1409.7,532.1L1410.7,532.0L1411.7,531.4L1412.7,528.4L1413.7,518.3L1414.7,495.0L1415.7,458.0L1416.7,418.1L1417.7,388.5L1418.7,372.5L1419.7,365.6L1420.7,362.9L1421.7,362.3L1422.7,363.5L1423.7,367.7L1424.7,375.7L1425.7,385.1L1426.7,391.7L1427.7,394.6L1428.7,395.6L1429.7,396.1L1430.7,397.7L1431.7,402.3L1432.7,410.5L1433.7,419.3L1434.7,426.1L1435.7,438.3L1436.7,463.4L1437.7,494.1L1438.7,516.9L1439.7,527.7L1440.7,531.2L1441.7,532.0L1442.7,532.1L1472.7,532.1L1473.7,532.0L1474.7,531.4L1475.7,528.5L1476.8,518.9L1477.8,497.1L1478.8,463.8L1479.8,430.5L1480.8,408.8L1481.8,399.2L1482.8,396.3L1483.8,395.4L1484.8,394.2L1485.8,391.7L1486.8,388.7L1487.8,389.4L1488.8,398.9L1489.8,418.0L1490.8,444.4L1491.8,473.4L1492.8,497.2L1493.8,510.5L1494.8,514.6L1495.8,515.0L1496.8,516.0L1497.8,518.9L1498.8,522.1L1499.8,524.4L1500.8,525.3L1501.8,525.2L1502.8,524.8L1503.8,524.3L1504.8,524.0L1505.8,523.7L1506.8,523.5L1507.8,523.3L1508.8,523.1L1509.8,522.9L1510.8,522.7L1511.8,522.7L1512.8,522.7L1513.8,522.9L1514.8,523.3L1515.8,524.0L1516.8,524.8L1517.8,525.6L1518.8,526.1L1519.8,524.8L1520.8,520.1L1521.8,512.2L1522.8,505.7L1523.8,506.3L1524.8,514.0L1525.8,523.1L1526.8,528.8L1527.8,531.2L1528.8,531.5L1529.8,530.5L1530.8,528.0L1531.8,524.2L1532.8,521.4L1533.8,521.8L1534.8,525.1L1535.8,528.7L1536.8,531.0L1537.8,531.8L1538.8,532.0L1735.1,532.1L1736.1,532.0L1737.1,531.6L1738.1,529.8L1739.1,525.2L1740.1,517.3L1741.1,509.6L1742.1,507.7L1743.1,513.1L1744.1,520.3L1745.1,523.6L1746.1,522.7L1747.1,520.4L1748.1,518.0L1749.1,513.4L1750.1,506.6L1751.1,502.8L1752.1,507.0L1753.1,516.7L1754.1,525.4L1755.1,530.0L1756.1,531.6L1757.1,531.9L1758.1,531.8L1759.1,531.5L1760.1,531.0L1761.1,530.1L1762.1,528.8L1763.1,527.4L1764.1,526.1L1765.1,525.1L1766.1,524.9L1767.1,525.5L1768.1,526.6L1769.1,528.0L1770.1,529.4L1771.1,530.5L1772.1,531.2L1773.1,531.7L1774.1,531.9L1775.1,532.0L1776.1,532.1L1834.2,532.1" fill="none" stroke="#87871a" stroke-width="3.4" stroke-linejoin="round" clip-path="url(#clc6)"/>
<path d="M1356.6,593.5L1834.2,593.5" fill="none" stroke="#c8c818" stroke-width="3.4" stroke-linejoin="round" clip-path="url(#clc7)"/>
<path d="M1356.6,654.6L1357.6,654.0L1358.6,653.2L1359.6,653.1L1360.6,653.7L1361.6,653.9L1362.6,652.9L1363.6,650.1L1364.6,645.5L1365.6,640.4L1366.6,635.2L1367.6,630.5L1368.6,627.9L1369.6,628.3L1370.6,631.1L1371.6,635.3L1372.6,640.0L1373.6,643.5L1374.6,645.3L1375.6,646.0L1376.6,646.4L1377.6,646.8L1378.6,647.6L1379.6,648.6L1380.6,649.6L1381.6,650.3L1382.6,650.9L1383.6,651.6L1384.6,652.2L1385.6,652.1L1386.6,651.0L1387.6,649.6L1388.6,648.7L1389.6,648.9L1390.6,649.5L1391.6,650.0L1392.6,650.5L1393.6,650.8L1394.6,651.3L1395.6,652.2L1396.7,653.3L1397.7,654.2L1398.7,654.5L1399.7,654.4L1400.7,653.9L1401.7,653.8L1402.7,654.1L1403.7,654.2L1404.7,653.7L1405.7,653.0L1406.7,653.0L1407.7,653.3L1408.7,653.3L1409.7,652.6L1410.7,651.2L1411.7,649.2L1412.7,647.1L1413.7,645.4L1414.7,644.5L1415.7,643.7L1416.7,642.8L1417.7,642.3L1418.7,643.3L1419.7,645.2L1420.7,647.1L1421.7,648.4L1422.7,649.1L1423.7,649.1L1424.7,648.5L1425.7,647.6L1426.7,646.5L1427.7,645.5L1428.7,644.6L1429.7,644.1L1430.7,643.8L1431.7,643.7L1432.7,644.5L1433.7,646.6L1434.7,648.9L1435.7,650.6L1436.7,651.7L1437.7,652.4L1438.7,652.6L1439.7,652.8L1440.7,653.2L1441.7,653.9L1442.7,654.3L1443.7,654.5L1444.7,654.3L1445.7,654.0L1446.7,654.0L1447.7,654.3L1448.7,654.6L1449.7,654.7L1450.7,654.6L1451.7,654.3L1452.7,654.0L1453.7,653.9L1454.7,654.0L1455.7,654.2L1456.7,654.2L1457.7,653.7L1458.7,653.2L1459.7,653.5L1460.7,654.2L1461.7,654.7L1462.7,654.7L1463.7,654.4L1464.7,653.7L1465.7,653.0L1466.7,653.1L1467.7,653.8L1468.7,654.4L1469.7,654.5L1470.7,654.3L1471.7,653.8L1472.7,653.5L1473.7,653.4L1474.7,653.5L1475.7,653.5L1476.8,652.9L1477.8,651.7L1478.8,650.4L1479.8,649.8L1480.8,650.0L1481.8,650.1L1482.8,649.9L1483.8,650.4L1484.8,651.8L1485.8,653.2L1486.8,654.1L1487.8,654.4L1488.8,654.3L1489.8,653.8L1490.8,653.2L1491.8,653.2L1492.8,653.7L1493.8,654.1L1494.8,654.1L1495.8,654.0L1496.8,654.0L1497.8,654.1L1498.8,653.9L1499.8,653.4L1500.8,653.4L1501.8,653.9L1502.8,654.2L1503.8,654.0L1504.8,653.7L1505.8,653.8L1506.8,653.9L1507.8,654.0L1508.8,653.8L1509.8,653.8L1510.8,654.0L1511.8,654.3L1512.8,654.3L1513.8,654.2L1514.8,654.4L1515.8,654.7L1516.8,654.8L1517.8,654.8L1518.8,654.4L1519.8,653.6L1520.8,653.5L1521.8,654.1L1522.8,654.5L1523.8,654.1L1524.8,653.4L1525.8,652.9L1526.8,653.1L1527.8,653.7L1528.8,653.8L1529.8,653.3L1530.8,652.8L1531.8,653.1L1532.8,653.6L1533.8,653.4L1534.8,653.0L1535.8,653.1L1536.8,653.7L1537.8,654.1L1538.8,654.2L1539.8,654.2L1540.8,654.4L1541.8,654.6L1542.8,654.4L1543.8,654.0L1544.8,653.9L1545.8,654.4L1546.8,654.7L1547.8,654.8L1548.8,654.8L1549.8,654.6L1550.8,654.3L1551.8,654.0L1552.8,654.0L1553.8,654.3L1554.8,654.6L1555.9,654.7L1556.9,654.7L1557.9,654.4L1558.9,654.1L1559.9,654.0L1560.9,654.2L1561.9,654.5L1562.9,654.7L1563.9,654.8L1564.9,654.6L1565.9,654.3L1566.9,654.2L1567.9,654.4L1568.9,654.6L1569.9,654.7L1570.9,654.4L1571.9,653.7L1572.9,653.3L1573.9,653.6L1574.9,654.2L1575.9,654.3L1576.9,653.8L1577.9,653.3L1578.9,653.6L1579.9,654.3L1580.9,654.7L1581.9,654.8L1582.9,654.6L1583.9,654.3L1584.9,653.9L1585.9,653.9L1586.9,654.2L1587.9,654.4L1588.9,654.1L1589.9,653.5L1590.9,653.2L1591.9,653.5L1592.9,653.8L1593.9,653.6L1594.9,653.1L1595.9,653.1L1596.9,653.5L1597.9,654.0L1598.9,654.1L1599.9,653.6L1600.9,653.1L1601.9,653.4L1602.9,654.0L1603.9,654.5L1604.9,654.6L1605.9,654.4L1606.9,653.9L1607.9,653.4L1608.9,653.2L1609.9,653.4L1610.9,653.7L1611.9,653.5L1612.9,653.0L1613.9,653.1L1614.9,653.5L1615.9,653.7L1616.9,653.5L1617.9,653.5L1618.9,653.8L1619.9,654.1L1620.9,654.2L1621.9,654.0L1622.9,653.9L1623.9,654.0L1624.9,653.8L1625.9,653.4L1626.9,653.2L1627.9,653.5L1628.9,654.1L1629.9,654.3L1630.9,653.9L1631.9,653.4L1632.9,653.4L1633.9,653.9L1634.9,654.3L1636.0,654.4L1637.0,654.1L1638.0,653.9L1639.0,653.9L1640.0,654.1L1641.0,654.0L1642.0,653.5L1643.0,652.9L1644.0,652.9L1645.0,653.5L1646.0,654.2L1647.0,654.4L1648.0,654.3L1649.0,654.3L1650.0,654.5L1651.0,654.7L1652.0,654.7L1653.0,654.4L1654.0,653.8L1655.0,653.4L1656.0,653.7L1657.0,654.2L1658.0,654.4L1659.0,654.0L1660.0,652.6L1661.0,649.8L1662.0,645.8L1663.0,641.8L1664.0,639.7L1665.0,640.4L1666.0,643.5L1667.0,647.3L1668.0,650.4L1669.0,652.5L1670.0,653.8L1671.0,654.3L1672.0,654.2L1673.0,653.7L1674.0,652.9L1675.0,652.2L1676.0,651.6L1677.0,651.0L1678.0,650.4L1679.0,650.2L1680.0,650.6L1681.0,651.4L1682.0,652.2L1683.0,652.7L1684.0,652.9L1685.0,653.2L1686.0,653.8L1687.0,654.4L1688.0,654.7L1689.0,654.5L1690.0,653.9L1691.0,653.4L1692.0,653.8L1693.0,654.5L1694.0,654.8L1695.0,654.8L1696.0,654.7L1697.0,654.3L1698.0,653.9L1699.0,653.8L1700.0,654.1L1701.0,654.5L1702.0,654.6L1703.0,654.4L1704.0,654.1L1705.0,654.2L1706.0,654.5L1707.0,654.6L1708.0,654.4L1709.0,653.8L1710.0,653.4L1711.0,653.7L1712.0,654.4L1713.0,654.7L1714.0,654.7L1715.1,654.4L1716.1,654.1L1717.1,654.1L1718.1,654.1L1719.1,653.7L1720.1,653.3L1721.1,653.2L1722.1,653.6L1723.1,654.1L1724.1,654.5L1725.1,654.5L1726.1,654.3L1727.1,653.8L1728.1,653.2L1729.1,652.8L1730.1,652.3L1731.1,651.5L1732.1,650.3L1733.1,648.9L1734.1,647.5L1735.1,646.3L1736.1,645.0L1737.1,643.8L1738.1,642.7L1739.1,642.3L1740.1,642.8L1741.1,643.9L1742.1,645.3L1743.1,646.6L1744.1,647.8L1745.1,648.9L1746.1,650.1L1747.1,651.1L1748.1,651.7L1749.1,652.1L1750.1,652.5L1751.1,653.1L1752.1,653.7L1753.1,653.8L1754.1,653.7L1755.1,653.7L1756.1,654.0L1757.1,654.5L1758.1,654.6L1759.1,654.4L1760.1,654.0L1761.1,653.4L1762.1,653.1L1763.1,653.1L1764.1,653.2L1765.1,653.0L1766.1,652.5L1767.1,651.8L1768.1,651.4L1769.1,651.4L1770.1,651.6L1771.1,651.8L1772.1,651.6L1773.1,651.3L1774.1,651.7L1775.1,652.7L1776.1,653.2L1777.1,653.0L1778.1,652.0L1779.1,650.3L1780.1,648.1L1781.1,646.1L1782.1,644.8L1783.1,644.5L1784.1,645.0L1785.1,646.0L1786.1,647.3L1787.1,648.8L1788.1,650.6L1789.1,652.0L1790.1,652.0L1791.1,649.4L1792.1,643.4L1793.1,634.5L1794.1,625.8L1795.2,621.7L1796.2,624.5L1797.2,632.0L1798.2,639.1L1799.2,639.8L1800.2,629.8L1801.2,609.3L1802.2,586.3L1803.2,574.2L1804.2,581.1L1805.2,602.2L1806.2,625.0L1807.2,640.3L1808.2,646.2L1809.2,646.5L1810.2,645.9L1811.2,646.4L1812.2,646.5L1813.2,643.7L1814.2,636.7L1815.2,627.4L1816.2,620.0L1817.2,618.0L1818.2,621.1L1819.2,625.1L1820.2,626.8L1821.2,626.3L1822.2,627.2L1823.2,631.4L1824.2,638.1L1825.2,644.8L1826.2,649.6L1827.2,651.6L1828.2,649.8L1829.2,643.0L1830.2,630.9L1831.2,617.1L1832.2,608.7L1833.2,609.9L1834.2,617.7" fill="none" stroke="#ff00ff" stroke-width="3.4" stroke-linejoin="round" clip-path="url(#clc8)"/>
<path d="M1356.6,716.2L1357.6,716.0L1358.6,715.7L1359.6,715.5L1360.6,715.8L1361.6,716.0L1362.6,715.8L1363.6,714.6L1364.6,711.3L1365.6,704.6L1366.6,694.9L1367.6,685.4L1368.6,681.0L1369.6,684.4L1370.6,693.5L1371.6,703.1L1372.6,710.0L1373.6,713.7L1374.6,715.3L1375.6,715.8L1376.6,715.7L1377.6,715.0L1378.6,714.6L1379.6,715.0L1380.6,715.4L1381.6,715.1L1382.6,714.3L1383.6,713.5L1384.6,713.2L1385.6,713.4L1386.6,713.6L1387.6,713.5L1388.6,713.0L1389.6,712.4L1390.6,712.0L1391.6,712.3L1392.6,713.1L1393.6,713.8L1394.6,714.1L1395.6,713.8L1396.7,713.9L1397.7,714.6L1398.7,715.4L1399.7,715.6L1400.7,715.1L1401.7,714.6L1402.7,714.4L1403.7,714.9L1404.7,715.5L1405.7,715.9L1406.7,715.8L1407.7,715.4L1408.7,714.7L1409.7,714.0L1410.7,713.4L1411.7,713.0L1412.7,712.5L1413.7,711.6L1414.7,710.3L1415.7,709.0L1416.7,708.2L1417.7,707.8L1418.7,707.4L1419.7,707.2L1420.7,707.8L1421.7,709.0L1422.7,709.8L1423.7,710.1L1424.7,709.9L1425.7,709.1L1426.7,708.3L1427.7,708.1L1428.7,708.6L1429.7,709.1L1430.7,709.7L1431.7,710.4L1432.7,711.0L1433.7,712.0L1434.7,713.3L1435.7,714.4L1436.7,715.1L1437.7,715.3L1438.7,715.1L1439.7,714.9L1440.7,714.9L1441.7,715.2L1442.7,715.5L1443.7,715.3L1444.7,715.0L1445.7,715.1L1446.7,715.7L1447.7,715.9L1448.7,715.7L1449.7,715.1L1450.7,714.8L1451.7,715.1L1452.7,715.7L1453.7,716.1L1454.7,716.1L1455.7,715.9L1456.7,715.5L1457.7,715.1L1458.7,715.3L1459.7,715.8L1460.7,716.1L1461.7,716.2L1462.7,716.1L1463.7,715.8L1464.7,715.4L1465.7,715.2L1466.7,715.4L1467.7,715.7L1468.7,715.9L1469.7,715.9L1470.7,715.5L1471.7,715.1L1472.7,715.2L1473.7,715.6L1474.7,716.0L1475.7,716.1L1476.8,716.1L1477.8,715.9L1478.8,715.6L1479.8,715.5L1480.8,715.7L1481.8,716.0L1482.8,716.1L1483.8,716.1L1484.8,715.8L1485.8,715.2L1486.8,714.6L1487.8,714.4L1488.8,714.8L1489.8,715.4L1490.8,715.9L1491.8,716.0L1492.8,715.6L1493.8,715.2L1494.8,715.3L1495.8,715.8L1496.8,715.9L1497.8,715.7L1498.8,715.2L1499.8,714.7L1500.8,714.5L1501.8,714.8L1502.8,715.1L1503.8,715.0L1504.8,714.6L1505.8,714.2L1506.8,714.5L1507.8,715.1L1508.8,715.7L1509.8,715.8L1510.8,715.3L1511.8,714.7L1512.8,714.8L1513.8,715.6L1514.8,716.0L1515.8,715.8L1516.8,715.3L1517.8,715.0L1518.8,715.2L1519.8,715.6L1520.8,715.7L1521.8,715.6L1522.8,715.7L1523.8,715.9L1524.8,716.1L1525.8,716.1L1526.8,715.9L1527.8,715.6L1528.8,715.5L1529.8,715.8L1530.8,716.1L1531.8,716.1L1532.8,715.8L1533.8,715.3L1534.8,714.7L1535.8,714.6L1536.8,715.0L1537.8,715.6L1538.8,715.8L1539.8,715.5L1540.8,715.3L1541.8,715.5L1542.8,715.7L1543.8,715.4L1544.8,715.1L1545.8,715.1L1546.8,715.4L1547.8,715.4L1548.8,715.2L1549.8,715.2L1550.8,715.5L1551.8,715.7L1552.8,715.6L1553.8,715.3L1554.8,714.9L1555.9,714.9L1556.9,715.3L1557.9,715.7L1558.9,715.9L1559.9,715.7L1560.9,715.1L1561.9,714.5L1562.9,714.6L1563.9,715.3L1564.9,715.9L1565.9,716.1L1566.9,716.0L1567.9,715.7L1568.9,715.3L1569.9,715.0L1570.9,715.2L1571.9,715.6L1572.9,716.0L1573.9,716.1L1574.9,716.1L1575.9,715.9L1576.9,715.6L1577.9,715.5L1578.9,715.8L1579.9,716.0L1580.9,716.0L1581.9,715.7L1582.9,715.6L1583.9,715.6L1584.9,715.5L1585.9,715.1L1586.9,714.9L1587.9,715.2L1588.9,715.8L1589.9,716.1L1590.9,716.2L1591.9,716.0L1592.9,715.5L1593.9,714.8L1594.9,714.9L1595.9,715.5L1596.9,715.9L1597.9,715.8L1598.9,715.6L1599.9,715.4L1600.9,715.4L1601.9,715.6L1602.9,715.9L1603.9,716.0L1604.9,715.8L1605.9,715.3L1606.9,714.7L1607.9,714.6L1608.9,715.1L1609.9,715.7L1610.9,716.1L1611.9,716.2L1612.9,716.0L1613.9,715.6L1614.9,715.3L1615.9,715.5L1616.9,715.9L1617.9,716.2L1618.9,716.2L1619.9,716.1L1620.9,715.7L1621.9,715.3L1622.9,715.4L1623.9,715.8L1624.9,715.9L1625.9,715.3L1626.9,714.6L1627.9,714.4L1628.9,715.0L1629.9,715.6L1630.9,715.5L1631.9,714.9L1632.9,714.9L1633.9,715.4L1634.9,715.4L1636.0,715.0L1637.0,714.7L1638.0,714.9L1639.0,715.3L1640.0,715.7L1641.0,715.7L1642.0,715.4L1643.0,715.0L1644.0,714.9L1645.0,715.3L1646.0,715.8L1647.0,716.1L1648.0,716.1L1649.0,716.0L1650.0,715.5L1651.0,715.3L1652.0,715.6L1653.0,716.0L1654.0,715.9L1655.0,715.5L1656.0,715.2L1657.0,715.3L1658.0,714.9L1659.0,713.6L1660.0,711.7L1661.0,710.2L1662.0,709.2L1663.0,708.2L1664.0,707.1L1665.0,706.8L1666.0,708.0L1667.0,710.2L1668.0,712.2L1669.0,713.7L1670.0,714.6L1671.0,715.0L1672.0,715.3L1673.0,715.8L1674.0,716.1L1675.0,716.1L1676.0,715.8L1677.0,715.0L1678.0,714.4L1679.0,714.8L1680.0,715.7L1681.0,716.1L1682.0,716.0L1683.0,715.4L1684.0,714.6L1685.0,714.5L1686.0,715.2L1687.0,715.8L1688.0,715.9L1689.0,715.6L1690.0,715.1L1691.0,714.8L1692.0,714.9L1693.0,715.3L1694.0,715.3L1695.0,714.8L1696.0,714.6L1697.0,715.1L1698.0,715.7L1699.0,715.7L1700.0,715.3L1701.0,715.0L1702.0,715.1L1703.0,715.5L1704.0,715.9L1705.0,716.1L1706.0,716.1L1707.0,715.9L1708.0,715.7L1709.0,715.6L1710.0,715.6L1711.0,715.7L1712.0,715.6L1713.0,715.1L1714.0,714.6L1715.1,714.5L1716.1,714.9L1717.1,715.4L1718.1,715.8L1719.1,715.9L1720.1,715.7L1721.1,715.5L1722.1,715.4L1723.1,715.4L1724.1,715.3L1725.1,714.7L1726.1,713.9L1727.1,713.8L1728.1,714.0L1729.1,713.4L1730.1,712.2L1731.1,710.6L1732.1,708.8L1733.1,707.5L1734.1,706.9L1735.1,707.2L1736.1,707.9L1737.1,708.7L1738.1,709.6L1739.1,710.5L1740.1,711.6L1741.1,712.8L1742.1,714.0L1743.1,714.6L1744.1,714.7L1745.1,714.5L1746.1,714.4L1747.1,714.8L1748.1,715.4L1749.1,715.6L1750.1,715.2L1751.1,714.1L1752.1,712.1L1753.1,709.6L1754.1,707.2L1755.1,705.9L1756.1,706.2L1757.1,707.9L1758.1,710.7L1759.1,713.4L1760.1,715.0L1761.1,715.5L1762.1,715.2L1763.1,714.7L1764.1,714.5L1765.1,714.6L1766.1,714.9L1767.1,714.9L1768.1,714.4L1769.1,713.7L1770.1,713.3L1771.1,713.3L1772.1,713.1L1773.1,712.8L1774.1,712.6L1775.1,712.7L1776.1,713.0L1777.1,713.3L1778.1,713.3L1779.1,713.5L1780.1,713.9L1781.1,713.7L1782.1,712.4L1783.1,709.6L1784.1,705.3L1785.1,700.2L1786.1,694.9L1787.1,690.6L1788.1,688.2L1789.1,688.3L1790.1,690.7L1791.1,693.8L1792.1,695.1L1793.1,691.4L1794.1,681.3L1795.2,667.8L1796.2,658.3L1797.2,658.9L1798.2,669.1L1799.2,682.9L1800.2,693.5L1801.2,698.0L1802.2,697.2L1803.2,694.1L1804.2,691.4L1805.2,690.7L1806.2,692.5L1807.2,696.0L1808.2,700.0L1809.2,703.3L1810.2,705.2L1811.2,705.6L1812.2,705.0L1813.2,704.5L1814.2,704.9L1815.2,706.1L1816.2,707.3L1817.2,708.4L1818.2,709.0L1819.2,708.4L1820.2,706.4L1821.2,703.1L1822.2,698.4L1823.2,692.2L1824.2,685.7L1825.2,680.9L1826.2,679.8L1827.2,682.6L1828.2,688.1L1829.2,694.3L1830.2,699.2L1831.2,701.7L1832.2,701.5L1833.2,699.7L1834.2,698.1" fill="none" stroke="#22f0f0" stroke-width="3.4" stroke-linejoin="round" clip-path="url(#clc9)"/>
<path d="M1356.6,771.9L1357.6,771.0L1358.6,771.9L1359.6,774.0L1360.6,775.7L1361.6,775.9L1362.6,775.1L1363.6,775.3L1364.6,776.3L1365.6,776.2L1366.6,774.5L1367.6,771.4L1368.6,767.3L1369.6,762.6L1370.6,758.0L1371.6,754.3L1372.6,752.2L1373.6,752.8L1374.6,756.5L1375.6,762.1L1376.6,767.7L1377.6,771.7L1378.6,773.9L1379.6,774.9L1380.6,775.5L1381.6,775.7L1382.6,775.3L1383.6,774.0L1384.6,772.9L1385.6,772.6L1386.6,773.0L1387.6,773.3L1388.6,773.3L1389.6,773.3L1390.6,773.9L1391.6,775.1L1392.6,776.1L1393.6,776.4L1394.6,776.4L1395.6,776.6L1396.7,777.1L1397.7,777.2L1398.7,776.6L1399.7,774.9L1400.7,773.2L1401.7,772.0L1402.7,769.6L1403.7,765.2L1404.7,759.9L1405.7,755.3L1406.7,752.5L1407.7,752.0L1408.7,753.8L1409.7,757.2L1410.7,760.9L1411.7,763.5L1412.7,763.8L1413.7,761.3L1414.7,758.1L1415.7,757.0L1416.7,759.4L1417.7,764.6L1418.7,770.0L1419.7,773.5L1420.7,774.9L1421.7,775.4L1422.7,776.0L1423.7,776.6L1424.7,776.7L1425.7,775.6L1426.7,773.0L1427.7,769.4L1428.7,765.6L1429.7,763.1L1430.7,763.2L1431.7,766.0L1432.7,769.8L1433.7,772.9L1434.7,774.6L1435.7,775.1L1436.7,775.2L1437.7,774.9L1438.7,774.3L1439.7,773.4L1440.7,772.7L1441.7,772.5L1442.7,773.0L1443.7,774.2L1444.7,775.4L1445.7,776.2L1446.7,776.3L1447.7,775.9L1448.7,775.6L1449.7,775.9L1450.7,776.2L1451.7,775.7L1452.7,773.7L1453.7,769.5L1454.7,762.7L1455.7,753.5L1456.7,742.7L1457.7,731.7L1458.7,723.2L1459.7,719.9L1460.7,723.0L1461.7,731.6L1462.7,743.1L1463.7,754.3L1464.7,763.0L1465.7,768.4L1466.7,771.7L1467.7,773.5L1468.7,773.8L1469.7,772.7L1470.7,770.9L1471.7,769.1L1472.7,768.1L1473.7,768.5L1474.7,770.0L1475.7,771.9L1476.8,773.5L1477.8,774.3L1478.8,774.0L1479.8,772.4L1480.8,769.3L1481.8,764.9L1482.8,760.8L1483.8,759.0L1484.8,760.5L1485.8,764.6L1486.8,769.5L1487.8,773.4L1488.8,775.6L1489.8,776.3L1490.8,776.1L1491.8,776.0L1492.8,776.4L1493.8,777.0L1494.8,777.1L1495.8,776.3L1496.8,775.8L1497.8,776.4L1498.8,777.1L1499.8,777.0L1500.8,776.4L1501.8,776.5L1502.8,777.0L1503.8,777.0L1504.8,776.6L1505.8,776.3L1506.8,776.3L1507.8,776.5L1508.8,776.6L1509.8,776.1L1510.8,775.4L1511.8,775.4L1512.8,776.1L1513.8,776.9L1514.8,777.4L1515.8,777.5L1516.8,777.0L1517.8,776.0L1518.8,775.3L1519.8,776.0L1520.8,777.1L1521.8,777.5L1522.8,777.6L1523.8,777.5L1524.8,777.0L1525.8,776.4L1526.8,776.4L1527.8,777.0L1528.8,776.9L1529.8,775.2L1530.8,770.9L1531.8,764.5L1532.8,759.2L1533.8,759.3L1534.8,764.7L1535.8,771.3L1536.8,775.5L1537.8,777.0L1538.8,776.8L1539.8,775.7L1540.8,775.3L1541.8,776.3L1542.8,777.3L1543.8,777.4L1544.8,776.8L1545.8,775.9L1546.8,775.5L1547.8,776.2L1548.8,777.1L1549.8,777.4L1550.8,777.2L1551.8,776.4L1552.8,775.6L1553.8,775.6L1554.8,776.4L1555.9,776.7L1556.9,776.3L1557.9,775.8L1558.9,776.1L1559.9,776.7L1560.9,776.9L1561.9,776.5L1562.9,776.1L1563.9,776.2L1564.9,776.8L1565.9,777.2L1566.9,777.2L1567.9,776.8L1568.9,776.3L1569.9,776.1L1570.9,776.4L1571.9,776.9L1572.9,777.3L1573.9,777.5L1574.9,777.2L1575.9,776.4L1576.9,775.7L1577.9,776.1L1578.9,777.0L1579.9,777.4L1580.9,777.4L1581.9,777.1L1582.9,776.7L1583.9,776.7L1584.9,777.0L1585.9,777.4L1586.9,777.5L1587.9,777.2L1588.9,776.6L1589.9,775.8L1590.9,775.0L1591.9,772.6L1592.9,764.5L1593.9,746.7L1594.9,721.1L1595.9,700.1L1596.9,698.1L1597.9,716.5L1598.9,742.3L1599.9,761.9L1600.9,771.4L1601.9,774.4L1602.9,775.5L1603.9,776.3L1604.9,776.3L1605.9,775.9L1606.9,775.8L1607.9,776.2L1608.9,776.7L1609.9,777.0L1610.9,776.9L1611.9,776.5L1612.9,776.2L1613.9,776.3L1614.9,776.7L1615.9,777.1L1616.9,777.4L1617.9,777.2L1618.9,776.8L1619.9,776.6L1620.9,777.0L1621.9,777.3L1622.9,777.0L1623.9,776.4L1624.9,775.9L1625.9,776.2L1626.9,776.8L1627.9,777.0L1628.9,776.8L1629.9,776.3L1630.9,776.2L1631.9,776.6L1632.9,777.2L1633.9,777.5L1634.9,777.6L1636.0,777.5L1637.0,777.1L1638.0,776.7L1639.0,776.7L1640.0,777.1L1641.0,777.5L1642.0,777.6L1643.0,777.6L1644.0,777.5L1645.0,777.1L1646.0,776.8L1647.0,776.8L1648.0,776.9L1649.0,776.2L1650.0,774.3L1651.0,772.3L1652.0,771.7L1653.0,772.8L1654.0,774.5L1655.0,775.7L1656.0,775.8L1657.0,775.4L1658.0,775.3L1659.0,776.0L1660.0,776.8L1661.0,777.3L1662.0,777.1L1663.0,776.4L1664.0,775.8L1665.0,776.0L1666.0,776.8L1667.0,777.3L1668.0,777.3L1669.0,777.0L1670.0,776.7L1671.0,776.5L1672.0,776.5L1673.0,776.7L1674.0,776.7L1675.0,776.7L1676.0,776.9L1677.0,777.2L1678.0,777.5L1679.0,777.5L1680.0,777.3L1681.0,776.9L1682.0,776.4L1683.0,776.2L1684.0,776.4L1685.0,776.9L1686.0,777.2L1687.0,777.2L1688.0,776.6L1689.0,775.8L1690.0,775.9L1691.0,776.7L1692.0,776.9L1693.0,776.6L1694.0,775.9L1695.0,775.0L1696.0,774.1L1697.0,773.6L1698.0,773.5L1699.0,773.7L1700.0,773.7L1701.0,773.9L1702.0,774.5L1703.0,775.5L1704.0,776.4L1705.0,776.5L1706.0,776.0L1707.0,775.4L1708.0,775.6L1709.0,776.4L1710.0,777.2L1711.0,777.5L1712.0,777.4L1713.0,776.8L1714.0,775.9L1715.1,775.6L1716.1,776.0L1717.1,776.7L1718.1,776.4L1719.1,775.4L1720.1,775.3L1721.1,776.3L1722.1,777.0L1723.1,776.8L1724.1,776.3L1725.1,776.2L1726.1,776.5L1727.1,776.7L1728.1,776.7L1729.1,776.6L1730.1,776.8L1731.1,777.1L1732.1,777.3L1733.1,777.4L1734.1,777.1L1735.1,776.7L1736.1,776.4L1737.1,776.3L1738.1,776.5L1739.1,776.8L1740.1,776.6L1741.1,775.6L1742.1,774.2L1743.1,773.2L1744.1,772.3L1745.1,770.7L1746.1,768.4L1747.1,766.1L1748.1,764.9L1749.1,765.2L1750.1,766.9L1751.1,768.9L1752.1,770.3L1753.1,771.6L1754.1,773.8L1755.1,775.8L1756.1,776.3L1757.1,775.9L1758.1,775.7L1759.1,776.0L1760.1,775.9L1761.1,774.2L1762.1,770.9L1763.1,767.2L1764.1,765.4L1765.1,766.5L1766.1,769.1L1767.1,771.7L1768.1,774.0L1769.1,776.0L1770.1,777.0L1771.1,777.0L1772.1,776.6L1773.1,776.5L1774.1,776.8L1775.1,776.7L1776.1,776.3L1777.1,775.4L1778.1,774.1L1779.1,772.6L1780.1,771.4L1781.1,771.6L1782.1,772.9L1783.1,774.4L1784.1,775.5L1785.1,776.3L1786.1,776.6L1787.1,776.3L1788.1,775.3L1789.1,774.1L1790.1,771.4L1791.1,765.6L1792.1,757.5L1793.1,750.4L1794.1,747.8L1795.2,750.8L1796.2,758.0L1797.2,766.2L1798.2,772.4L1799.2,775.5L1800.2,776.3L1801.2,776.2L1802.2,776.3L1803.2,776.6L1804.2,776.4L1805.2,774.2L1806.2,766.8L1807.2,750.9L1808.2,727.0L1809.2,704.4L1810.2,697.6L1811.2,711.7L1812.2,736.7L1813.2,758.0L1814.2,769.8L1815.2,774.5L1816.2,775.8L1817.2,775.3L1818.2,774.0L1819.2,772.2L1820.2,770.4L1821.2,769.1L1822.2,769.0L1823.2,769.9L1824.2,771.4L1825.2,773.0L1826.2,774.5L1827.2,775.4L1828.2,775.2L1829.2,774.1L1830.2,771.5L1831.2,766.2L1832.2,758.9L1833.2,752.7L1834.2,751.0" fill="none" stroke="#1010ff" stroke-width="3.4" stroke-linejoin="round" clip-path="url(#clc10)"/>
<path d="M1356.6,838.2L1357.6,837.4L1358.6,836.5L1359.6,835.7L1360.6,835.3L1361.6,835.0L1362.6,834.9L1363.6,834.9L1364.6,835.0L1365.6,834.9L1366.6,834.9L1367.6,835.7L1368.6,836.9L1369.6,837.2L1370.6,837.0L1371.6,837.1L1372.6,837.6L1373.6,837.6L1374.6,837.2L1375.6,836.7L1376.6,836.5L1377.6,836.5L1378.6,836.7L1379.6,836.8L1380.6,836.7L1381.6,836.5L1382.6,836.5L1383.6,837.3L1384.6,838.1L1385.6,838.6L1386.6,838.7L1387.6,838.5L1388.6,837.9L1389.6,837.7L1390.6,838.3L1391.6,838.8L1392.6,838.8L1393.6,838.6L1394.6,838.2L1395.6,837.7L1396.7,837.2L1397.7,836.8L1398.7,836.2L1399.7,835.4L1400.7,835.1L1401.7,835.7L1402.7,836.6L1403.7,836.9L1404.7,837.0L1405.7,837.4L1406.7,838.1L1407.7,838.6L1408.7,838.9L1409.7,838.9L1410.7,838.6L1411.7,838.1L1412.7,837.8L1413.7,838.0L1414.7,838.2L1415.7,838.2L1416.7,837.7L1417.7,837.0L1418.7,836.0L1419.7,835.3L1420.7,835.6L1421.7,836.4L1422.7,837.2L1423.7,837.5L1424.7,837.4L1425.7,837.3L1426.7,837.7L1427.7,838.2L1428.7,838.4L1429.7,838.3L1430.7,838.1L1431.7,838.0L1432.7,838.1L1433.7,838.5L1434.7,838.7L1435.7,838.9L1436.7,838.9L1437.7,838.4L1438.7,837.6L1439.7,837.3L1440.7,837.8L1441.7,837.6L1442.7,836.6L1443.7,834.9L1444.7,832.9L1445.7,830.6L1446.7,827.8L1447.7,825.0L1448.7,823.8L1449.7,824.8L1450.7,827.1L1451.7,829.5L1452.7,831.1L1453.7,831.7L1454.7,831.8L1455.7,831.1L1456.7,829.2L1457.7,826.5L1458.7,824.4L1459.7,824.1L1460.7,825.5L1461.7,827.9L1462.7,830.4L1463.7,832.6L1464.7,834.3L1465.7,835.6L1466.7,836.4L1467.7,836.6L1468.7,836.1L1469.7,835.2L1470.7,834.5L1471.7,834.3L1472.7,834.5L1473.7,834.9L1474.7,835.3L1475.7,835.8L1476.8,836.4L1477.8,837.0L1478.8,837.6L1479.8,838.1L1480.8,838.0L1481.8,837.4L1482.8,836.6L1483.8,836.3L1484.8,836.0L1485.8,835.4L1486.8,834.3L1487.8,833.2L1488.8,832.3L1489.8,832.1L1490.8,833.0L1491.8,834.6L1492.8,836.1L1493.8,837.2L1494.8,837.9L1495.8,838.0L1496.8,837.7L1497.8,837.6L1498.8,837.9L1499.8,838.3L1500.8,838.4L1501.8,838.1L1502.8,837.5L1503.8,837.1L1504.8,837.3L1505.8,837.9L1506.8,838.4L1507.8,838.5L1508.8,838.0L1509.8,837.9L1510.8,838.3L1511.8,838.7L1512.8,838.5L1513.8,838.0L1514.8,837.5L1515.8,837.1L1516.8,837.0L1517.8,837.0L1518.8,836.9L1519.8,836.8L1520.8,836.7L1521.8,836.6L1522.8,836.8L1523.8,837.3L1524.8,838.0L1525.8,838.5L1526.8,838.7L1527.8,838.7L1528.8,838.5L1529.8,838.2L1530.8,838.2L1531.8,838.4L1532.8,838.6L1533.8,838.6L1534.8,838.2L1535.8,837.7L1536.8,837.3L1537.8,837.4L1538.8,837.8L1539.8,838.4L1540.8,838.7L1541.8,838.8L1542.8,838.5L1543.8,838.0L1544.8,838.0L1545.8,838.5L1546.8,838.8L1547.8,838.6L1548.8,837.9L1549.8,837.2L1550.8,837.5L1551.8,838.3L1552.8,838.7L1553.8,838.7L1554.8,838.4L1555.9,838.2L1556.9,838.4L1557.9,838.7L1558.9,838.9L1559.9,838.9L1560.9,838.7L1561.9,838.1L1562.9,837.4L1563.9,837.1L1564.9,837.4L1565.9,837.9L1566.9,838.1L1567.9,838.0L1568.9,837.9L1569.9,838.0L1570.9,838.4L1571.9,838.6L1572.9,838.5L1573.9,838.4L1574.9,838.4L1575.9,838.6L1576.9,838.5L1577.9,838.1L1578.9,837.6L1579.9,837.4L1580.9,837.5L1581.9,837.9L1582.9,838.1L1583.9,838.1L1584.9,838.3L1585.9,838.6L1586.9,838.6L1587.9,838.0L1588.9,837.2L1589.9,836.9L1590.9,836.7L1591.9,834.4L1592.9,827.4L1593.9,815.4L1594.9,802.4L1595.9,796.0L1596.9,800.8L1597.9,813.5L1598.9,826.0L1599.9,833.8L1600.9,837.0L1601.9,838.0L1602.9,838.5L1603.9,838.8L1604.9,838.9L1605.9,838.9L1606.9,838.6L1607.9,838.4L1608.9,838.5L1609.9,838.9L1610.9,839.0L1611.9,839.0L1612.9,838.8L1613.9,838.0L1614.9,837.2L1615.9,837.4L1616.9,838.4L1617.9,838.9L1618.9,838.9L1619.9,838.7L1620.9,838.1L1621.9,837.5L1622.9,837.8L1623.9,838.5L1624.9,838.7L1625.9,838.4L1626.9,837.6L1627.9,837.2L1628.9,837.6L1629.9,838.1L1630.9,838.1L1631.9,837.7L1632.9,837.5L1633.9,837.9L1634.9,838.4L1636.0,838.8L1637.0,838.8L1638.0,838.6L1639.0,838.4L1640.0,838.4L1641.0,838.5L1642.0,838.7L1643.0,838.7L1644.0,838.4L1645.0,838.1L1646.0,838.3L1647.0,838.7L1648.0,838.9L1649.0,838.7L1650.0,838.2L1651.0,837.8L1652.0,837.9L1653.0,838.0L1654.0,837.7L1655.0,837.4L1656.0,837.4L1657.0,837.9L1658.0,838.4L1659.0,838.7L1660.0,838.5L1661.0,837.6L1662.0,837.0L1663.0,837.6L1664.0,838.5L1665.0,838.6L1666.0,838.2L1667.0,837.8L1668.0,838.0L1669.0,838.4L1670.0,838.4L1671.0,838.1L1672.0,838.0L1673.0,838.1L1674.0,838.5L1675.0,838.8L1676.0,838.9L1677.0,838.7L1678.0,838.0L1679.0,837.2L1680.0,837.3L1681.0,838.0L1682.0,838.1L1683.0,837.7L1684.0,837.5L1685.0,837.8L1686.0,838.4L1687.0,838.7L1688.0,838.7L1689.0,838.5L1690.0,838.4L1691.0,838.5L1692.0,838.6L1693.0,838.5L1694.0,838.1L1695.0,837.5L1696.0,837.1L1697.0,837.0L1698.0,837.0L1699.0,836.9L1700.0,836.7L1701.0,836.4L1702.0,836.0L1703.0,835.9L1704.0,836.4L1705.0,837.4L1706.0,838.2L1707.0,838.7L1708.0,838.6L1709.0,838.2L1710.0,837.8L1711.0,838.0L1712.0,838.3L1713.0,838.4L1714.0,838.2L1715.1,838.1L1716.1,838.3L1717.1,838.5L1718.1,838.5L1719.1,838.1L1720.1,837.6L1721.1,837.5L1722.1,837.9L1723.1,838.2L1724.1,838.2L1725.1,837.8L1726.1,837.5L1727.1,837.6L1728.1,838.0L1729.1,838.3L1730.1,838.3L1731.1,837.8L1732.1,837.2L1733.1,837.0L1734.1,837.2L1735.1,837.3L1736.1,837.2L1737.1,837.2L1738.1,837.7L1739.1,838.3L1740.1,838.6L1741.1,838.6L1742.1,838.2L1743.1,837.9L1744.1,837.7L1745.1,837.9L1746.1,838.3L1747.1,838.6L1748.1,838.7L1749.1,838.4L1750.1,837.9L1751.1,837.8L1752.1,838.1L1753.1,838.3L1754.1,837.9L1755.1,837.2L1756.1,836.5L1757.1,836.2L1758.1,836.0L1759.1,835.7L1760.1,835.6L1761.1,835.9L1762.1,836.7L1763.1,837.4L1764.1,837.7L1765.1,837.8L1766.1,838.1L1767.1,838.5L1768.1,838.8L1769.1,838.8L1770.1,838.6L1771.1,838.1L1772.1,837.5L1773.1,837.4L1774.1,837.9L1775.1,838.5L1776.1,838.8L1777.1,838.9L1778.1,838.7L1779.1,838.2L1780.1,837.9L1781.1,838.3L1782.1,838.7L1783.1,839.0L1784.1,839.0L1785.1,838.9L1786.1,838.5L1787.1,838.1L1788.1,838.2L1789.1,838.7L1790.1,838.9L1791.1,838.7L1792.1,838.3L1793.1,837.9L1794.1,837.8L1795.2,838.1L1796.2,838.6L1797.2,838.8L1798.2,838.6L1799.2,838.2L1800.2,837.7L1801.2,837.5L1802.2,837.8L1803.2,838.2L1804.2,838.5L1805.2,838.4L1806.2,838.2L1807.2,838.3L1808.2,838.7L1809.2,838.9L1810.2,838.8L1811.2,838.4L1812.2,837.8L1813.2,837.2L1814.2,837.1L1815.2,837.4L1816.2,837.8L1817.2,837.5L1818.2,837.3L1819.2,837.9L1820.2,838.4L1821.2,838.0L1822.2,837.4L1823.2,837.3L1824.2,837.8L1825.2,838.3L1826.2,838.2L1827.2,837.9L1828.2,838.2L1829.2,838.7L1830.2,838.8L1831.2,838.5L1832.2,838.3L1833.2,838.4L1834.2,838.7" fill="none" stroke="#10ee10" stroke-width="3.4" stroke-linejoin="round" clip-path="url(#clc11)"/>
<line x1="1595.6" y1="165.4" x2="1595.6" y2="104.0" stroke="#000" stroke-width="2.8" stroke-dasharray="17.5 17.5"/>
<line x1="1595.6" y1="226.8" x2="1595.6" y2="165.4" stroke="#000" stroke-width="2.8" stroke-dasharray="17.5 17.5"/>
<line x1="1595.6" y1="288.1" x2="1595.6" y2="226.8" stroke="#000" stroke-width="2.8" stroke-dasharray="17.5 17.5"/>
<line x1="1595.6" y1="349.5" x2="1595.6" y2="288.1" stroke="#000" stroke-width="2.8" stroke-dasharray="17.5 17.5"/>
<line x1="1595.6" y1="410.9" x2="1595.6" y2="349.5" stroke="#000" stroke-width="2.8" stroke-dasharray="17.5 17.5"/>
<line x1="1595.6" y1="472.3" x2="1595.6" y2="410.9" stroke="#000" stroke-width="2.8" stroke-dasharray="17.5 17.5"/>
<line x1="1595.6" y1="533.7" x2="1595.6" y2="472.3" stroke="#000" stroke-width="2.8" stroke-dasharray="17.5 17.5"/>
<line x1="1595.6" y1="595.1" x2="1595.6" y2="533.7" stroke="#000" stroke-width="2.8" stroke-dasharray="17.5 17.5"/>
<line x1="1595.6" y1="656.5" x2="1595.6" y2="595.1" stroke="#000" stroke-width="2.8" stroke-dasharray="17.5 17.5"/>
<line x1="1595.6" y1="717.8" x2="1595.6" y2="656.5" stroke="#000" stroke-width="2.8" stroke-dasharray="17.5 17.5"/>
<line x1="1595.6" y1="779.2" x2="1595.6" y2="717.8" stroke="#000" stroke-width="2.8" stroke-dasharray="17.5 17.5"/>
<line x1="1595.6" y1="840.6" x2="1595.6" y2="779.2" stroke="#000" stroke-width="2.8" stroke-dasharray="17.5 17.5"/>
<path d="M1403.4,165.4v-7.2 M1451.4,165.4v-7.2 M1499.5,165.4v-7.2 M1547.5,165.4v-7.2 M1595.6,165.4v-7.2 M1643.6,165.4v-7.2 M1691.7,165.4v-7.2 M1739.8,165.4v-7.2 M1787.8,165.4v-7.2 M1403.4,226.8v-7.2 M1451.4,226.8v-7.2 M1499.5,226.8v-7.2 M1547.5,226.8v-7.2 M1595.6,226.8v-7.2 M1643.6,226.8v-7.2 M1691.7,226.8v-7.2 M1739.8,226.8v-7.2 M1787.8,226.8v-7.2 M1403.4,288.1v-7.2 M1451.4,288.1v-7.2 M1499.5,288.1v-7.2 M1547.5,288.1v-7.2 M1595.6,288.1v-7.2 M1643.6,288.1v-7.2 M1691.7,288.1v-7.2 M1739.8,288.1v-7.2 M1787.8,288.1v-7.2 M1403.4,349.5v-7.2 M1451.4,349.5v-7.2 M1499.5,349.5v-7.2 M1547.5,349.5v-7.2 M1595.6,349.5v-7.2 M1643.6,349.5v-7.2 M1691.7,349.5v-7.2 M1739.8,349.5v-7.2 M1787.8,349.5v-7.2 M1403.4,410.9v-7.2 M1451.4,410.9v-7.2 M1499.5,410.9v-7.2 M1547.5,410.9v-7.2 M1595.6,410.9v-7.2 M1643.6,410.9v-7.2 M1691.7,410.9v-7.2 M1739.8,410.9v-7.2 M1787.8,410.9v-7.2 M1403.4,472.3v-7.2 M1451.4,472.3v-7.2 M1499.5,472.3v-7.2 M1547.5,472.3v-7.2 M1595.6,472.3v-7.2 M1643.6,472.3v-7.2 M1691.7,472.3v-7.2 M1739.8,472.3v-7.2 M1787.8,472.3v-7.2 M1403.4,533.7v-7.2 M1451.4,533.7v-7.2 M1499.5,533.7v-7.2 M1547.5,533.7v-7.2 M1595.6,533.7v-7.2 M1643.6,533.7v-7.2 M1691.7,533.7v-7.2 M1739.8,533.7v-7.2 M1787.8,533.7v-7.2 M1403.4,595.1v-7.2 M1451.4,595.1v-7.2 M1499.5,595.1v-7.2 M1547.5,595.1v-7.2 M1595.6,595.1v-7.2 M1643.6,595.1v-7.2 M1691.7,595.1v-7.2 M1739.8,595.1v-7.2 M1787.8,595.1v-7.2 M1403.4,656.5v-7.2 M1451.4,656.5v-7.2 M1499.5,656.5v-7.2 M1547.5,656.5v-7.2 M1595.6,656.5v-7.2 M1643.6,656.5v-7.2 M1691.7,656.5v-7.2 M1739.8,656.5v-7.2 M1787.8,656.5v-7.2 M1403.4,717.8v-7.2 M1451.4,717.8v-7.2 M1499.5,717.8v-7.2 M1547.5,717.8v-7.2 M1595.6,717.8v-7.2 M1643.6,717.8v-7.2 M1691.7,717.8v-7.2 M1739.8,717.8v-7.2 M1787.8,717.8v-7.2 M1403.4,779.2v-7.2 M1451.4,779.2v-7.2 M1499.5,779.2v-7.2 M1547.5,779.2v-7.2 M1595.6,779.2v-7.2 M1643.6,779.2v-7.2 M1691.7,779.2v-7.2 M1739.8,779.2v-7.2 M1787.8,779.2v-7.2 M1403.4,840.6v-7.2 M1451.4,840.6v-7.2 M1499.5,840.6v-7.2 M1547.5,840.6v-7.2 M1595.6,840.6v-7.2 M1643.6,840.6v-7.2 M1691.7,840.6v-7.2 M1739.8,840.6v-7.2 M1787.8,840.6v-7.2 M1403.4,104.0v7.5 M1451.4,104.0v7.5 M1499.5,104.0v7.5 M1547.5,104.0v7.5 M1595.6,104.0v7.5 M1643.6,104.0v7.5 M1691.7,104.0v7.5 M1739.8,104.0v7.5 M1787.8,104.0v7.5" stroke="#000" stroke-width="4.6" fill="none"/>
<path d="M1379.4,165.4v-4.4 M1427.4,165.4v-4.4 M1475.5,165.4v-4.4 M1523.5,165.4v-4.4 M1571.6,165.4v-4.4 M1619.6,165.4v-4.4 M1667.7,165.4v-4.4 M1715.7,165.4v-4.4 M1763.8,165.4v-4.4 M1811.8,165.4v-4.4 M1379.4,226.8v-4.4 M1427.4,226.8v-4.4 M1475.5,226.8v-4.4 M1523.5,226.8v-4.4 M1571.6,226.8v-4.4 M1619.6,226.8v-4.4 M1667.7,226.8v-4.4 M1715.7,226.8v-4.4 M1763.8,226.8v-4.4 M1811.8,226.8v-4.4 M1379.4,288.1v-4.4 M1427.4,288.1v-4.4 M1475.5,288.1v-4.4 M1523.5,288.1v-4.4 M1571.6,288.1v-4.4 M1619.6,288.1v-4.4 M1667.7,288.1v-4.4 M1715.7,288.1v-4.4 M1763.8,288.1v-4.4 M1811.8,288.1v-4.4 M1379.4,349.5v-4.4 M1427.4,349.5v-4.4 M1475.5,349.5v-4.4 M1523.5,349.5v-4.4 M1571.6,349.5v-4.4 M1619.6,349.5v-4.4 M1667.7,349.5v-4.4 M1715.7,349.5v-4.4 M1763.8,349.5v-4.4 M1811.8,349.5v-4.4 M1379.4,410.9v-4.4 M1427.4,410.9v-4.4 M1475.5,410.9v-4.4 M1523.5,410.9v-4.4 M1571.6,410.9v-4.4 M1619.6,410.9v-4.4 M1667.7,410.9v-4.4 M1715.7,410.9v-4.4 M1763.8,410.9v-4.4 M1811.8,410.9v-4.4 M1379.4,472.3v-4.4 M1427.4,472.3v-4.4 M1475.5,472.3v-4.4 M1523.5,472.3v-4.4 M1571.6,472.3v-4.4 M1619.6,472.3v-4.4 M1667.7,472.3v-4.4 M1715.7,472.3v-4.4 M1763.8,472.3v-4.4 M1811.8,472.3v-4.4 M1379.4,533.7v-4.4 M1427.4,533.7v-4.4 M1475.5,533.7v-4.4 M1523.5,533.7v-4.4 M1571.6,533.7v-4.4 M1619.6,533.7v-4.4 M1667.7,533.7v-4.4 M1715.7,533.7v-4.4 M1763.8,533.7v-4.4 M1811.8,533.7v-4.4 M1379.4,595.1v-4.4 M1427.4,595.1v-4.4 M1475.5,595.1v-4.4 M1523.5,595.1v-4.4 M1571.6,595.1v-4.4 M1619.6,595.1v-4.4 M1667.7,595.1v-4.4 M1715.7,595.1v-4.4 M1763.8,595.1v-4.4 M1811.8,595.1v-4.4 M1379.4,656.5v-4.4 M1427.4,656.5v-4.4 M1475.5,656.5v-4.4 M1523.5,656.5v-4.4 M1571.6,656.5v-4.4 M1619.6,656.5v-4.4 M1667.7,656.5v-4.4 M1715.7,656.5v-4.4 M1763.8,656.5v-4.4 M1811.8,656.5v-4.4 M1379.4,717.8v-4.4 M1427.4,717.8v-4.4 M1475.5,717.8v-4.4 M1523.5,717.8v-4.4 M1571.6,717.8v-4.4 M1619.6,717.8v-4.4 M1667.7,717.8v-4.4 M1715.7,717.8v-4.4 M1763.8,717.8v-4.4 M1811.8,717.8v-4.4 M1379.4,779.2v-4.4 M1427.4,779.2v-4.4 M1475.5,779.2v-4.4 M1523.5,779.2v-4.4 M1571.6,779.2v-4.4 M1619.6,779.2v-4.4 M1667.7,779.2v-4.4 M1715.7,779.2v-4.4 M1763.8,779.2v-4.4 M1811.8,779.2v-4.4 M1379.4,840.6v-4.4 M1427.4,840.6v-4.4 M1475.5,840.6v-4.4 M1523.5,840.6v-4.4 M1571.6,840.6v-4.4 M1619.6,840.6v-4.4 M1667.7,840.6v-4.4 M1715.7,840.6v-4.4 M1763.8,840.6v-4.4 M1811.8,840.6v-4.4 M1379.4,104.0v4.6 M1427.4,104.0v4.6 M1475.5,104.0v4.6 M1523.5,104.0v4.6 M1571.6,104.0v4.6 M1619.6,104.0v4.6 M1667.7,104.0v4.6 M1715.7,104.0v4.6 M1763.8,104.0v4.6 M1811.8,104.0v4.6" stroke="#000" stroke-width="4.4" fill="none"/>
<path d="M1355.1,154.8h5.0 M1355.1,144.3h9.5 M1355.1,133.7h5.0 M1355.1,123.2h9.5 M1355.1,112.6h5.0 M1355.1,216.2h5.0 M1355.1,205.7h9.5 M1355.1,195.1h5.0 M1355.1,184.6h9.5 M1355.1,174.0h5.0 M1355.1,277.6h5.0 M1355.1,267.0h9.5 M1355.1,256.5h5.0 M1355.1,245.9h9.5 M1355.1,235.4h5.0 M1355.1,339.0h5.0 M1355.1,328.4h9.5 M1355.1,317.9h5.0 M1355.1,307.3h9.5 M1355.1,296.8h5.0 M1355.1,400.4h5.0 M1355.1,389.8h9.5 M1355.1,379.3h5.0 M1355.1,368.7h9.5 M1355.1,358.2h5.0 M1355.1,461.8h5.0 M1355.1,451.2h9.5 M1355.1,440.7h5.0 M1355.1,430.1h9.5 M1355.1,419.6h5.0 M1355.1,523.1h5.0 M1355.1,512.6h9.5 M1355.1,502.0h5.0 M1355.1,491.5h9.5 M1355.1,480.9h5.0 M1355.1,584.5h5.0 M1355.1,574.0h9.5 M1355.1,563.4h5.0 M1355.1,552.9h9.5 M1355.1,542.3h5.0 M1355.1,645.9h5.0 M1355.1,635.4h9.5 M1355.1,624.8h5.0 M1355.1,614.2h9.5 M1355.1,603.7h5.0 M1355.1,707.3h5.0 M1355.1,696.7h9.5 M1355.1,686.2h5.0 M1355.1,675.6h9.5 M1355.1,665.1h5.0 M1355.1,768.7h5.0 M1355.1,758.1h9.5 M1355.1,747.6h5.0 M1355.1,737.0h9.5 M1355.1,726.5h5.0 M1355.1,830.1h5.0 M1355.1,819.5h9.5 M1355.1,809.0h5.0 M1355.1,798.4h9.5 M1355.1,787.9h5.0" stroke="#000" stroke-width="3.6" fill="none"/>
<line x1="1609.0" y1="126.0" x2="1665.0" y2="126.0" stroke="#1c1ca6" stroke-width="2.8"/>
<text font-size="28" letter-spacing="0.6" transform="translate(1672.0 134.3) scale(1 1.08)"><tspan fill="#1010ff">N</tspan><tspan fill="#000">-p</tspan><tspan font-size="19" dy="6.5" dx="1" fill="#000">z</tspan></text>
<line x1="1609.0" y1="186.9" x2="1665.0" y2="186.9" stroke="#2a9d9d" stroke-width="2.8"/>
<text font-size="28" letter-spacing="0.6" transform="translate(1672.0 195.2) scale(1 1.08)"><tspan fill="#1010ff">N</tspan><tspan fill="#000">-p</tspan><tspan font-size="19" dy="6.5" dx="1" fill="#000">y</tspan></text>
<line x1="1609.0" y1="248.1" x2="1665.0" y2="248.1" stroke="#1f8f1f" stroke-width="2.8"/>
<text font-size="28" letter-spacing="0.6" transform="translate(1672.0 256.4) scale(1 1.08)"><tspan fill="#1010ff">N</tspan><tspan fill="#000">-p</tspan><tspan font-size="19" dy="6.5" dx="1" fill="#000">x</tspan></text>
<line x1="1609.0" y1="309.9" x2="1665.0" y2="309.9" stroke="#9a1010" stroke-width="2.8"/>
<text font-size="28" letter-spacing="0.6" transform="translate(1672.0 318.2) scale(1 1.08)"><tspan fill="#1010ff">N</tspan><tspan fill="#000">-s</tspan></text>
<line x1="1609.0" y1="370.5" x2="1665.0" y2="370.5" stroke="#9a1a9a" stroke-width="2.8"/>
<text font-size="28" letter-spacing="0.6" transform="translate(1672.0 378.8) scale(1 1.08)"><tspan fill="#ff1010">O</tspan><tspan fill="#000">-p</tspan><tspan font-size="19" dy="6.5" dx="1" fill="#000">z</tspan></text>
<line x1="1609.0" y1="432.7" x2="1665.0" y2="432.7" stroke="#10108a" stroke-width="2.8"/>
<text font-size="28" letter-spacing="0.6" transform="translate(1672.0 441.0) scale(1 1.08)"><tspan fill="#ff1010">O</tspan><tspan fill="#000">-p</tspan><tspan font-size="19" dy="6.5" dx="1" fill="#000">y</tspan></text>
<line x1="1609.0" y1="492.9" x2="1665.0" y2="492.9" stroke="#87871a" stroke-width="2.8"/>
<text font-size="28" letter-spacing="0.6" transform="translate(1672.0 501.2) scale(1 1.08)"><tspan fill="#ff1010">O</tspan><tspan fill="#000">-p</tspan><tspan font-size="19" dy="6.5" dx="1" fill="#000">x</tspan></text>
<line x1="1609.0" y1="554.7" x2="1665.0" y2="554.7" stroke="#ffff00" stroke-width="2.8"/>
<text font-size="28" letter-spacing="0.6" transform="translate(1672.0 563.0) scale(1 1.08)"><tspan fill="#ff1010">O</tspan><tspan fill="#000">-s</tspan></text>
<line x1="1609.0" y1="616.3" x2="1665.0" y2="616.3" stroke="#ff00ff" stroke-width="2.8"/>
<text font-size="28" letter-spacing="0.6" transform="translate(1672.0 624.6) scale(1 1.08)"><tspan fill="#ff8c1e">P</tspan><tspan fill="#000">-p</tspan><tspan font-size="19" dy="6.5" dx="1" fill="#000">z</tspan></text>
<line x1="1609.0" y1="677.5" x2="1665.0" y2="677.5" stroke="#22f0f0" stroke-width="2.8"/>
<text font-size="28" letter-spacing="0.6" transform="translate(1672.0 685.8) scale(1 1.08)"><tspan fill="#ff8c1e">P</tspan><tspan fill="#000">-p</tspan><tspan font-size="19" dy="6.5" dx="1" fill="#000">y</tspan></text>
<line x1="1609.0" y1="738.9" x2="1665.0" y2="738.9" stroke="#1010ff" stroke-width="2.8"/>
<text font-size="28" letter-spacing="0.6" transform="translate(1672.0 747.2) scale(1 1.08)"><tspan fill="#ff8c1e">P</tspan><tspan fill="#000">-p</tspan><tspan font-size="19" dy="6.5" dx="1" fill="#000">x</tspan></text>
<line x1="1609.0" y1="800.2" x2="1665.0" y2="800.2" stroke="#10ee10" stroke-width="2.8"/>
<text font-size="28" letter-spacing="0.6" transform="translate(1672.0 808.5) scale(1 1.08)"><tspan fill="#ff8c1e">P</tspan><tspan fill="#000">-s</tspan></text>
<text font-size="32" text-anchor="middle" transform="translate(1354.8 87.6) scale(0.99 1)">-5</text>
<text font-size="32" text-anchor="middle" transform="translate(1354.8 872.9) scale(0.99 1)">-5</text>
<text font-size="32" text-anchor="middle" transform="translate(1402.9 87.6) scale(0.99 1)">-4</text>
<text font-size="32" text-anchor="middle" transform="translate(1402.9 872.9) scale(0.99 1)">-4</text>
<text font-size="32" text-anchor="middle" transform="translate(1450.9 87.6) scale(0.99 1)">-3</text>
<text font-size="32" text-anchor="middle" transform="translate(1450.9 872.9) scale(0.99 1)">-3</text>
<text font-size="32" text-anchor="middle" transform="translate(1499.0 87.6) scale(0.99 1)">-2</text>
<text font-size="32" text-anchor="middle" transform="translate(1499.0 872.9) scale(0.99 1)">-2</text>
<text font-size="32" text-anchor="middle" transform="translate(1547.0 87.6) scale(0.99 1)">-1</text>
<text font-size="32" text-anchor="middle" transform="translate(1547.0 872.9) scale(0.99 1)">-1</text>
<text font-size="32" text-anchor="middle" transform="translate(1595.1 87.6) scale(0.99 1)">0</text>
<text font-size="32" text-anchor="middle" transform="translate(1595.1 872.9) scale(0.99 1)">0</text>
<text font-size="32" text-anchor="middle" transform="translate(1643.1 87.6) scale(0.99 1)">1</text>
<text font-size="32" text-anchor="middle" transform="translate(1643.1 872.9) scale(0.99 1)">1</text>
<text font-size="32" text-anchor="middle" transform="translate(1691.2 87.6) scale(0.99 1)">2</text>
<text font-size="32" text-anchor="middle" transform="translate(1691.2 872.9) scale(0.99 1)">2</text>
<text font-size="32" text-anchor="middle" transform="translate(1739.2 87.6) scale(0.99 1)">3</text>
<text font-size="32" text-anchor="middle" transform="translate(1739.2 872.9) scale(0.99 1)">3</text>
<text font-size="32" text-anchor="middle" transform="translate(1787.3 87.6) scale(0.99 1)">4</text>
<text font-size="32" text-anchor="middle" transform="translate(1787.3 872.9) scale(0.99 1)">4</text>
<text font-size="32" text-anchor="middle" transform="translate(1835.3 87.6) scale(0.99 1)">5</text>
<text font-size="32" text-anchor="middle" transform="translate(1835.3 872.9) scale(0.99 1)">5</text>
<text x="1345.1" y="174.4" font-size="30" font-weight="normal" stroke="#000" stroke-width="0.55" text-anchor="end">0.00</text>
<text x="1345.1" y="153.3" font-size="30" font-weight="normal" stroke="#000" stroke-width="0.55" text-anchor="end">0.27</text>
<text x="1345.1" y="132.2" font-size="30" font-weight="normal" stroke="#000" stroke-width="0.55" text-anchor="end">0.54</text>
<text x="1345.1" y="235.8" font-size="30" font-weight="normal" stroke="#000" stroke-width="0.55" text-anchor="end">0.00</text>
<text x="1345.1" y="214.7" font-size="30" font-weight="normal" stroke="#000" stroke-width="0.55" text-anchor="end">0.27</text>
<text x="1345.1" y="193.6" font-size="30" font-weight="normal" stroke="#000" stroke-width="0.55" text-anchor="end">0.54</text>
<text x="1345.1" y="297.1" font-size="30" font-weight="normal" stroke="#000" stroke-width="0.55" text-anchor="end">0.00</text>
<text x="1345.1" y="276.0" font-size="30" font-weight="normal" stroke="#000" stroke-width="0.55" text-anchor="end">0.27</text>
<text x="1345.1" y="254.9" font-size="30" font-weight="normal" stroke="#000" stroke-width="0.55" text-anchor="end">0.54</text>
<text x="1345.1" y="358.5" font-size="30" font-weight="normal" stroke="#000" stroke-width="0.55" text-anchor="end">0.00</text>
<text x="1345.1" y="337.4" font-size="30" font-weight="normal" stroke="#000" stroke-width="0.55" text-anchor="end">0.27</text>
<text x="1345.1" y="316.3" font-size="30" font-weight="normal" stroke="#000" stroke-width="0.55" text-anchor="end">0.54</text>
<text x="1345.1" y="419.9" font-size="30" font-weight="normal" stroke="#000" stroke-width="0.55" text-anchor="end">0.00</text>
<text x="1345.1" y="398.8" font-size="30" font-weight="normal" stroke="#000" stroke-width="0.55" text-anchor="end">0.27</text>
<text x="1345.1" y="377.7" font-size="30" font-weight="normal" stroke="#000" stroke-width="0.55" text-anchor="end">0.54</text>
<text x="1345.1" y="481.3" font-size="30" font-weight="normal" stroke="#000" stroke-width="0.55" text-anchor="end">0.00</text>
<text x="1345.1" y="460.2" font-size="30" font-weight="normal" stroke="#000" stroke-width="0.55" text-anchor="end">0.27</text>
<text x="1345.1" y="439.1" font-size="30" font-weight="normal" stroke="#000" stroke-width="0.55" text-anchor="end">0.54</text>
<text x="1345.1" y="542.7" font-size="30" font-weight="normal" stroke="#000" stroke-width="0.55" text-anchor="end">0.00</text>
<text x="1345.1" y="521.6" font-size="30" font-weight="normal" stroke="#000" stroke-width="0.55" text-anchor="end">0.27</text>
<text x="1345.1" y="500.5" font-size="30" font-weight="normal" stroke="#000" stroke-width="0.55" text-anchor="end">0.54</text>
<text x="1345.1" y="604.1" font-size="30" font-weight="normal" stroke="#000" stroke-width="0.55" text-anchor="end">0.00</text>
<text x="1345.1" y="583.0" font-size="30" font-weight="normal" stroke="#000" stroke-width="0.55" text-anchor="end">0.27</text>
<text x="1345.1" y="561.9" font-size="30" font-weight="normal" stroke="#000" stroke-width="0.55" text-anchor="end">0.54</text>
<text x="1345.1" y="665.5" font-size="30" font-weight="normal" stroke="#000" stroke-width="0.55" text-anchor="end">0.00</text>
<text x="1345.1" y="644.4" font-size="30" font-weight="normal" stroke="#000" stroke-width="0.55" text-anchor="end">0.27</text>
<text x="1345.1" y="623.2" font-size="30" font-weight="normal" stroke="#000" stroke-width="0.55" text-anchor="end">0.54</text>
<text x="1345.1" y="726.8" font-size="30" font-weight="normal" stroke="#000" stroke-width="0.55" text-anchor="end">0.00</text>
<text x="1345.1" y="705.7" font-size="30" font-weight="normal" stroke="#000" stroke-width="0.55" text-anchor="end">0.27</text>
<text x="1345.1" y="684.6" font-size="30" font-weight="normal" stroke="#000" stroke-width="0.55" text-anchor="end">0.54</text>
<text x="1345.1" y="788.2" font-size="30" font-weight="normal" stroke="#000" stroke-width="0.55" text-anchor="end">0.00</text>
<text x="1345.1" y="767.1" font-size="30" font-weight="normal" stroke="#000" stroke-width="0.55" text-anchor="end">0.27</text>
<text x="1345.1" y="746.0" font-size="30" font-weight="normal" stroke="#000" stroke-width="0.55" text-anchor="end">0.54</text>
<text x="1345.1" y="849.6" font-size="30" font-weight="normal" stroke="#000" stroke-width="0.55" text-anchor="end">0.00</text>
<text x="1345.1" y="828.5" font-size="30" font-weight="normal" stroke="#000" stroke-width="0.55" text-anchor="end">0.27</text>
<text x="1345.1" y="807.4" font-size="30" font-weight="normal" stroke="#000" stroke-width="0.55" text-anchor="end">0.54</text>
<text x="1601.9" y="897.3" font-size="29.3" text-anchor="middle">Energy(eV)</text>
<defs>
<radialGradient id="gC" cx="0.45" cy="0.4" r="0.6"><stop offset="0" stop-color="#5a5c78"/><stop offset="0.6" stop-color="#2c2d46"/><stop offset="1" stop-color="#15152a"/></radialGradient>
<radialGradient id="gA" cx="0.45" cy="0.38" r="0.62"><stop offset="0" stop-color="#6a6e80"/><stop offset="0.55" stop-color="#353846"/><stop offset="1" stop-color="#1c1e28"/></radialGradient>
<radialGradient id="gO" cx="0.45" cy="0.38" r="0.62"><stop offset="0" stop-color="#c04050"/><stop offset="0.55" stop-color="#8c1020"/><stop offset="1" stop-color="#5a0810"/></radialGradient>
<radialGradient id="gN" cx="0.45" cy="0.38" r="0.62"><stop offset="0" stop-color="#8cc4f0"/><stop offset="0.55" stop-color="#3d8fd6"/><stop offset="1" stop-color="#2a6aa8"/></radialGradient>
<radialGradient id="gH" cx="0.45" cy="0.38" r="0.62"><stop offset="0" stop-color="#ffffff"/><stop offset="0.6" stop-color="#dfe2ea"/><stop offset="1" stop-color="#9aa0b0"/></radialGradient>
<radialGradient id="gSi" cx="0.45" cy="0.38" r="0.62"><stop offset="0" stop-color="#f4ece4"/><stop offset="0.6" stop-color="#c8b8a8"/><stop offset="1" stop-color="#8a7a70"/></radialGradient>
<radialGradient id="gP" cx="0.45" cy="0.38" r="0.62"><stop offset="0" stop-color="#c89040"/><stop offset="0.6" stop-color="#8a5a1a"/><stop offset="1" stop-color="#5a3a10"/></radialGradient>
</defs>
<rect x="212.0" y="936.5" width="247.5" height="193.5" rx="2.5" fill="#fffffd" stroke="#111" stroke-width="3.4"/>
<rect x="212.0" y="1139.5" width="247.5" height="230.5" rx="2.5" fill="#fffffd" stroke="#111" stroke-width="3.4"/>
<rect x="838.7" y="937.5" width="247.5" height="193.0" rx="2.5" fill="#fffffd" stroke="#111" stroke-width="3.4"/>
<rect x="838.7" y="1139.5" width="249.5" height="233.0" rx="2.5" fill="#fffffd" stroke="#111" stroke-width="3.4"/>
<rect x="1412.7" y="932.0" width="249.5" height="193.5" rx="2.5" fill="#fffffd" stroke="#111" stroke-width="3.4"/>
<rect x="1412.7" y="1135.5" width="254.5" height="233.0" rx="2.5" fill="#fffffd" stroke="#111" stroke-width="3.4"/>
<path d="M318.4,961.5L338.6,961.5 M318.4,961.5L307.9,985.7 M338.6,961.5L348.1,985.7 M287.8,985.7L307.9,985.7 M287.8,985.7L277.2,1010.0 M307.9,985.7L317.4,1010.0 M348.1,985.7L368.2,985.7 M348.1,985.7L337.6,1010.0 M368.2,985.7L377.8,1010.0 M257.1,1010.0L277.2,1010.0 M257.1,1010.0L246.5,1034.2 M277.2,1010.0L286.8,1034.2 M317.4,1010.0L337.6,1010.0 M317.4,1010.0L306.9,1034.2 M337.6,1010.0L347.1,1034.2 M377.8,1010.0L397.9,1010.0 M377.8,1010.0L367.2,1034.2 M397.9,1010.0L407.5,1034.2 M226.4,1034.2L246.5,1034.2 M246.5,1034.2L256.1,1058.4 M286.8,1034.2L306.9,1034.2 M286.8,1034.2L276.2,1058.4 M306.9,1034.2L316.4,1058.4 M347.1,1034.2L367.2,1034.2 M347.1,1034.2L336.6,1058.4 M367.2,1034.2L376.8,1058.4 M407.5,1034.2L427.6,1034.2 M407.5,1034.2L396.9,1058.4 M256.1,1058.4L276.2,1058.4 M276.2,1058.4L285.8,1082.7 M316.4,1058.4L336.6,1058.4 M316.4,1058.4L305.9,1082.7 M336.6,1058.4L346.1,1082.7 M376.8,1058.4L396.9,1058.4 M376.8,1058.4L366.2,1082.7 M285.8,1082.7L305.9,1082.7 M305.9,1082.7L315.4,1106.9 M346.1,1082.7L366.2,1082.7 M346.1,1082.7L335.6,1106.9 M315.4,1106.9L335.6,1106.9" stroke="#1c1c30" stroke-width="3.6" fill="none" stroke-linecap="round"/>
<ellipse cx="318.4" cy="961.5" rx="5.6" ry="7.0" fill="url(#gC)"/>
<ellipse cx="338.6" cy="961.5" rx="5.6" ry="7.0" fill="url(#gC)"/>
<ellipse cx="287.8" cy="985.7" rx="5.6" ry="7.0" fill="url(#gC)"/>
<ellipse cx="307.9" cy="985.7" rx="5.6" ry="7.0" fill="url(#gC)"/>
<ellipse cx="348.1" cy="985.7" rx="5.6" ry="7.0" fill="url(#gC)"/>
<ellipse cx="368.2" cy="985.7" rx="5.6" ry="7.0" fill="url(#gC)"/>
<ellipse cx="257.1" cy="1010.0" rx="5.6" ry="7.0" fill="url(#gC)"/>
<ellipse cx="277.2" cy="1010.0" rx="5.6" ry="7.0" fill="url(#gC)"/>
<ellipse cx="317.4" cy="1010.0" rx="5.6" ry="7.0" fill="url(#gC)"/>
<ellipse cx="337.6" cy="1010.0" rx="5.6" ry="7.0" fill="url(#gC)"/>
<ellipse cx="377.8" cy="1010.0" rx="5.6" ry="7.0" fill="url(#gC)"/>
<ellipse cx="397.9" cy="1010.0" rx="5.6" ry="7.0" fill="url(#gC)"/>
<ellipse cx="226.4" cy="1034.2" rx="5.6" ry="7.0" fill="url(#gC)"/>
<ellipse cx="246.5" cy="1034.2" rx="5.6" ry="7.0" fill="url(#gC)"/>
<ellipse cx="286.8" cy="1034.2" rx="5.6" ry="7.0" fill="url(#gC)"/>
<ellipse cx="306.9" cy="1034.2" rx="5.6" ry="7.0" fill="url(#gC)"/>
<ellipse cx="347.1" cy="1034.2" rx="5.6" ry="7.0" fill="url(#gC)"/>
<ellipse cx="347.1" cy="1035.2" rx="12.6" ry="12.5" fill="none" stroke="#8ed050" stroke-width="3.4" stroke-dasharray="13 6"/>
<ellipse cx="367.2" cy="1034.2" rx="5.6" ry="7.0" fill="url(#gC)"/>
<ellipse cx="407.5" cy="1034.2" rx="5.6" ry="7.0" fill="url(#gC)"/>
<ellipse cx="427.6" cy="1034.2" rx="5.6" ry="7.0" fill="url(#gC)"/>
<ellipse cx="256.1" cy="1058.4" rx="5.6" ry="7.0" fill="url(#gC)"/>
<ellipse cx="276.2" cy="1058.4" rx="5.6" ry="7.0" fill="url(#gC)"/>
<ellipse cx="316.4" cy="1058.4" rx="5.6" ry="7.0" fill="url(#gC)"/>
<ellipse cx="336.6" cy="1058.4" rx="5.6" ry="7.0" fill="url(#gC)"/>
<ellipse cx="376.8" cy="1058.4" rx="5.6" ry="7.0" fill="url(#gC)"/>
<ellipse cx="396.9" cy="1058.4" rx="5.6" ry="7.0" fill="url(#gC)"/>
<ellipse cx="285.8" cy="1082.7" rx="5.6" ry="7.0" fill="url(#gC)"/>
<ellipse cx="305.9" cy="1082.7" rx="5.6" ry="7.0" fill="url(#gC)"/>
<ellipse cx="346.1" cy="1082.7" rx="5.6" ry="7.0" fill="url(#gC)"/>
<ellipse cx="366.2" cy="1082.7" rx="5.6" ry="7.0" fill="url(#gC)"/>
<ellipse cx="315.4" cy="1106.9" rx="5.6" ry="7.0" fill="url(#gC)"/>
<ellipse cx="335.6" cy="1106.9" rx="5.6" ry="7.0" fill="url(#gC)"/>
<path d="M406.9,964.7 L359.4,1012.6 L354.8,1008.0 L354.7,1026.0 L372.7,1025.8 L368.1,1021.3 L415.7,973.3Z" fill="#7cc644"/>
<text x="413" y="972.5" font-size="35" fill="#7cc644">C</text>
<text x="437.5" y="963.5" font-size="22" fill="#6cb834">*</text>
<path d="M952.2,962.5L973.2,962.5 M952.2,962.5L941.1,984.6 M973.2,962.5L983.3,984.6 M920.0,984.6L941.1,984.6 M920.0,984.6L909.0,1006.7 M941.1,984.6L951.2,1006.7 M983.3,984.6L1004.4,984.6 M983.3,984.6L972.2,1006.7 M1004.4,984.6L1014.4,1006.7 M887.9,1006.7L909.0,1006.7 M887.9,1006.7L876.9,1028.8 M909.0,1006.7L919.0,1028.8 M951.2,1006.7L972.2,1006.7 M951.2,1006.7L940.1,1028.8 M972.2,1006.7L982.3,1028.8 M1014.4,1006.7L1035.5,1006.7 M1014.4,1006.7L1003.4,1028.8 M1035.5,1006.7L1045.5,1028.8 M855.8,1028.8L876.9,1028.8 M876.9,1028.8L886.9,1050.9 M919.0,1028.8L940.1,1028.8 M919.0,1028.8L908.0,1050.9 M940.1,1028.8L950.2,1050.9 M982.3,1028.8L1003.4,1028.8 M982.3,1028.8L971.2,1050.9 M1003.4,1028.8L1013.4,1050.9 M1045.5,1028.8L1066.6,1028.8 M1045.5,1028.8L1034.5,1050.9 M886.9,1050.9L908.0,1050.9 M908.0,1050.9L918.0,1073.0 M950.2,1050.9L971.2,1050.9 M950.2,1050.9L939.1,1073.0 M971.2,1050.9L981.3,1073.0 M1013.4,1050.9L1034.5,1050.9 M1013.4,1050.9L1002.4,1073.0 M918.0,1073.0L939.1,1073.0 M939.1,1073.0L949.2,1095.1 M981.3,1073.0L1002.4,1073.0 M981.3,1073.0L970.2,1095.1 M949.2,1095.1L970.2,1095.1" stroke="#1c1c30" stroke-width="3.6" fill="none" stroke-linecap="round"/>
<ellipse cx="952.2" cy="962.5" rx="5.6" ry="6.6" fill="url(#gC)"/>
<ellipse cx="973.2" cy="962.5" rx="5.6" ry="6.6" fill="url(#gC)"/>
<ellipse cx="920.0" cy="984.6" rx="5.6" ry="6.6" fill="url(#gC)"/>
<ellipse cx="941.1" cy="984.6" rx="5.6" ry="6.6" fill="url(#gC)"/>
<ellipse cx="983.3" cy="984.6" rx="5.6" ry="6.6" fill="url(#gC)"/>
<ellipse cx="1004.4" cy="984.6" rx="5.6" ry="6.6" fill="url(#gC)"/>
<ellipse cx="887.9" cy="1006.7" rx="5.6" ry="6.6" fill="url(#gC)"/>
<ellipse cx="909.0" cy="1006.7" rx="5.6" ry="6.6" fill="url(#gC)"/>
<ellipse cx="951.2" cy="1006.7" rx="5.6" ry="6.6" fill="url(#gC)"/>
<ellipse cx="972.2" cy="1006.7" rx="5.6" ry="6.6" fill="url(#gC)"/>
<ellipse cx="1014.4" cy="1006.7" rx="5.6" ry="6.6" fill="url(#gC)"/>
<ellipse cx="1035.5" cy="1006.7" rx="5.6" ry="6.6" fill="url(#gC)"/>
<ellipse cx="855.8" cy="1028.8" rx="5.6" ry="6.6" fill="url(#gC)"/>
<ellipse cx="876.9" cy="1028.8" rx="5.6" ry="6.6" fill="url(#gC)"/>
<ellipse cx="919.0" cy="1028.8" rx="5.6" ry="6.6" fill="url(#gC)"/>
<ellipse cx="940.1" cy="1028.8" rx="5.6" ry="6.6" fill="url(#gC)"/>
<ellipse cx="982.3" cy="1028.8" rx="7.6" ry="8.9" fill="url(#gSi)"/>
<ellipse cx="982.3" cy="1029.8" rx="14.6" ry="14.4" fill="none" stroke="#f4a0c8" stroke-width="3.4" stroke-dasharray="13 6"/>
<ellipse cx="1003.4" cy="1028.8" rx="5.6" ry="6.6" fill="url(#gC)"/>
<ellipse cx="1045.5" cy="1028.8" rx="5.6" ry="6.6" fill="url(#gC)"/>
<ellipse cx="1066.6" cy="1028.8" rx="5.6" ry="6.6" fill="url(#gC)"/>
<ellipse cx="886.9" cy="1050.9" rx="5.6" ry="6.6" fill="url(#gC)"/>
<ellipse cx="908.0" cy="1050.9" rx="5.6" ry="6.6" fill="url(#gC)"/>
<ellipse cx="950.2" cy="1050.9" rx="5.6" ry="6.6" fill="url(#gC)"/>
<ellipse cx="971.2" cy="1050.9" rx="5.6" ry="6.6" fill="url(#gC)"/>
<ellipse cx="1013.4" cy="1050.9" rx="5.6" ry="6.6" fill="url(#gC)"/>
<ellipse cx="1034.5" cy="1050.9" rx="5.6" ry="6.6" fill="url(#gC)"/>
<ellipse cx="918.0" cy="1073.0" rx="5.6" ry="6.6" fill="url(#gC)"/>
<ellipse cx="939.1" cy="1073.0" rx="5.6" ry="6.6" fill="url(#gC)"/>
<ellipse cx="981.3" cy="1073.0" rx="5.6" ry="6.6" fill="url(#gC)"/>
<ellipse cx="1002.4" cy="1073.0" rx="5.6" ry="6.6" fill="url(#gC)"/>
<ellipse cx="949.2" cy="1095.1" rx="5.6" ry="6.6" fill="url(#gC)"/>
<ellipse cx="970.2" cy="1095.1" rx="5.6" ry="6.6" fill="url(#gC)"/>
<path d="M1044.9,972.4 L1007.2,1002.1 L1004.5,998.6 L1002.8,1012.6 L1016.8,1014.3 L1014.1,1010.7 L1051.7,981.0Z" fill="#f48cbc"/>
<text x="1053" y="980" font-size="33" fill="#f07ab0">Si</text>
<path d="M1528.9,958.3L1551.3,958.3 M1528.9,958.3L1517.2,981.6 M1551.3,958.3L1562.0,981.6 M1494.7,981.6L1517.2,981.6 M1494.7,981.6L1483.0,1004.9 M1517.2,981.6L1527.9,1004.9 M1562.0,981.6L1584.5,981.6 M1562.0,981.6L1550.3,1004.9 M1584.5,981.6L1595.2,1004.9 M1460.6,1004.9L1483.0,1004.9 M1460.6,1004.9L1448.8,1028.2 M1483.0,1004.9L1493.7,1028.2 M1527.9,1004.9L1550.3,1004.9 M1527.9,1004.9L1516.2,1028.2 M1550.3,1004.9L1561.0,1028.2 M1595.2,1004.9L1617.6,1004.9 M1595.2,1004.9L1583.5,1028.2 M1617.6,1004.9L1628.4,1028.2 M1426.4,1028.2L1448.8,1028.2 M1448.8,1028.2L1459.6,1051.5 M1493.7,1028.2L1516.2,1028.2 M1493.7,1028.2L1482.0,1051.5 M1516.2,1028.2L1526.9,1051.5 M1561.0,1028.2L1583.5,1028.2 M1561.0,1028.2L1549.3,1051.5 M1583.5,1028.2L1594.2,1051.5 M1628.4,1028.2L1650.8,1028.2 M1628.4,1028.2L1616.6,1051.5 M1459.6,1051.5L1482.0,1051.5 M1482.0,1051.5L1492.7,1074.8 M1526.9,1051.5L1549.3,1051.5 M1526.9,1051.5L1515.2,1074.8 M1549.3,1051.5L1560.0,1074.8 M1594.2,1051.5L1616.6,1051.5 M1594.2,1051.5L1582.5,1074.8 M1492.7,1074.8L1515.2,1074.8 M1515.2,1074.8L1525.9,1098.1 M1560.0,1074.8L1582.5,1074.8 M1560.0,1074.8L1548.3,1098.1 M1525.9,1098.1L1548.3,1098.1" stroke="#1c1c30" stroke-width="3.6" fill="none" stroke-linecap="round"/>
<ellipse cx="1528.9" cy="958.3" rx="6.0" ry="7.0" fill="url(#gC)"/>
<ellipse cx="1551.3" cy="958.3" rx="6.0" ry="7.0" fill="url(#gC)"/>
<ellipse cx="1494.7" cy="981.6" rx="6.0" ry="7.0" fill="url(#gC)"/>
<ellipse cx="1517.2" cy="981.6" rx="6.0" ry="7.0" fill="url(#gC)"/>
<ellipse cx="1562.0" cy="981.6" rx="6.0" ry="7.0" fill="url(#gC)"/>
<ellipse cx="1584.5" cy="981.6" rx="6.0" ry="7.0" fill="url(#gC)"/>
<ellipse cx="1460.6" cy="1004.9" rx="6.0" ry="7.0" fill="url(#gC)"/>
<ellipse cx="1483.0" cy="1004.9" rx="6.0" ry="7.0" fill="url(#gC)"/>
<ellipse cx="1527.9" cy="1004.9" rx="6.0" ry="7.0" fill="url(#gC)"/>
<ellipse cx="1550.3" cy="1004.9" rx="6.0" ry="7.0" fill="url(#gC)"/>
<ellipse cx="1595.2" cy="1004.9" rx="6.0" ry="7.0" fill="url(#gC)"/>
<ellipse cx="1617.6" cy="1004.9" rx="6.0" ry="7.0" fill="url(#gC)"/>
<ellipse cx="1426.4" cy="1028.2" rx="6.0" ry="7.0" fill="url(#gC)"/>
<ellipse cx="1448.8" cy="1028.2" rx="6.0" ry="7.0" fill="url(#gC)"/>
<ellipse cx="1493.7" cy="1028.2" rx="6.0" ry="7.0" fill="url(#gC)"/>
<ellipse cx="1516.2" cy="1028.2" rx="6.0" ry="7.0" fill="url(#gC)"/>
<ellipse cx="1561.0" cy="1028.2" rx="7.8" ry="9.1" fill="url(#gP)"/>
<ellipse cx="1561.0" cy="1029.2" rx="14.8" ry="14.6" fill="none" stroke="#f8d040" stroke-width="3.4" stroke-dasharray="13 6"/>
<ellipse cx="1583.5" cy="1028.2" rx="6.0" ry="7.0" fill="url(#gC)"/>
<ellipse cx="1628.4" cy="1028.2" rx="6.0" ry="7.0" fill="url(#gC)"/>
<ellipse cx="1650.8" cy="1028.2" rx="6.0" ry="7.0" fill="url(#gC)"/>
<ellipse cx="1459.6" cy="1051.5" rx="6.0" ry="7.0" fill="url(#gC)"/>
<ellipse cx="1482.0" cy="1051.5" rx="6.0" ry="7.0" fill="url(#gC)"/>
<ellipse cx="1526.9" cy="1051.5" rx="6.0" ry="7.0" fill="url(#gC)"/>
<ellipse cx="1549.3" cy="1051.5" rx="6.0" ry="7.0" fill="url(#gC)"/>
<ellipse cx="1594.2" cy="1051.5" rx="6.0" ry="7.0" fill="url(#gC)"/>
<ellipse cx="1616.6" cy="1051.5" rx="6.0" ry="7.0" fill="url(#gC)"/>
<ellipse cx="1492.7" cy="1074.8" rx="6.0" ry="7.0" fill="url(#gC)"/>
<ellipse cx="1515.2" cy="1074.8" rx="6.0" ry="7.0" fill="url(#gC)"/>
<ellipse cx="1560.0" cy="1074.8" rx="6.0" ry="7.0" fill="url(#gC)"/>
<ellipse cx="1582.5" cy="1074.8" rx="6.0" ry="7.0" fill="url(#gC)"/>
<ellipse cx="1525.9" cy="1098.1" rx="6.0" ry="7.0" fill="url(#gC)"/>
<ellipse cx="1548.3" cy="1098.1" rx="6.0" ry="7.0" fill="url(#gC)"/>
<path d="M1619.3,959.1 L1578.2,1004.6 L1574.2,1000.9 L1575.2,1017.5 L1591.8,1016.8 L1587.8,1013.2 L1628.9,967.7Z" fill="#f08838"/>
<text x="1633" y="958.3" font-size="32.5" fill="#f08838">P</text>
<g transform="translate(0.0 0.0)">
<path d="M287.6,1170.7L305.9,1175.6" stroke="#d8dde8" stroke-width="5.5" stroke-linecap="round"/>
<path d="M305.9,1175.6L324.2,1180.4" stroke="#3d8fd6" stroke-width="5.5" stroke-linecap="round"/>
<path d="M324.2,1180.4L324.5,1208.0" stroke="#3d8fd6" stroke-width="7.0" stroke-linecap="round"/>
<path d="M324.5,1208.0L324.9,1235.5" stroke="#2e3140" stroke-width="7.0" stroke-linecap="round"/>
<path d="M282.1,1249.3L266.6,1235.8" stroke="#2e3140" stroke-width="7.0" stroke-linecap="round"/>
<path d="M266.6,1235.8L251.0,1222.4" stroke="#8a1020" stroke-width="7.0" stroke-linecap="round"/>
<path d="M282.1,1249.3L303.5,1242.4" stroke="#2e3140" stroke-width="8.0" stroke-linecap="round"/>
<path d="M303.5,1242.4L324.9,1235.5" stroke="#2e3140" stroke-width="8.0" stroke-linecap="round"/>
<path d="M324.9,1235.5L351.8,1242.4" stroke="#2e3140" stroke-width="8.0" stroke-linecap="round"/>
<path d="M351.8,1242.4L378.7,1249.3" stroke="#2e3140" stroke-width="8.0" stroke-linecap="round"/>
<path d="M282.1,1249.3L281.4,1275.2" stroke="#2e3140" stroke-width="7.0" stroke-linecap="round"/>
<path d="M281.4,1275.2L280.7,1301.1" stroke="#8a1020" stroke-width="7.0" stroke-linecap="round"/>
<path d="M280.7,1301.1L267.9,1305.5" stroke="#8a1020" stroke-width="5.0" stroke-linecap="round"/>
<path d="M267.9,1305.5L255.2,1310.0" stroke="#d8dde8" stroke-width="5.0" stroke-linecap="round"/>
<path d="M378.7,1249.3L384.9,1276.9" stroke="#2e3140" stroke-width="8.0" stroke-linecap="round"/>
<path d="M384.9,1276.9L391.1,1304.5" stroke="#2e3140" stroke-width="8.0" stroke-linecap="round"/>
<path d="M380.0,1227.3L375.9,1216.2" stroke="#2e3140" stroke-width="8.0" stroke-linecap="round"/>
<path d="M375.9,1216.2L371.8,1205.2" stroke="#2e3140" stroke-width="8.0" stroke-linecap="round"/>
<path d="M380.0,1227.3L399.7,1228.7" stroke="#2e3140" stroke-width="6.0" stroke-linecap="round"/>
<path d="M399.7,1228.7L419.4,1230.0" stroke="#d8dde8" stroke-width="6.0" stroke-linecap="round"/>
<path d="M391.1,1304.5L410.1,1306.6" stroke="#2e3140" stroke-width="6.0" stroke-linecap="round"/>
<path d="M410.1,1306.6L429.0,1308.7" stroke="#d8dde8" stroke-width="6.0" stroke-linecap="round"/>
<path d="M391.1,1304.5L379.7,1314.5" stroke="#2e3140" stroke-width="6.0" stroke-linecap="round"/>
<path d="M379.7,1314.5L368.3,1324.5" stroke="#d8dde8" stroke-width="6.0" stroke-linecap="round"/>
<path d="M324.9,1235.5L323.5,1247.2" stroke="#2e3140" stroke-width="5.0" stroke-linecap="round"/>
<path d="M323.5,1247.2L322.1,1259.0" stroke="#d8dde8" stroke-width="5.0" stroke-linecap="round"/>
<circle cx="287.6" cy="1170.7" r="6.0" fill="url(#gH)"/>
<circle cx="380.0" cy="1227.3" r="13.6" fill="url(#gA)"/>
<circle cx="324.2" cy="1180.4" r="12.8" fill="url(#gN)"/>
<circle cx="251.0" cy="1222.4" r="13.6" fill="url(#gO)"/>
<circle cx="322.1" cy="1259.0" r="5.0" fill="url(#gH)"/>
<circle cx="324.9" cy="1235.5" r="14.3" fill="url(#gA)"/>
<circle cx="282.1" cy="1249.3" r="14.3" fill="url(#gA)"/>
<circle cx="255.2" cy="1310.0" r="4.6" fill="url(#gH)"/>
<circle cx="280.7" cy="1301.1" r="13.6" fill="url(#gO)"/>
<circle cx="419.4" cy="1230.0" r="6.0" fill="url(#gH)"/>
<circle cx="378.7" cy="1249.3" r="13.6" fill="url(#gA)"/>
<circle cx="359.4" cy="1250.7" r="6.0" fill="url(#gH)"/>
<circle cx="383.5" cy="1320.4" r="4.6" fill="url(#gH)"/>
<circle cx="391.1" cy="1304.5" r="14.3" fill="url(#gA)"/>
<circle cx="429.0" cy="1308.7" r="6.0" fill="url(#gH)"/>
<circle cx="368.3" cy="1324.5" r="6.0" fill="url(#gH)"/>
<path d="M421.8,1194.6 L355.9,1180.6 L357.1,1175.0 L342.1,1183.1 L352.5,1196.5 L353.7,1190.9 L419.6,1204.8Z" fill="#a8c6e6" stroke="#4f86c0" stroke-width="2.2" stroke-linejoin="miter"/>
<path d="M247.2,1324.6 L253.4,1259.3 L259.3,1259.9 L248.3,1243.8 L234.4,1257.6 L240.4,1258.1 L234.2,1323.4Z" fill="#ff0a0a"/>
<text x="430" y="1212.5" font-size="32" fill="#4a7cb8">N</text>
<text x="226" y="1360.5" font-size="32" fill="#ff1010">O</text>
</g>
<g transform="translate(628.0 6.0)">
<path d="M287.6,1170.7L305.9,1175.6" stroke="#d8dde8" stroke-width="5.5" stroke-linecap="round"/>
<path d="M305.9,1175.6L324.2,1180.4" stroke="#3d8fd6" stroke-width="5.5" stroke-linecap="round"/>
<path d="M324.2,1180.4L324.5,1208.0" stroke="#3d8fd6" stroke-width="7.0" stroke-linecap="round"/>
<path d="M324.5,1208.0L324.9,1235.5" stroke="#2e3140" stroke-width="7.0" stroke-linecap="round"/>
<path d="M282.1,1249.3L266.6,1235.8" stroke="#2e3140" stroke-width="7.0" stroke-linecap="round"/>
<path d="M266.6,1235.8L251.0,1222.4" stroke="#8a1020" stroke-width="7.0" stroke-linecap="round"/>
<path d="M282.1,1249.3L303.5,1242.4" stroke="#2e3140" stroke-width="8.0" stroke-linecap="round"/>
<path d="M303.5,1242.4L324.9,1235.5" stroke="#2e3140" stroke-width="8.0" stroke-linecap="round"/>
<path d="M324.9,1235.5L351.8,1242.4" stroke="#2e3140" stroke-width="8.0" stroke-linecap="round"/>
<path d="M351.8,1242.4L378.7,1249.3" stroke="#2e3140" stroke-width="8.0" stroke-linecap="round"/>
<path d="M282.1,1249.3L281.4,1275.2" stroke="#2e3140" stroke-width="7.0" stroke-linecap="round"/>
<path d="M281.4,1275.2L280.7,1301.1" stroke="#8a1020" stroke-width="7.0" stroke-linecap="round"/>
<path d="M280.7,1301.1L267.9,1305.5" stroke="#8a1020" stroke-width="5.0" stroke-linecap="round"/>
<path d="M267.9,1305.5L255.2,1310.0" stroke="#d8dde8" stroke-width="5.0" stroke-linecap="round"/>
<path d="M378.7,1249.3L384.9,1276.9" stroke="#2e3140" stroke-width="8.0" stroke-linecap="round"/>
<path d="M384.9,1276.9L391.1,1304.5" stroke="#2e3140" stroke-width="8.0" stroke-linecap="round"/>
<path d="M380.0,1227.3L375.9,1216.2" stroke="#2e3140" stroke-width="8.0" stroke-linecap="round"/>
<path d="M375.9,1216.2L371.8,1205.2" stroke="#2e3140" stroke-width="8.0" stroke-linecap="round"/>
<path d="M380.0,1227.3L399.7,1228.7" stroke="#2e3140" stroke-width="6.0" stroke-linecap="round"/>
<path d="M399.7,1228.7L419.4,1230.0" stroke="#d8dde8" stroke-width="6.0" stroke-linecap="round"/>
<path d="M391.1,1304.5L410.1,1306.6" stroke="#2e3140" stroke-width="6.0" stroke-linecap="round"/>
<path d="M410.1,1306.6L429.0,1308.7" stroke="#d8dde8" stroke-width="6.0" stroke-linecap="round"/>
<path d="M391.1,1304.5L379.7,1314.5" stroke="#2e3140" stroke-width="6.0" stroke-linecap="round"/>
<path d="M379.7,1314.5L368.3,1324.5" stroke="#d8dde8" stroke-width="6.0" stroke-linecap="round"/>
<path d="M324.9,1235.5L323.5,1247.2" stroke="#2e3140" stroke-width="5.0" stroke-linecap="round"/>
<path d="M323.5,1247.2L322.1,1259.0" stroke="#d8dde8" stroke-width="5.0" stroke-linecap="round"/>
<circle cx="287.6" cy="1170.7" r="6.0" fill="url(#gH)"/>
<circle cx="380.0" cy="1227.3" r="13.6" fill="url(#gA)"/>
<circle cx="324.2" cy="1180.4" r="12.8" fill="url(#gN)"/>
<circle cx="251.0" cy="1222.4" r="13.6" fill="url(#gO)"/>
<circle cx="322.1" cy="1259.0" r="5.0" fill="url(#gH)"/>
<circle cx="324.9" cy="1235.5" r="14.3" fill="url(#gA)"/>
<circle cx="282.1" cy="1249.3" r="14.3" fill="url(#gA)"/>
<circle cx="255.2" cy="1310.0" r="4.6" fill="url(#gH)"/>
<circle cx="280.7" cy="1301.1" r="13.6" fill="url(#gO)"/>
<circle cx="419.4" cy="1230.0" r="6.0" fill="url(#gH)"/>
<circle cx="378.7" cy="1249.3" r="13.6" fill="url(#gA)"/>
<circle cx="359.4" cy="1250.7" r="6.0" fill="url(#gH)"/>
<circle cx="383.5" cy="1320.4" r="4.6" fill="url(#gH)"/>
<circle cx="391.1" cy="1304.5" r="14.3" fill="url(#gA)"/>
<circle cx="429.0" cy="1308.7" r="6.0" fill="url(#gH)"/>
<circle cx="368.3" cy="1324.5" r="6.0" fill="url(#gH)"/>
<path d="M421.8,1194.6 L355.9,1180.6 L357.1,1175.0 L342.1,1183.1 L352.5,1196.5 L353.7,1190.9 L419.6,1204.8Z" fill="#a8c6e6" stroke="#4f86c0" stroke-width="2.2" stroke-linejoin="miter"/>
<path d="M247.2,1324.6 L253.4,1259.3 L259.3,1259.9 L248.3,1243.8 L234.4,1257.6 L240.4,1258.1 L234.2,1323.4Z" fill="#ff0a0a"/>
<text x="430" y="1212.5" font-size="32" fill="#4a7cb8">N</text>
<text x="226" y="1360.5" font-size="32" fill="#ff1010">O</text>
</g>
<g transform="translate(1197.0 -3.0)">
<path d="M287.6,1170.7L305.9,1175.6" stroke="#d8dde8" stroke-width="5.5" stroke-linecap="round"/>
<path d="M305.9,1175.6L324.2,1180.4" stroke="#3d8fd6" stroke-width="5.5" stroke-linecap="round"/>
<path d="M324.2,1180.4L324.5,1208.0" stroke="#3d8fd6" stroke-width="7.0" stroke-linecap="round"/>
<path d="M324.5,1208.0L324.9,1235.5" stroke="#2e3140" stroke-width="7.0" stroke-linecap="round"/>
<path d="M282.1,1249.3L266.6,1235.8" stroke="#2e3140" stroke-width="7.0" stroke-linecap="round"/>
<path d="M266.6,1235.8L251.0,1222.4" stroke="#8a1020" stroke-width="7.0" stroke-linecap="round"/>
<path d="M282.1,1249.3L303.5,1242.4" stroke="#2e3140" stroke-width="8.0" stroke-linecap="round"/>
<path d="M303.5,1242.4L324.9,1235.5" stroke="#2e3140" stroke-width="8.0" stroke-linecap="round"/>
<path d="M324.9,1235.5L351.8,1242.4" stroke="#2e3140" stroke-width="8.0" stroke-linecap="round"/>
<path d="M351.8,1242.4L378.7,1249.3" stroke="#2e3140" stroke-width="8.0" stroke-linecap="round"/>
<path d="M282.1,1249.3L281.4,1275.2" stroke="#2e3140" stroke-width="7.0" stroke-linecap="round"/>
<path d="M281.4,1275.2L280.7,1301.1" stroke="#8a1020" stroke-width="7.0" stroke-linecap="round"/>
<path d="M280.7,1301.1L267.9,1305.5" stroke="#8a1020" stroke-width="5.0" stroke-linecap="round"/>
<path d="M267.9,1305.5L255.2,1310.0" stroke="#d8dde8" stroke-width="5.0" stroke-linecap="round"/>
<path d="M378.7,1249.3L384.9,1276.9" stroke="#2e3140" stroke-width="8.0" stroke-linecap="round"/>
<path d="M384.9,1276.9L391.1,1304.5" stroke="#2e3140" stroke-width="8.0" stroke-linecap="round"/>
<path d="M380.0,1227.3L375.9,1216.2" stroke="#2e3140" stroke-width="8.0" stroke-linecap="round"/>
<path d="M375.9,1216.2L371.8,1205.2" stroke="#2e3140" stroke-width="8.0" stroke-linecap="round"/>
<path d="M380.0,1227.3L399.7,1228.7" stroke="#2e3140" stroke-width="6.0" stroke-linecap="round"/>
<path d="M399.7,1228.7L419.4,1230.0" stroke="#d8dde8" stroke-width="6.0" stroke-linecap="round"/>
<path d="M391.1,1304.5L410.1,1306.6" stroke="#2e3140" stroke-width="6.0" stroke-linecap="round"/>
<path d="M410.1,1306.6L429.0,1308.7" stroke="#d8dde8" stroke-width="6.0" stroke-linecap="round"/>
<path d="M391.1,1304.5L379.7,1314.5" stroke="#2e3140" stroke-width="6.0" stroke-linecap="round"/>
<path d="M379.7,1314.5L368.3,1324.5" stroke="#d8dde8" stroke-width="6.0" stroke-linecap="round"/>
<path d="M324.9,1235.5L323.5,1247.2" stroke="#2e3140" stroke-width="5.0" stroke-linecap="round"/>
<path d="M323.5,1247.2L322.1,1259.0" stroke="#d8dde8" stroke-width="5.0" stroke-linecap="round"/>
<circle cx="287.6" cy="1170.7" r="6.0" fill="url(#gH)"/>
<circle cx="380.0" cy="1227.3" r="13.6" fill="url(#gA)"/>
<circle cx="324.2" cy="1180.4" r="12.8" fill="url(#gN)"/>
<circle cx="251.0" cy="1222.4" r="13.6" fill="url(#gO)"/>
<circle cx="322.1" cy="1259.0" r="5.0" fill="url(#gH)"/>
<circle cx="324.9" cy="1235.5" r="14.3" fill="url(#gA)"/>
<circle cx="282.1" cy="1249.3" r="14.3" fill="url(#gA)"/>
<circle cx="255.2" cy="1310.0" r="4.6" fill="url(#gH)"/>
<circle cx="280.7" cy="1301.1" r="13.6" fill="url(#gO)"/>
<circle cx="419.4" cy="1230.0" r="6.0" fill="url(#gH)"/>
<circle cx="378.7" cy="1249.3" r="13.6" fill="url(#gA)"/>
<circle cx="359.4" cy="1250.7" r="6.0" fill="url(#gH)"/>
<circle cx="383.5" cy="1320.4" r="4.6" fill="url(#gH)"/>
<circle cx="391.1" cy="1304.5" r="14.3" fill="url(#gA)"/>
<circle cx="429.0" cy="1308.7" r="6.0" fill="url(#gH)"/>
<circle cx="368.3" cy="1324.5" r="6.0" fill="url(#gH)"/>
<path d="M421.8,1194.6 L355.9,1180.6 L357.1,1175.0 L342.1,1183.1 L352.5,1196.5 L353.7,1190.9 L419.6,1204.8Z" fill="#a8c6e6" stroke="#4f86c0" stroke-width="2.2" stroke-linejoin="miter"/>
<path d="M247.2,1324.6 L253.4,1259.3 L259.3,1259.9 L248.3,1243.8 L234.4,1257.6 L240.4,1258.1 L234.2,1323.4Z" fill="#ff0a0a"/>
<text x="430" y="1212.5" font-size="32" fill="#4a7cb8">N</text>
<text x="226" y="1360.5" font-size="32" fill="#ff1010">O</text>
</g>
<text font-size="71" transform="translate(-3.0 57.7) scale(1 0.96)">a</text>
<text font-size="71" transform="translate(30.4 56.8) scale(1.2 0.95)">)</text>
<text font-size="71" transform="translate(640.7 58.2) scale(1 0.96)">b</text>
<text font-size="71" transform="translate(678.5 56.9) scale(1.2 0.95)">)</text>
<text font-size="71" transform="translate(1283.0 48.8) scale(1 0.90)">c</text>
<text font-size="71" transform="translate(1312.4 46.6) scale(1.2 0.95)">)</text>
<text x="0" y="0" font-size="29" text-anchor="middle" transform="translate(35.3 468.4) rotate(-90)">PDOS(States/eV)</text>
<text x="0" y="0" font-size="29" text-anchor="middle" transform="translate(665.6 424.3) rotate(-90)">PDOS(States/eV)</text>
<text x="0" y="0" font-size="29" text-anchor="middle" transform="translate(1289.4 433.9) rotate(-90)">PDOS(States/eV)</text>
</svg></body></html>
